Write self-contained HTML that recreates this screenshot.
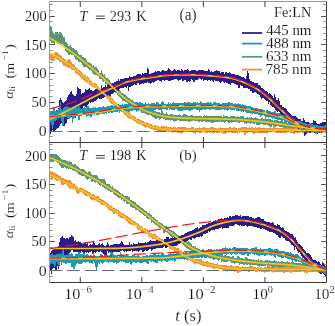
<!DOCTYPE html>
<html><head><meta charset="utf-8"><style>
html,body{margin:0;padding:0;background:#fff;}
body{width:335px;height:326px;overflow:hidden;position:relative;font-family:"Liberation Serif",serif;}
</style></head><body>
<svg width="335" height="326" viewBox="0 0 335 326" style="position:absolute;left:0;top:0;will-change:transform">
<defs><clipPath id="ca"><rect x="50" y="2" width="276" height="140"/></clipPath><clipPath id="cb"><rect x="50" y="143" width="276" height="139"/></clipPath></defs>
<g stroke="#3a3a3a" stroke-width="1" fill="none">
<path d="M49.5 1.5 H326.5" stroke="#9a9a9a"/>
<path d="M49.5 1.5 V282.5" stroke="#a0a0a0"/>
<path d="M326.5 1.5 V282.5 H49.5" stroke="#3a3a3a"/>
<line x1="49.5" y1="142.5" x2="326.5" y2="142.5" stroke="#3a3a3a"/>
<line x1="49.5" y1="136.50" x2="52.60" y2="136.50" stroke="#8a8a8a"/>
<line x1="326.5" y1="136.50" x2="323.40" y2="136.50" stroke="#8a8a8a"/>
<line x1="49.5" y1="131.50" x2="55.00" y2="131.50" stroke="#555"/>
<line x1="326.5" y1="131.50" x2="321.00" y2="131.50" stroke="#555"/>
<line x1="49.5" y1="125.50" x2="52.60" y2="125.50" stroke="#8a8a8a"/>
<line x1="326.5" y1="125.50" x2="323.40" y2="125.50" stroke="#8a8a8a"/>
<line x1="49.5" y1="119.50" x2="52.60" y2="119.50" stroke="#8a8a8a"/>
<line x1="326.5" y1="119.50" x2="323.40" y2="119.50" stroke="#8a8a8a"/>
<line x1="49.5" y1="113.50" x2="52.60" y2="113.50" stroke="#8a8a8a"/>
<line x1="326.5" y1="113.50" x2="323.40" y2="113.50" stroke="#8a8a8a"/>
<line x1="49.5" y1="108.50" x2="52.60" y2="108.50" stroke="#8a8a8a"/>
<line x1="326.5" y1="108.50" x2="323.40" y2="108.50" stroke="#8a8a8a"/>
<line x1="49.5" y1="102.50" x2="55.00" y2="102.50" stroke="#555"/>
<line x1="326.5" y1="102.50" x2="321.00" y2="102.50" stroke="#555"/>
<line x1="49.5" y1="96.50" x2="52.60" y2="96.50" stroke="#8a8a8a"/>
<line x1="326.5" y1="96.50" x2="323.40" y2="96.50" stroke="#8a8a8a"/>
<line x1="49.5" y1="90.50" x2="52.60" y2="90.50" stroke="#8a8a8a"/>
<line x1="326.5" y1="90.50" x2="323.40" y2="90.50" stroke="#8a8a8a"/>
<line x1="49.5" y1="85.50" x2="52.60" y2="85.50" stroke="#8a8a8a"/>
<line x1="326.5" y1="85.50" x2="323.40" y2="85.50" stroke="#8a8a8a"/>
<line x1="49.5" y1="79.50" x2="52.60" y2="79.50" stroke="#8a8a8a"/>
<line x1="326.5" y1="79.50" x2="323.40" y2="79.50" stroke="#8a8a8a"/>
<line x1="49.5" y1="73.50" x2="55.00" y2="73.50" stroke="#555"/>
<line x1="326.5" y1="73.50" x2="321.00" y2="73.50" stroke="#555"/>
<line x1="49.5" y1="67.50" x2="52.60" y2="67.50" stroke="#8a8a8a"/>
<line x1="326.5" y1="67.50" x2="323.40" y2="67.50" stroke="#8a8a8a"/>
<line x1="49.5" y1="62.50" x2="52.60" y2="62.50" stroke="#8a8a8a"/>
<line x1="326.5" y1="62.50" x2="323.40" y2="62.50" stroke="#8a8a8a"/>
<line x1="49.5" y1="56.50" x2="52.60" y2="56.50" stroke="#8a8a8a"/>
<line x1="326.5" y1="56.50" x2="323.40" y2="56.50" stroke="#8a8a8a"/>
<line x1="49.5" y1="50.50" x2="52.60" y2="50.50" stroke="#8a8a8a"/>
<line x1="326.5" y1="50.50" x2="323.40" y2="50.50" stroke="#8a8a8a"/>
<line x1="49.5" y1="44.50" x2="55.00" y2="44.50" stroke="#555"/>
<line x1="326.5" y1="44.50" x2="321.00" y2="44.50" stroke="#555"/>
<line x1="49.5" y1="39.50" x2="52.60" y2="39.50" stroke="#8a8a8a"/>
<line x1="326.5" y1="39.50" x2="323.40" y2="39.50" stroke="#8a8a8a"/>
<line x1="49.5" y1="33.50" x2="52.60" y2="33.50" stroke="#8a8a8a"/>
<line x1="326.5" y1="33.50" x2="323.40" y2="33.50" stroke="#8a8a8a"/>
<line x1="49.5" y1="27.50" x2="52.60" y2="27.50" stroke="#8a8a8a"/>
<line x1="326.5" y1="27.50" x2="323.40" y2="27.50" stroke="#8a8a8a"/>
<line x1="49.5" y1="21.50" x2="52.60" y2="21.50" stroke="#8a8a8a"/>
<line x1="326.5" y1="21.50" x2="323.40" y2="21.50" stroke="#8a8a8a"/>
<line x1="49.5" y1="16.50" x2="55.00" y2="16.50" stroke="#555"/>
<line x1="326.5" y1="16.50" x2="321.00" y2="16.50" stroke="#555"/>
<line x1="49.5" y1="10.50" x2="52.60" y2="10.50" stroke="#8a8a8a"/>
<line x1="326.5" y1="10.50" x2="323.40" y2="10.50" stroke="#8a8a8a"/>
<line x1="49.5" y1="4.50" x2="52.60" y2="4.50" stroke="#8a8a8a"/>
<line x1="326.5" y1="4.50" x2="323.40" y2="4.50" stroke="#8a8a8a"/>
<line x1="49.5" y1="276.50" x2="52.60" y2="276.50" stroke="#8a8a8a"/>
<line x1="326.5" y1="276.50" x2="323.40" y2="276.50" stroke="#8a8a8a"/>
<line x1="49.5" y1="270.50" x2="55.00" y2="270.50" stroke="#555"/>
<line x1="326.5" y1="270.50" x2="321.00" y2="270.50" stroke="#555"/>
<line x1="49.5" y1="264.50" x2="52.60" y2="264.50" stroke="#8a8a8a"/>
<line x1="326.5" y1="264.50" x2="323.40" y2="264.50" stroke="#8a8a8a"/>
<line x1="49.5" y1="259.50" x2="52.60" y2="259.50" stroke="#8a8a8a"/>
<line x1="326.5" y1="259.50" x2="323.40" y2="259.50" stroke="#8a8a8a"/>
<line x1="49.5" y1="253.50" x2="52.60" y2="253.50" stroke="#8a8a8a"/>
<line x1="326.5" y1="253.50" x2="323.40" y2="253.50" stroke="#8a8a8a"/>
<line x1="49.5" y1="247.50" x2="52.60" y2="247.50" stroke="#8a8a8a"/>
<line x1="326.5" y1="247.50" x2="323.40" y2="247.50" stroke="#8a8a8a"/>
<line x1="49.5" y1="241.50" x2="55.00" y2="241.50" stroke="#555"/>
<line x1="326.5" y1="241.50" x2="321.00" y2="241.50" stroke="#555"/>
<line x1="49.5" y1="236.50" x2="52.60" y2="236.50" stroke="#8a8a8a"/>
<line x1="326.5" y1="236.50" x2="323.40" y2="236.50" stroke="#8a8a8a"/>
<line x1="49.5" y1="230.50" x2="52.60" y2="230.50" stroke="#8a8a8a"/>
<line x1="326.5" y1="230.50" x2="323.40" y2="230.50" stroke="#8a8a8a"/>
<line x1="49.5" y1="224.50" x2="52.60" y2="224.50" stroke="#8a8a8a"/>
<line x1="326.5" y1="224.50" x2="323.40" y2="224.50" stroke="#8a8a8a"/>
<line x1="49.5" y1="218.50" x2="52.60" y2="218.50" stroke="#8a8a8a"/>
<line x1="326.5" y1="218.50" x2="323.40" y2="218.50" stroke="#8a8a8a"/>
<line x1="49.5" y1="213.50" x2="55.00" y2="213.50" stroke="#555"/>
<line x1="326.5" y1="213.50" x2="321.00" y2="213.50" stroke="#555"/>
<line x1="49.5" y1="207.50" x2="52.60" y2="207.50" stroke="#8a8a8a"/>
<line x1="326.5" y1="207.50" x2="323.40" y2="207.50" stroke="#8a8a8a"/>
<line x1="49.5" y1="201.50" x2="52.60" y2="201.50" stroke="#8a8a8a"/>
<line x1="326.5" y1="201.50" x2="323.40" y2="201.50" stroke="#8a8a8a"/>
<line x1="49.5" y1="195.50" x2="52.60" y2="195.50" stroke="#8a8a8a"/>
<line x1="326.5" y1="195.50" x2="323.40" y2="195.50" stroke="#8a8a8a"/>
<line x1="49.5" y1="190.50" x2="52.60" y2="190.50" stroke="#8a8a8a"/>
<line x1="326.5" y1="190.50" x2="323.40" y2="190.50" stroke="#8a8a8a"/>
<line x1="49.5" y1="184.50" x2="55.00" y2="184.50" stroke="#555"/>
<line x1="326.5" y1="184.50" x2="321.00" y2="184.50" stroke="#555"/>
<line x1="49.5" y1="178.50" x2="52.60" y2="178.50" stroke="#8a8a8a"/>
<line x1="326.5" y1="178.50" x2="323.40" y2="178.50" stroke="#8a8a8a"/>
<line x1="49.5" y1="172.50" x2="52.60" y2="172.50" stroke="#8a8a8a"/>
<line x1="326.5" y1="172.50" x2="323.40" y2="172.50" stroke="#8a8a8a"/>
<line x1="49.5" y1="167.50" x2="52.60" y2="167.50" stroke="#8a8a8a"/>
<line x1="326.5" y1="167.50" x2="323.40" y2="167.50" stroke="#8a8a8a"/>
<line x1="49.5" y1="161.50" x2="52.60" y2="161.50" stroke="#8a8a8a"/>
<line x1="326.5" y1="161.50" x2="323.40" y2="161.50" stroke="#8a8a8a"/>
<line x1="49.5" y1="155.50" x2="55.00" y2="155.50" stroke="#555"/>
<line x1="326.5" y1="155.50" x2="321.00" y2="155.50" stroke="#555"/>
<line x1="49.5" y1="149.50" x2="52.60" y2="149.50" stroke="#8a8a8a"/>
<line x1="326.5" y1="149.50" x2="323.40" y2="149.50" stroke="#8a8a8a"/>
<line x1="49.5" y1="144.50" x2="52.60" y2="144.50" stroke="#8a8a8a"/>
<line x1="326.5" y1="144.50" x2="323.40" y2="144.50" stroke="#8a8a8a"/>
<line x1="80.28" y1="1.50" x2="80.28" y2="7.00"/>
<line x1="80.28" y1="142.50" x2="80.28" y2="137.00"/>
<line x1="80.28" y1="142.50" x2="80.28" y2="148.00"/>
<line x1="80.28" y1="282.50" x2="80.28" y2="277.00"/>
<line x1="141.83" y1="1.50" x2="141.83" y2="7.00"/>
<line x1="141.83" y1="142.50" x2="141.83" y2="137.00"/>
<line x1="141.83" y1="142.50" x2="141.83" y2="148.00"/>
<line x1="141.83" y1="282.50" x2="141.83" y2="277.00"/>
<line x1="203.39" y1="1.50" x2="203.39" y2="7.00"/>
<line x1="203.39" y1="142.50" x2="203.39" y2="137.00"/>
<line x1="203.39" y1="142.50" x2="203.39" y2="148.00"/>
<line x1="203.39" y1="282.50" x2="203.39" y2="277.00"/>
<line x1="264.94" y1="1.50" x2="264.94" y2="7.00"/>
<line x1="264.94" y1="142.50" x2="264.94" y2="137.00"/>
<line x1="264.94" y1="142.50" x2="264.94" y2="148.00"/>
<line x1="264.94" y1="282.50" x2="264.94" y2="277.00"/>
</g>
<g clip-path="url(#ca)" fill="none" stroke-linejoin="round">
<path d="M49.3 25.1 L49.8 25.5 L50.3 25.9 L50.8 26.3 L51.3 26.7 L51.8 28.7 L52.3 29.1 L52.8 32.5 L53.3 32.9 L53.8 33.2 L54.3 33.6 L54.8 33.8 L55.3 31.9 L55.8 32.3 L56.3 32.7 L56.8 31.9 L57.3 32.3 L57.8 32.7 L58.3 33.1 L58.8 34.6 L59.3 32.3 L59.8 32.7 L60.3 33.1 L60.8 31.5 L61.3 32.0 L61.8 34.6 L62.3 35.1 L62.8 35.9 L63.3 36.4 L63.8 36.8 L64.3 37.3 L64.8 37.3 L65.3 41.6 L65.8 42.0 L66.3 41.6 L66.8 42.0 L67.3 42.4 L67.8 45.3 L68.3 45.8 L68.8 46.2 L69.3 45.4 L69.8 45.8 L70.3 44.6 L70.8 45.0 L71.3 46.7 L71.8 47.1 L72.3 47.5 L72.8 48.9 L73.3 47.9 L73.8 48.3 L74.3 48.7 L74.8 49.3 L75.3 49.7 L75.8 49.8 L76.3 50.2 L76.8 50.7 L77.3 51.1 L77.8 53.6 L78.3 54.3 L78.8 54.7 L79.3 55.1 L79.8 54.4 L80.3 54.8 L80.8 55.3 L81.3 54.8 L81.8 55.1 L82.3 56.6 L82.8 57.0 L83.3 56.7 L83.8 57.2 L84.3 57.6 L84.8 57.6 L85.3 58.1 L85.8 59.1 L86.3 59.6 L86.8 60.0 L87.3 61.5 L87.8 62.0 L88.3 62.4 L88.8 62.5 L89.3 62.4 L89.8 62.8 L90.3 62.4 L90.8 62.9 L91.3 63.6 L91.8 65.2 L92.3 65.6 L92.8 65.7 L93.3 65.2 L93.8 65.7 L94.3 67.4 L94.8 67.1 L95.3 67.5 L95.8 66.3 L96.3 66.8 L96.8 68.5 L97.3 68.9 L97.8 69.4 L98.3 69.9 L98.8 69.5 L99.3 72.5 L99.8 72.9 L100.3 73.2 L100.8 73.6 L101.3 69.8 L101.8 70.2 L102.3 71.5 L102.8 74.5 L103.3 74.7 L103.8 75.2 L104.3 73.9 L104.8 74.3 L105.3 76.6 L105.8 77.1 L106.3 77.4 L106.8 77.8 L107.3 78.5 L107.8 78.3 L108.3 78.8 L108.8 78.5 L109.3 79.0 L109.8 81.1 L110.3 81.6 L110.8 82.9 L111.3 83.4 L111.8 83.3 L112.3 83.6 L112.8 84.1 L113.3 83.9 L113.8 85.2 L114.3 85.2 L114.8 85.7 L115.3 86.3 L115.8 86.7 L116.3 86.5 L116.8 87.0 L117.3 89.2 L117.8 89.8 L118.3 90.3 L118.8 89.3 L119.3 89.8 L119.8 90.4 L120.3 90.8 L120.8 91.2 L121.3 92.6 L121.8 92.8 L122.3 93.1 L122.8 93.6 L123.3 94.0 L123.8 94.2 L124.3 94.6 L124.8 93.9 L125.3 94.3 L125.8 95.1 L126.3 95.5 L126.8 97.0 L127.3 97.3 L127.8 97.8 L128.3 98.1 L128.8 98.2 L129.3 98.3 L129.8 98.4 L130.3 98.5 L130.8 98.9 L131.3 100.1 L131.8 100.4 L132.3 99.7 L132.8 100.0 L133.3 101.4 L133.8 101.5 L134.3 101.5 L134.8 101.7 L135.3 102.0 L135.8 102.0 L136.3 102.3 L136.8 103.4 L137.3 103.7 L137.8 104.2 L138.3 104.5 L138.8 104.3 L139.3 104.6 L139.8 104.9 L140.3 105.2 L140.8 105.5 L141.3 104.6 L141.8 104.9 L142.3 104.5 L142.8 105.6 L143.3 106.4 L143.8 106.6 L144.3 106.6 L144.8 106.9 L145.3 108.5 L145.8 108.7 L146.3 106.5 L146.8 106.7 L147.3 106.9 L147.8 107.6 L148.3 107.8 L148.8 108.7 L149.3 108.2 L149.8 108.4 L150.3 108.5 L150.8 108.6 L151.3 109.8 L151.8 110.2 L152.3 110.4 L152.8 110.5 L153.3 109.8 L153.8 110.7 L154.3 110.5 L154.8 111.1 L155.3 111.3 L155.8 111.7 L156.3 111.9 L156.8 112.0 L157.3 111.3 L157.8 112.0 L158.3 112.2 L158.8 112.0 L159.3 112.2 L159.8 112.6 L160.3 113.2 L160.8 113.3 L161.3 110.2 L161.8 110.3 L162.3 110.5 L162.8 110.6 L163.3 111.5 L163.8 114.1 L164.3 113.4 L164.8 114.2 L165.3 114.3 L165.8 114.5 L166.3 112.5 L166.8 112.2 L167.3 114.2 L167.8 114.4 L168.3 114.7 L168.8 115.2 L169.3 115.1 L169.8 114.5 L170.3 114.5 L170.8 114.4 L171.3 114.5 L171.8 113.6 L172.3 113.7 L172.8 114.2 L173.3 114.7 L173.8 114.7 L174.3 115.1 L174.8 115.1 L175.3 114.5 L175.8 114.6 L176.3 114.7 L176.8 114.6 L177.3 114.8 L177.8 114.8 L178.3 115.1 L178.8 114.3 L179.3 114.3 L179.8 114.2 L180.3 114.2 L180.8 115.7 L181.3 115.7 L181.8 115.8 L182.3 115.8 L182.8 114.2 L183.3 114.2 L183.8 114.3 L184.3 114.2 L184.8 114.3 L185.3 114.4 L185.8 114.3 L186.3 114.3 L186.8 114.9 L187.3 115.1 L187.8 115.5 L188.3 115.5 L188.8 116.1 L189.3 115.7 L189.8 115.5 L190.3 115.6 L190.8 115.0 L191.3 115.0 L191.8 114.4 L192.3 115.1 L192.8 115.5 L193.3 115.5 L193.8 115.7 L194.3 115.7 L194.8 115.7 L195.3 116.4 L195.8 116.4 L196.3 116.4 L196.8 116.0 L197.3 116.0 L197.8 116.0 L198.3 115.7 L198.8 115.7 L199.3 116.1 L199.8 116.1 L200.3 116.0 L200.8 116.2 L201.3 116.2 L201.8 116.7 L202.3 116.7 L202.8 116.4 L203.3 116.4 L203.8 116.1 L204.3 114.7 L204.8 114.7 L205.3 115.8 L205.8 116.1 L206.3 114.6 L206.8 114.6 L207.3 116.3 L207.8 116.0 L208.3 116.0 L208.8 116.3 L209.3 116.3 L209.8 115.9 L210.3 115.7 L210.8 116.4 L211.3 116.4 L211.8 116.4 L212.3 116.4 L212.8 115.5 L213.3 115.6 L213.8 115.6 L214.3 115.5 L214.8 115.5 L215.3 115.8 L215.8 115.8 L216.3 115.6 L216.8 116.2 L217.3 116.2 L217.8 116.2 L218.3 116.2 L218.8 115.7 L219.3 115.7 L219.8 115.4 L220.3 115.4 L220.8 116.0 L221.3 116.0 L221.8 116.7 L222.3 116.8 L222.8 116.5 L223.3 115.4 L223.8 115.5 L224.3 115.6 L224.8 115.8 L225.3 116.5 L225.8 115.7 L226.3 115.7 L226.8 115.4 L227.3 115.5 L227.8 116.5 L228.3 116.5 L228.8 116.6 L229.3 116.6 L229.8 116.6 L230.3 115.6 L230.8 115.6 L231.3 116.1 L231.8 116.1 L232.3 115.5 L232.8 115.5 L233.3 116.1 L233.8 116.2 L234.3 116.3 L234.8 116.4 L235.3 117.0 L235.8 116.9 L236.3 116.9 L236.8 116.2 L237.3 116.1 L237.8 117.1 L238.3 117.2 L238.8 117.3 L239.3 117.1 L239.8 117.3 L240.3 116.7 L240.8 116.2 L241.3 116.1 L241.8 116.2 L242.3 116.2 L242.8 116.3 L243.3 116.0 L243.8 116.7 L244.3 117.9 L244.8 118.3 L245.3 117.5 L245.8 117.5 L246.3 117.8 L246.8 117.9 L247.3 117.3 L247.8 117.4 L248.3 117.7 L248.8 117.7 L249.3 116.9 L249.8 116.9 L250.3 117.4 L250.8 117.8 L251.3 116.9 L251.8 116.3 L252.3 117.7 L252.8 117.8 L253.3 118.5 L253.8 117.6 L254.3 117.5 L254.8 117.5 L255.3 117.1 L255.8 117.9 L256.3 118.1 L256.8 118.1 L257.3 118.2 L257.8 118.5 L258.3 118.5 L258.8 118.7 L259.3 118.8 L259.8 118.7 L260.3 118.7 L260.8 118.7 L261.3 117.7 L261.8 117.8 L262.3 118.0 L262.8 118.9 L263.3 119.0 L263.8 119.0 L264.3 119.4 L264.8 118.4 L265.3 118.7 L265.8 118.1 L266.3 118.8 L266.8 119.3 L267.3 119.3 L267.8 119.2 L268.3 119.1 L268.8 119.1 L269.3 119.2 L269.8 119.8 L270.3 119.2 L270.8 119.3 L271.3 120.0 L271.8 120.0 L272.3 119.4 L272.8 120.1 L273.3 120.5 L273.8 120.6 L274.3 119.6 L274.8 119.7 L275.3 119.6 L275.8 119.7 L276.3 119.4 L276.8 119.9 L277.3 119.9 L277.8 119.8 L278.3 120.9 L278.8 121.2 L279.3 121.3 L279.8 121.6 L280.3 121.7 L280.8 121.1 L281.3 121.4 L281.8 121.5 L282.3 121.6 L282.8 121.7 L283.3 122.2 L283.8 122.5 L284.3 122.6 L284.8 122.1 L285.3 121.8 L285.8 122.1 L286.3 122.7 L286.8 122.3 L287.3 122.3 L287.8 123.1 L288.3 121.7 L288.8 121.8 L289.3 121.7 L289.8 122.4 L290.3 122.5 L290.8 123.1 L291.3 123.5 L291.8 123.6 L292.3 123.7 L292.8 122.9 L293.3 123.0 L293.8 123.2 L294.3 123.3 L294.8 123.4 L295.3 122.6 L295.8 122.6 L296.3 122.7 L296.8 124.3 L297.3 124.3 L297.8 124.0 L298.3 124.0 L298.8 124.2 L299.3 124.2 L299.8 124.7 L300.3 123.8 L300.8 123.5 L301.3 123.2 L301.8 123.6 L302.3 123.7 L302.8 124.7 L303.3 122.8 L303.8 122.8 L304.3 122.9 L304.8 122.9 L305.3 123.1 L305.8 123.1 L306.3 125.8 L306.8 125.8 L307.3 125.2 L307.8 125.3 L308.3 125.7 L308.8 125.7 L309.3 125.8 L309.8 125.8 L310.3 125.8 L310.8 125.4 L311.3 125.5 L311.8 125.5 L312.3 126.6 L312.8 126.7 L313.3 125.9 L313.8 125.5 L314.3 125.4 L314.8 125.4 L315.3 125.6 L315.8 125.8 L316.3 125.8 L316.8 125.6 L317.3 126.3 L317.8 126.9 L318.3 127.0 L318.8 127.0 L319.3 126.5 L319.8 126.6 L320.3 125.5 L320.8 125.5 L321.3 125.9 L321.8 124.9 L322.3 125.5 L322.8 124.3 L323.3 124.3 L323.8 126.6 L324.3 126.7 L324.8 127.2 L325.3 126.7 L325.8 126.8 L326.3 127.5 L326.3 132.6 L325.8 131.9 L325.3 132.2 L324.8 133.1 L324.3 133.1 L323.8 133.1 L323.3 132.0 L322.8 132.0 L322.3 132.4 L321.8 131.8 L321.3 131.8 L320.8 131.4 L320.3 132.5 L319.8 132.6 L319.3 132.5 L318.8 133.0 L318.3 133.0 L317.8 132.3 L317.3 132.3 L316.8 131.6 L316.3 131.6 L315.8 131.6 L315.3 131.6 L314.8 131.4 L314.3 131.9 L313.8 132.0 L313.3 131.9 L312.8 131.6 L312.3 131.5 L311.8 130.9 L311.3 130.9 L310.8 130.8 L310.3 131.4 L309.8 131.3 L309.3 131.5 L308.8 131.5 L308.3 131.4 L307.8 131.2 L307.3 131.0 L306.8 131.6 L306.3 131.5 L305.8 129.6 L305.3 129.6 L304.8 129.7 L304.3 129.8 L303.8 129.7 L303.3 129.7 L302.8 129.6 L302.3 130.0 L301.8 130.2 L301.3 129.8 L300.8 129.7 L300.3 129.6 L299.8 129.5 L299.3 129.0 L298.8 129.0 L298.3 130.1 L297.8 130.1 L297.3 130.4 L296.8 129.5 L296.3 129.0 L295.8 128.9 L295.3 129.0 L294.8 129.0 L294.3 128.8 L293.8 128.8 L293.3 128.6 L292.8 129.0 L292.3 129.7 L291.8 129.6 L291.3 128.8 L290.8 128.4 L290.3 127.8 L289.8 127.8 L289.3 127.7 L288.8 127.8 L288.3 127.9 L287.8 128.4 L287.3 127.6 L286.8 127.9 L286.3 128.3 L285.8 128.2 L285.3 127.9 L284.8 127.8 L284.3 127.4 L283.8 127.4 L283.3 127.7 L282.8 127.6 L282.3 127.0 L281.8 126.9 L281.3 126.8 L280.8 127.0 L280.3 127.4 L279.8 127.3 L279.3 127.4 L278.8 126.4 L278.3 126.1 L277.8 126.1 L277.3 126.7 L276.8 126.6 L276.3 126.1 L275.8 127.2 L275.3 127.1 L274.8 127.2 L274.3 127.1 L273.8 127.2 L273.3 125.6 L272.8 125.1 L272.3 125.1 L271.8 125.7 L271.3 127.7 L270.8 127.0 L270.3 127.0 L269.8 126.4 L269.3 125.7 L268.8 125.7 L268.3 125.7 L267.8 125.6 L267.3 124.8 L266.8 124.7 L266.3 124.2 L265.8 124.1 L265.3 125.6 L264.8 125.3 L264.3 125.2 L263.8 124.8 L263.3 124.5 L262.8 124.5 L262.3 124.3 L261.8 124.1 L261.3 124.0 L260.8 124.0 L260.3 124.7 L259.8 124.6 L259.3 124.7 L258.8 124.7 L258.3 124.9 L257.8 124.8 L257.3 124.8 L256.8 124.7 L256.3 124.7 L255.8 123.4 L255.3 123.3 L254.8 123.7 L254.3 123.8 L253.8 124.0 L253.3 124.0 L252.8 123.2 L252.3 122.6 L251.8 122.6 L251.3 124.1 L250.8 124.0 L250.3 123.6 L249.8 123.1 L249.3 122.7 L248.8 123.3 L248.3 123.2 L247.8 122.9 L247.3 122.9 L246.8 124.4 L246.3 124.4 L245.8 123.1 L245.3 123.0 L244.8 123.8 L244.3 123.8 L243.8 122.6 L243.3 121.9 L242.8 122.2 L242.3 122.1 L241.8 122.1 L241.3 122.0 L240.8 122.2 L240.3 122.7 L239.8 123.1 L239.3 122.8 L238.8 123.0 L238.3 122.8 L237.8 122.8 L237.3 121.8 L236.8 121.7 L236.3 122.0 L235.8 122.0 L235.3 122.0 L234.8 121.5 L234.3 122.0 L233.8 121.8 L233.3 122.0 L232.8 122.4 L232.3 122.4 L231.8 122.6 L231.3 122.8 L230.8 122.4 L230.3 122.4 L229.8 122.6 L229.3 122.6 L228.8 122.6 L228.3 122.5 L227.8 122.5 L227.3 121.2 L226.8 121.2 L226.3 120.9 L225.8 120.9 L225.3 122.9 L224.8 122.9 L224.3 122.7 L223.8 122.7 L223.3 121.7 L222.8 121.7 L222.3 121.9 L221.8 121.9 L221.3 121.4 L220.8 121.3 L220.3 121.4 L219.8 121.4 L219.3 121.7 L218.8 122.1 L218.3 122.1 L217.8 122.0 L217.3 121.7 L216.8 121.8 L216.3 121.7 L215.8 121.9 L215.3 122.5 L214.8 122.2 L214.3 122.2 L213.8 122.7 L213.3 122.7 L212.8 122.7 L212.3 122.6 L211.8 122.6 L211.3 122.6 L210.8 122.6 L210.3 121.6 L209.8 121.6 L209.3 122.0 L208.8 122.0 L208.3 121.6 L207.8 121.7 L207.3 122.0 L206.8 122.0 L206.3 122.0 L205.8 122.0 L205.3 121.5 L204.8 121.5 L204.3 121.4 L203.8 121.1 L203.3 121.4 L202.8 121.4 L202.3 122.0 L201.8 122.0 L201.3 121.5 L200.8 121.5 L200.3 121.2 L199.8 121.3 L199.3 122.1 L198.8 121.6 L198.3 121.6 L197.8 122.1 L197.3 121.0 L196.8 121.0 L196.3 121.3 L195.8 121.3 L195.3 121.4 L194.8 120.7 L194.3 120.7 L193.8 120.5 L193.3 120.3 L192.8 120.3 L192.3 121.0 L191.8 120.3 L191.3 120.8 L190.8 120.8 L190.3 121.3 L189.8 121.6 L189.3 121.7 L188.8 122.1 L188.3 121.4 L187.8 121.3 L187.3 120.9 L186.8 120.7 L186.3 120.7 L185.8 121.4 L185.3 121.5 L184.8 121.5 L184.3 121.4 L183.8 120.8 L183.3 120.7 L182.8 120.7 L182.3 120.9 L181.8 120.9 L181.3 120.7 L180.8 120.7 L180.3 120.6 L179.8 120.5 L179.3 120.7 L178.8 120.4 L178.3 120.4 L177.8 120.1 L177.3 120.0 L176.8 121.3 L176.3 121.3 L175.8 121.2 L175.3 121.2 L174.8 121.8 L174.3 121.4 L173.8 121.5 L173.3 120.7 L172.8 120.2 L172.3 119.7 L171.8 119.6 L171.3 121.1 L170.8 121.1 L170.3 121.2 L169.8 119.7 L169.3 120.4 L168.8 120.3 L168.3 119.8 L167.8 119.7 L167.3 119.8 L166.8 119.7 L166.3 120.1 L165.8 119.7 L165.3 119.5 L164.8 119.4 L164.3 118.5 L163.8 119.1 L163.3 119.0 L162.8 118.1 L162.3 118.0 L161.8 117.9 L161.3 117.8 L160.8 118.2 L160.3 120.2 L159.8 119.7 L159.3 119.5 L158.8 117.4 L158.3 117.6 L157.8 117.4 L157.3 117.9 L156.8 118.6 L156.3 118.5 L155.8 118.3 L155.3 118.9 L154.8 118.8 L154.3 118.1 L153.8 117.6 L153.3 117.4 L152.8 117.3 L152.3 117.2 L151.8 117.0 L151.3 115.2 L150.8 115.0 L150.3 114.9 L149.8 114.8 L149.3 114.6 L148.8 115.3 L148.3 114.8 L147.8 115.8 L147.3 115.1 L146.8 115.0 L146.3 114.1 L145.8 114.5 L145.3 114.1 L144.8 113.2 L144.3 113.0 L143.8 113.1 L143.3 112.9 L142.8 112.1 L142.3 112.9 L141.8 113.2 L141.3 113.0 L140.8 112.6 L140.3 110.6 L139.8 110.3 L139.3 109.9 L138.8 109.6 L138.3 110.9 L137.8 110.6 L137.3 109.9 L136.8 108.7 L136.3 108.0 L135.8 107.7 L135.3 107.7 L134.8 107.4 L134.3 107.2 L133.8 106.9 L133.3 106.6 L132.8 106.3 L132.3 106.0 L131.8 106.2 L131.3 105.8 L130.8 104.8 L130.3 104.5 L129.8 105.7 L129.3 105.3 L128.8 105.2 L128.3 105.2 L127.8 103.1 L127.3 103.2 L126.8 102.8 L126.3 102.1 L125.8 101.8 L125.3 102.0 L124.8 101.6 L124.3 101.2 L123.8 100.8 L123.3 100.6 L122.8 100.8 L122.3 100.4 L121.8 99.9 L121.3 98.5 L120.8 98.1 L120.3 97.4 L119.8 96.9 L119.3 96.5 L118.8 96.0 L118.3 95.8 L117.8 95.4 L117.3 95.2 L116.8 93.1 L116.3 92.5 L115.8 92.7 L115.3 92.5 L114.8 91.9 L114.3 91.5 L113.8 92.1 L113.3 90.8 L112.8 89.8 L112.3 89.3 L111.8 89.0 L111.3 89.0 L110.8 88.5 L110.3 87.2 L109.8 86.8 L109.3 86.2 L108.8 85.9 L108.3 84.9 L107.8 84.5 L107.3 84.6 L106.8 83.9 L106.3 83.4 L105.8 84.0 L105.3 83.5 L104.8 81.4 L104.3 80.9 L103.8 82.2 L103.3 81.7 L102.8 81.5 L102.3 81.1 L101.8 79.9 L101.3 78.7 L100.8 79.4 L100.3 79.0 L99.8 78.7 L99.3 78.5 L98.8 76.0 L98.3 76.5 L97.8 76.0 L97.3 75.5 L96.8 75.5 L96.3 74.3 L95.8 73.9 L95.3 75.1 L94.8 74.7 L94.3 75.5 L93.8 73.8 L93.3 73.4 L92.8 73.1 L92.3 72.7 L91.8 72.3 L91.3 70.7 L90.8 69.9 L90.3 69.5 L89.8 70.1 L89.3 69.7 L88.8 69.3 L88.3 68.5 L87.8 68.1 L87.3 67.7 L86.8 67.5 L86.3 67.1 L85.8 67.7 L85.3 66.7 L84.8 67.7 L84.3 67.2 L83.8 66.8 L83.3 66.4 L82.8 66.1 L82.3 63.4 L81.8 63.0 L81.3 62.7 L80.8 62.3 L80.3 62.0 L79.8 61.6 L79.3 62.2 L78.8 62.6 L78.3 62.2 L77.8 61.9 L77.3 59.3 L76.8 60.0 L76.3 59.6 L75.8 59.2 L75.3 58.8 L74.8 58.5 L74.3 55.6 L73.8 55.3 L73.3 54.7 L72.8 55.7 L72.3 55.3 L71.8 55.0 L71.3 55.5 L70.8 54.5 L70.3 54.1 L69.8 55.4 L69.3 55.3 L68.8 55.0 L68.3 54.8 L67.8 54.5 L67.3 52.7 L66.8 52.3 L66.3 52.0 L65.8 51.6 L65.3 51.3 L64.8 46.0 L64.3 45.6 L63.8 45.0 L63.3 44.6 L62.8 44.2 L62.3 44.7 L61.8 44.3 L61.3 43.6 L60.8 43.2 L60.3 44.2 L59.8 43.8 L59.3 43.4 L58.8 43.1 L58.3 42.7 L57.8 44.2 L57.3 43.9 L56.8 43.5 L56.3 43.2 L55.8 42.8 L55.3 41.9 L54.8 44.0 L54.3 43.7 L53.8 43.4 L53.3 43.1 L52.8 43.6 L52.3 43.3 L51.8 43.0 L51.3 42.7 L50.8 41.2 L50.3 40.9 L49.8 40.6 L49.3 40.3Z" fill="#56987c" stroke="none" shape-rendering="crispEdges"/>
<path d="M49.3 51.8 L49.8 52.0 L50.3 52.2 L50.8 53.6 L51.3 53.8 L51.8 54.1 L52.3 52.8 L52.8 53.0 L53.3 53.3 L53.8 54.6 L54.3 54.8 L54.8 51.2 L55.3 51.5 L55.8 51.8 L56.3 52.0 L56.8 52.4 L57.3 52.7 L57.8 53.0 L58.3 53.3 L58.8 53.6 L59.3 54.5 L59.8 54.8 L60.3 55.1 L60.8 55.4 L61.3 55.7 L61.8 56.1 L62.3 57.4 L62.8 57.7 L63.3 58.0 L63.8 58.4 L64.3 58.5 L64.8 58.9 L65.3 59.2 L65.8 59.6 L66.3 60.8 L66.8 60.1 L67.3 60.5 L67.8 58.6 L68.3 59.0 L68.8 59.3 L69.3 59.7 L69.8 59.2 L70.3 59.9 L70.8 60.3 L71.3 60.8 L71.8 63.2 L72.3 63.7 L72.8 64.1 L73.3 64.5 L73.8 63.6 L74.3 64.0 L74.8 66.7 L75.3 67.1 L75.8 67.5 L76.3 68.0 L76.8 68.6 L77.3 68.0 L77.8 68.4 L78.3 69.4 L78.8 69.9 L79.3 70.3 L79.8 70.8 L80.3 71.2 L80.8 71.6 L81.3 72.0 L81.8 72.4 L82.3 72.8 L82.8 73.3 L83.3 73.7 L83.8 74.7 L84.3 75.2 L84.8 74.3 L85.3 74.8 L85.8 75.2 L86.3 76.6 L86.8 76.8 L87.3 75.7 L87.8 76.1 L88.3 76.4 L88.8 76.8 L89.3 78.6 L89.8 79.1 L90.3 79.5 L90.8 80.1 L91.3 81.3 L91.8 81.2 L92.3 81.5 L92.8 81.9 L93.3 82.5 L93.8 83.0 L94.3 82.6 L94.8 83.0 L95.3 82.9 L95.8 83.3 L96.3 83.9 L96.8 84.5 L97.3 85.8 L97.8 86.3 L98.3 86.7 L98.8 86.9 L99.3 87.9 L99.8 88.6 L100.3 89.1 L100.8 88.7 L101.3 88.7 L101.8 89.6 L102.3 90.2 L102.8 90.7 L103.3 91.0 L103.8 91.8 L104.3 91.5 L104.8 91.5 L105.3 92.2 L105.8 92.7 L106.3 93.2 L106.8 93.7 L107.3 93.7 L107.8 93.4 L108.3 94.5 L108.8 95.0 L109.3 95.7 L109.8 97.5 L110.3 95.8 L110.8 96.2 L111.3 97.8 L111.8 97.3 L112.3 97.7 L112.8 99.7 L113.3 100.2 L113.8 100.0 L114.3 100.5 L114.8 100.7 L115.3 102.0 L115.8 102.9 L116.3 103.3 L116.8 103.6 L117.3 104.0 L117.8 104.2 L118.3 104.1 L118.8 104.5 L119.3 104.9 L119.8 105.3 L120.3 106.5 L120.8 106.6 L121.3 107.0 L121.8 106.9 L122.3 107.3 L122.8 107.6 L123.3 108.0 L123.8 108.0 L124.3 109.9 L124.8 110.2 L125.3 110.2 L125.8 110.6 L126.3 111.7 L126.8 110.9 L127.3 110.9 L127.8 111.3 L128.3 111.7 L128.8 111.1 L129.3 111.2 L129.8 111.6 L130.3 114.2 L130.8 114.5 L131.3 114.9 L131.8 115.4 L132.3 115.8 L132.8 115.8 L133.3 116.2 L133.8 116.6 L134.3 116.3 L134.8 116.6 L135.3 117.3 L135.8 117.7 L136.3 118.8 L136.8 119.0 L137.3 118.4 L137.8 118.6 L138.3 118.6 L138.8 118.9 L139.3 119.3 L139.8 119.4 L140.3 119.7 L140.8 119.6 L141.3 119.9 L141.8 120.4 L142.3 120.6 L142.8 121.1 L143.3 121.3 L143.8 121.6 L144.3 122.4 L144.8 122.6 L145.3 123.2 L145.8 123.4 L146.3 122.4 L146.8 122.6 L147.3 122.8 L147.8 122.8 L148.3 123.0 L148.8 123.7 L149.3 123.9 L149.8 124.0 L150.3 124.1 L150.8 124.3 L151.3 124.2 L151.8 124.3 L152.3 125.0 L152.8 125.7 L153.3 125.5 L153.8 125.6 L154.3 125.7 L154.8 124.7 L155.3 124.8 L155.8 126.2 L156.3 126.3 L156.8 126.3 L157.3 126.4 L157.8 126.4 L158.3 126.4 L158.8 126.4 L159.3 126.5 L159.8 127.1 L160.3 127.1 L160.8 126.1 L161.3 126.2 L161.8 126.4 L162.3 126.5 L162.8 126.3 L163.3 126.5 L163.8 126.4 L164.3 126.2 L164.8 126.3 L165.3 126.7 L165.8 126.7 L166.3 125.7 L166.8 125.7 L167.3 126.6 L167.8 126.6 L168.3 127.3 L168.8 127.5 L169.3 126.7 L169.8 126.5 L170.3 126.6 L170.8 126.6 L171.3 126.2 L171.8 127.0 L172.3 127.6 L172.8 127.6 L173.3 127.2 L173.8 127.2 L174.3 127.0 L174.8 127.1 L175.3 127.1 L175.8 127.8 L176.3 127.8 L176.8 127.4 L177.3 127.7 L177.8 126.6 L178.3 126.7 L178.8 126.9 L179.3 126.6 L179.8 126.6 L180.3 127.4 L180.8 127.0 L181.3 127.0 L181.8 127.0 L182.3 127.0 L182.8 127.0 L183.3 127.0 L183.8 127.4 L184.3 127.4 L184.8 126.9 L185.3 126.9 L185.8 127.5 L186.3 128.3 L186.8 128.4 L187.3 128.1 L187.8 128.1 L188.3 128.1 L188.8 128.3 L189.3 128.3 L189.8 127.7 L190.3 127.8 L190.8 127.6 L191.3 126.8 L191.8 127.1 L192.3 127.1 L192.8 127.3 L193.3 127.3 L193.8 127.3 L194.3 128.7 L194.8 128.3 L195.3 128.3 L195.8 128.8 L196.3 128.0 L196.8 128.0 L197.3 127.7 L197.8 128.2 L198.3 128.2 L198.8 127.4 L199.3 127.4 L199.8 127.1 L200.3 127.9 L200.8 128.2 L201.3 128.1 L201.8 127.6 L202.3 127.6 L202.8 127.6 L203.3 127.5 L203.8 127.4 L204.3 127.3 L204.8 127.3 L205.3 127.9 L205.8 128.0 L206.3 127.9 L206.8 128.1 L207.3 128.1 L207.8 128.0 L208.3 127.9 L208.8 128.5 L209.3 128.5 L209.8 127.9 L210.3 127.9 L210.8 126.4 L211.3 126.4 L211.8 127.4 L212.3 127.4 L212.8 127.5 L213.3 127.5 L213.8 127.2 L214.3 128.4 L214.8 127.8 L215.3 127.8 L215.8 127.8 L216.3 128.2 L216.8 128.3 L217.3 128.7 L217.8 128.5 L218.3 128.3 L218.8 127.6 L219.3 128.0 L219.8 128.0 L220.3 127.2 L220.8 127.2 L221.3 128.4 L221.8 128.4 L222.3 128.4 L222.8 127.9 L223.3 127.9 L223.8 128.0 L224.3 127.5 L224.8 128.1 L225.3 128.1 L225.8 128.4 L226.3 128.4 L226.8 127.7 L227.3 127.7 L227.8 127.5 L228.3 127.6 L228.8 127.6 L229.3 126.8 L229.8 126.8 L230.3 126.7 L230.8 126.7 L231.3 127.4 L231.8 128.3 L232.3 128.4 L232.8 128.0 L233.3 127.2 L233.8 126.8 L234.3 126.8 L234.8 128.5 L235.3 128.5 L235.8 128.3 L236.3 128.3 L236.8 128.3 L237.3 129.0 L237.8 128.0 L238.3 128.0 L238.8 128.0 L239.3 128.0 L239.8 128.0 L240.3 127.8 L240.8 127.8 L241.3 127.3 L241.8 127.3 L242.3 127.2 L242.8 127.1 L243.3 127.1 L243.8 127.5 L244.3 127.4 L244.8 127.3 L245.3 127.0 L245.8 127.0 L246.3 127.2 L246.8 127.4 L247.3 127.4 L247.8 128.0 L248.3 127.6 L248.8 127.6 L249.3 127.3 L249.8 127.3 L250.3 128.0 L250.8 128.3 L251.3 127.3 L251.8 127.3 L252.3 127.4 L252.8 127.4 L253.3 127.6 L253.8 127.9 L254.3 128.2 L254.8 128.2 L255.3 127.2 L255.8 127.2 L256.3 127.4 L256.8 127.9 L257.3 127.9 L257.8 128.0 L258.3 127.1 L258.8 127.1 L259.3 127.4 L259.8 127.3 L260.3 128.0 L260.8 128.0 L261.3 128.0 L261.8 128.4 L262.3 128.6 L262.8 128.2 L263.3 128.3 L263.8 128.2 L264.3 128.2 L264.8 128.4 L265.3 128.4 L265.8 128.1 L266.3 128.1 L266.8 128.0 L267.3 128.3 L267.8 128.7 L268.3 128.4 L268.8 128.4 L269.3 128.5 L269.8 126.8 L270.3 126.8 L270.8 128.2 L271.3 128.2 L271.8 128.2 L272.3 128.3 L272.8 128.3 L273.3 126.3 L273.8 126.3 L274.3 126.3 L274.8 126.1 L275.3 127.8 L275.8 127.8 L276.3 127.8 L276.8 128.2 L277.3 128.4 L277.8 128.4 L278.3 128.4 L278.8 127.7 L279.3 127.7 L279.8 128.7 L280.3 128.7 L280.8 128.2 L281.3 127.8 L281.8 127.7 L282.3 127.7 L282.8 128.1 L283.3 128.1 L283.8 127.4 L284.3 127.4 L284.8 127.1 L285.3 127.2 L285.8 128.0 L286.3 128.3 L286.8 127.3 L287.3 127.3 L287.8 127.6 L288.3 128.1 L288.8 128.3 L289.3 128.3 L289.8 127.8 L290.3 127.8 L290.8 127.8 L291.3 127.9 L291.8 128.7 L292.3 128.7 L292.8 129.3 L293.3 128.7 L293.8 127.7 L294.3 128.0 L294.8 128.3 L295.3 128.3 L295.8 128.5 L296.3 128.5 L296.8 128.3 L297.3 128.4 L297.8 128.0 L298.3 128.0 L298.8 128.0 L299.3 128.2 L299.8 128.2 L300.3 128.1 L300.8 128.1 L301.3 128.4 L301.8 128.6 L302.3 128.9 L302.8 128.9 L303.3 128.9 L303.8 128.9 L304.3 128.7 L304.8 128.1 L305.3 128.1 L305.8 127.7 L306.3 127.8 L306.8 128.1 L307.3 128.1 L307.8 128.0 L308.3 128.0 L308.8 127.8 L309.3 127.8 L309.8 127.9 L310.3 127.9 L310.8 127.6 L311.3 128.3 L311.8 128.3 L312.3 128.7 L312.8 127.9 L313.3 127.9 L313.8 128.2 L314.3 128.0 L314.8 127.9 L315.3 127.9 L315.8 128.6 L316.3 128.6 L316.8 128.3 L317.3 127.6 L317.8 127.5 L318.3 127.5 L318.8 127.4 L319.3 127.4 L319.8 127.5 L320.3 127.5 L320.8 127.5 L321.3 127.2 L321.8 127.9 L322.3 128.4 L322.8 128.4 L323.3 127.9 L323.8 127.7 L324.3 128.1 L324.8 128.0 L325.3 128.0 L325.8 128.0 L326.3 128.5 L326.3 133.3 L325.8 133.0 L325.3 133.0 L324.8 133.0 L324.3 132.6 L323.8 132.2 L323.3 132.2 L322.8 132.7 L322.3 132.7 L321.8 132.2 L321.3 132.2 L320.8 132.9 L320.3 132.9 L319.8 132.9 L319.3 132.8 L318.8 132.8 L318.3 132.9 L317.8 132.9 L317.3 133.0 L316.8 134.9 L316.3 135.2 L315.8 135.2 L315.3 132.7 L314.8 132.7 L314.3 132.9 L313.8 132.9 L313.3 132.7 L312.8 132.8 L312.3 133.5 L311.8 133.3 L311.3 133.0 L310.8 132.3 L310.3 132.6 L309.8 132.6 L309.3 132.4 L308.8 132.4 L308.3 132.9 L307.8 132.9 L307.3 132.8 L306.8 132.8 L306.3 132.8 L305.8 132.8 L305.3 133.2 L304.8 133.2 L304.3 132.7 L303.8 132.9 L303.3 132.7 L302.8 132.8 L302.3 132.6 L301.8 132.6 L301.3 132.4 L300.8 132.3 L300.3 132.3 L299.8 132.9 L299.3 132.9 L298.8 132.4 L298.3 132.7 L297.8 132.7 L297.3 133.1 L296.8 133.1 L296.3 132.9 L295.8 132.9 L295.3 132.4 L294.8 132.4 L294.3 134.3 L293.8 134.0 L293.3 133.3 L292.8 133.3 L292.3 132.7 L291.8 132.7 L291.3 133.0 L290.8 132.8 L290.3 132.5 L289.8 132.0 L289.3 132.6 L288.8 132.6 L288.3 132.3 L287.8 132.3 L287.3 132.5 L286.8 132.5 L286.3 133.5 L285.8 133.5 L285.3 132.5 L284.8 132.5 L284.3 132.7 L283.8 132.7 L283.3 133.0 L282.8 133.4 L282.3 133.1 L281.8 133.1 L281.3 132.8 L280.8 132.8 L280.3 133.3 L279.8 133.3 L279.3 132.2 L278.8 132.5 L278.3 133.1 L277.8 133.1 L277.3 133.0 L276.8 133.0 L276.3 132.6 L275.8 132.6 L275.3 132.6 L274.8 132.1 L274.3 132.4 L273.8 132.4 L273.3 132.4 L272.8 132.2 L272.3 132.2 L271.8 132.2 L271.3 132.2 L270.8 132.2 L270.3 132.3 L269.8 132.3 L269.3 132.4 L268.8 132.3 L268.3 132.3 L267.8 133.5 L267.3 133.5 L266.8 133.2 L266.3 132.9 L265.8 132.9 L265.3 132.9 L264.8 132.9 L264.3 132.9 L263.8 132.6 L263.3 132.6 L262.8 132.5 L262.3 133.8 L261.8 133.8 L261.3 133.3 L260.8 133.1 L260.3 133.1 L259.8 133.1 L259.3 133.2 L258.8 133.2 L258.3 132.5 L257.8 132.5 L257.3 132.5 L256.8 133.1 L256.3 132.6 L255.8 132.6 L255.3 132.6 L254.8 133.6 L254.3 133.9 L253.8 133.5 L253.3 133.5 L252.8 132.5 L252.3 132.5 L251.8 132.4 L251.3 132.4 L250.8 132.6 L250.3 132.3 L249.8 132.3 L249.3 131.9 L248.8 131.9 L248.3 131.9 L247.8 132.7 L247.3 133.1 L246.8 133.1 L246.3 132.9 L245.8 134.7 L245.3 134.7 L244.8 134.9 L244.3 135.0 L243.8 132.3 L243.3 131.9 L242.8 131.9 L242.3 132.0 L241.8 131.6 L241.3 131.7 L240.8 132.2 L240.3 132.2 L239.8 132.5 L239.3 132.5 L238.8 132.4 L238.3 132.4 L237.8 133.9 L237.3 134.3 L236.8 132.8 L236.3 132.8 L235.8 132.8 L235.3 132.7 L234.8 132.7 L234.3 132.4 L233.8 132.5 L233.3 132.9 L232.8 132.9 L232.3 133.2 L231.8 133.2 L231.3 132.6 L230.8 131.9 L230.3 131.9 L229.8 132.0 L229.3 132.8 L228.8 132.7 L228.3 132.7 L227.8 132.2 L227.3 132.5 L226.8 132.5 L226.3 133.7 L225.8 133.7 L225.3 133.4 L224.8 133.4 L224.3 133.6 L223.8 134.0 L223.3 133.4 L222.8 133.4 L222.3 133.3 L221.8 133.3 L221.3 133.3 L220.8 132.7 L220.3 131.8 L219.8 132.7 L219.3 132.7 L218.8 132.8 L218.3 132.8 L217.8 132.9 L217.3 133.4 L216.8 133.0 L216.3 133.0 L215.8 131.9 L215.3 131.9 L214.8 132.8 L214.3 133.5 L213.8 133.5 L213.3 133.8 L212.8 133.0 L212.3 133.0 L211.8 133.0 L211.3 132.4 L210.8 132.4 L210.3 132.5 L209.8 132.5 L209.3 133.1 L208.8 132.6 L208.3 132.0 L207.8 132.0 L207.3 133.2 L206.8 133.2 L206.3 133.2 L205.8 133.3 L205.3 132.6 L204.8 132.1 L204.3 132.1 L203.8 132.3 L203.3 132.3 L202.8 132.4 L202.3 132.4 L201.8 132.7 L201.3 133.1 L200.8 133.1 L200.3 132.7 L199.8 132.7 L199.3 132.4 L198.8 132.4 L198.3 132.8 L197.8 132.7 L197.3 132.2 L196.8 132.2 L196.3 132.2 L195.8 133.9 L195.3 133.4 L194.8 133.4 L194.3 132.7 L193.8 132.7 L193.3 132.7 L192.8 132.7 L192.3 131.9 L191.8 131.9 L191.3 132.1 L190.8 132.1 L190.3 132.2 L189.8 132.2 L189.3 132.4 L188.8 132.4 L188.3 132.2 L187.8 132.2 L187.3 132.2 L186.8 132.4 L186.3 132.4 L185.8 132.2 L185.3 131.6 L184.8 131.9 L184.3 132.4 L183.8 132.4 L183.3 132.2 L182.8 132.2 L182.3 133.8 L181.8 133.8 L181.3 133.6 L180.8 133.6 L180.3 132.8 L179.8 132.8 L179.3 132.7 L178.8 132.9 L178.3 132.9 L177.8 132.8 L177.3 132.8 L176.8 132.5 L176.3 132.1 L175.8 132.1 L175.3 131.8 L174.8 131.6 L174.3 131.6 L173.8 132.0 L173.3 132.0 L172.8 132.9 L172.3 132.9 L171.8 132.8 L171.3 131.7 L170.8 132.0 L170.3 132.0 L169.8 131.9 L169.3 132.0 L168.8 132.0 L168.3 131.7 L167.8 131.0 L167.3 131.0 L166.8 132.3 L166.3 132.3 L165.8 132.2 L165.3 132.1 L164.8 130.9 L164.3 130.9 L163.8 131.0 L163.3 131.0 L162.8 130.6 L162.3 130.8 L161.8 132.2 L161.3 132.3 L160.8 131.3 L160.3 131.6 L159.8 131.5 L159.3 131.6 L158.8 131.5 L158.3 131.4 L157.8 131.3 L157.3 130.2 L156.8 130.1 L156.3 130.5 L155.8 130.4 L155.3 130.0 L154.8 129.9 L154.3 129.9 L153.8 129.7 L153.3 129.6 L152.8 129.8 L152.3 129.1 L151.8 128.9 L151.3 129.0 L150.8 129.1 L150.3 128.9 L149.8 128.2 L149.3 128.1 L148.8 128.0 L148.3 128.0 L147.8 127.8 L147.3 127.0 L146.8 127.1 L146.3 126.9 L145.8 127.8 L145.3 127.9 L144.8 127.5 L144.3 127.3 L143.8 126.5 L143.3 126.4 L142.8 126.2 L142.3 126.4 L141.8 125.8 L141.3 124.6 L140.8 124.4 L140.3 124.4 L139.8 124.2 L139.3 124.5 L138.8 124.2 L138.3 124.4 L137.8 124.2 L137.3 122.8 L136.8 123.5 L136.3 123.2 L135.8 122.1 L135.3 121.8 L134.8 121.6 L134.3 121.3 L133.8 121.4 L133.3 121.1 L132.8 120.1 L132.3 119.7 L131.8 119.4 L131.3 118.9 L130.8 118.5 L130.3 119.5 L129.8 119.1 L129.3 118.7 L128.8 118.6 L128.3 118.2 L127.8 117.8 L127.3 117.4 L126.8 116.4 L126.3 116.0 L125.8 115.1 L125.3 114.8 L124.8 114.8 L124.3 114.4 L123.8 113.3 L123.3 113.2 L122.8 112.2 L122.3 111.3 L121.8 111.7 L121.3 111.7 L120.8 111.0 L120.3 110.9 L119.8 111.0 L119.3 110.6 L118.8 109.6 L118.3 109.2 L117.8 109.2 L117.3 108.9 L116.8 108.5 L116.3 107.5 L115.8 107.1 L115.3 106.2 L114.8 106.4 L114.3 106.1 L113.8 105.7 L113.3 105.3 L112.8 104.8 L112.3 104.3 L111.8 104.1 L111.3 104.6 L110.8 103.1 L110.3 102.5 L109.8 102.7 L109.3 102.3 L108.8 100.5 L108.3 100.0 L107.8 98.9 L107.3 98.8 L106.8 98.8 L106.3 98.1 L105.8 97.5 L105.3 97.0 L104.8 96.4 L104.3 95.9 L103.8 96.6 L103.3 96.2 L102.8 95.6 L102.3 95.2 L101.8 95.0 L101.3 94.1 L100.8 93.7 L100.3 94.0 L99.8 94.2 L99.3 93.8 L98.8 92.8 L98.3 92.8 L97.8 92.4 L97.3 92.0 L96.8 90.7 L96.3 88.7 L95.8 88.1 L95.3 87.7 L94.8 87.8 L94.3 87.4 L93.8 87.4 L93.3 87.0 L92.8 86.9 L92.3 86.5 L91.8 86.1 L91.3 86.1 L90.8 85.7 L90.3 85.1 L89.8 84.7 L89.3 84.5 L88.8 83.7 L88.3 83.2 L87.8 83.0 L87.3 82.6 L86.8 82.2 L86.3 81.9 L85.8 82.3 L85.3 81.8 L84.8 81.4 L84.3 80.3 L83.8 79.9 L83.3 79.5 L82.8 79.1 L82.3 78.6 L81.8 78.2 L81.3 77.8 L80.8 76.8 L80.3 76.4 L79.8 75.9 L79.3 75.5 L78.8 76.0 L78.3 75.1 L77.8 74.7 L77.3 74.3 L76.8 73.9 L76.3 73.3 L75.8 72.8 L75.3 72.4 L74.8 72.0 L74.3 70.8 L73.8 70.4 L73.3 69.7 L72.8 69.3 L72.3 70.5 L71.8 70.1 L71.3 69.4 L70.8 68.0 L70.3 67.7 L69.8 67.8 L69.3 68.4 L68.8 68.1 L68.3 67.7 L67.8 67.4 L67.3 66.5 L66.8 66.1 L66.3 66.9 L65.8 66.6 L65.3 66.2 L64.8 65.9 L64.3 65.6 L63.8 66.5 L63.3 66.2 L62.8 63.9 L62.3 63.6 L61.8 62.3 L61.3 62.6 L60.8 62.4 L60.3 62.1 L59.8 61.9 L59.3 61.7 L58.8 60.7 L58.3 60.2 L57.8 59.9 L57.3 59.6 L56.8 59.6 L56.3 59.3 L55.8 59.1 L55.3 58.1 L54.8 57.9 L54.3 61.6 L53.8 61.4 L53.3 61.2 L52.8 61.2 L52.3 61.0 L51.8 60.8 L51.3 60.6 L50.8 60.4 L50.3 60.3 L49.8 60.2 L49.3 60.0Z" fill="#f0913f" stroke="none" shape-rendering="crispEdges"/>
<path d="M49.3 118.5 L49.8 118.0 L50.3 117.5 L50.8 112.1 L51.3 111.6 L51.8 111.0 L52.3 113.9 L52.8 113.3 L53.3 114.7 L53.8 115.6 L54.3 114.8 L54.8 114.1 L55.3 111.9 L55.8 111.2 L56.3 110.4 L56.8 109.6 L57.3 109.8 L57.8 109.1 L58.3 108.3 L58.8 106.4 L59.3 99.8 L59.8 99.1 L60.3 98.5 L60.8 97.9 L61.3 97.3 L61.8 102.8 L62.3 102.3 L62.8 101.8 L63.3 103.3 L63.8 102.8 L64.3 102.4 L64.8 101.9 L65.3 101.5 L65.8 100.4 L66.3 100.0 L66.8 99.6 L67.3 98.0 L67.8 95.7 L68.3 95.4 L68.8 95.1 L69.3 95.9 L69.8 92.4 L70.3 92.2 L70.8 91.9 L71.3 91.6 L71.8 90.7 L72.3 94.0 L72.8 93.8 L73.3 93.6 L73.8 96.0 L74.3 95.8 L74.8 96.1 L75.3 95.9 L75.8 96.6 L76.3 93.6 L76.8 93.5 L77.3 87.4 L77.8 87.3 L78.3 87.2 L78.8 88.9 L79.3 89.5 L79.8 89.4 L80.3 89.3 L80.8 88.5 L81.3 93.7 L81.8 93.6 L82.3 93.5 L82.8 93.2 L83.3 92.4 L83.8 93.0 L84.3 92.3 L84.8 92.2 L85.3 89.0 L85.8 89.8 L86.3 89.7 L86.8 91.6 L87.3 89.9 L87.8 89.8 L88.3 89.8 L88.8 88.3 L89.3 88.3 L89.8 88.3 L90.3 89.9 L90.8 90.9 L91.3 90.8 L91.8 90.0 L92.3 89.9 L92.8 92.1 L93.3 91.9 L93.8 90.4 L94.3 90.3 L94.8 90.6 L95.3 89.3 L95.8 89.1 L96.3 89.0 L96.8 89.1 L97.3 89.0 L97.8 88.8 L98.3 88.6 L98.8 89.0 L99.3 89.0 L99.8 88.9 L100.3 89.5 L100.8 89.4 L101.3 82.6 L101.8 88.2 L102.3 88.1 L102.8 87.9 L103.3 87.5 L103.8 87.3 L104.3 86.7 L104.8 86.7 L105.3 85.5 L105.8 85.3 L106.3 86.7 L106.8 86.5 L107.3 85.0 L107.8 84.8 L108.3 83.8 L108.8 84.8 L109.3 85.3 L109.8 85.1 L110.3 85.2 L110.8 84.6 L111.3 83.6 L111.8 83.4 L112.3 83.2 L112.8 83.6 L113.3 83.5 L113.8 83.3 L114.3 81.8 L114.8 81.4 L115.3 82.0 L115.8 81.7 L116.3 81.5 L116.8 81.3 L117.3 81.6 L117.8 79.7 L118.3 79.4 L118.8 79.5 L119.3 80.8 L119.8 80.2 L120.3 79.4 L120.8 79.2 L121.3 79.3 L121.8 79.1 L122.3 78.9 L122.8 78.7 L123.3 79.0 L123.8 78.8 L124.3 78.5 L124.8 77.9 L125.3 77.8 L125.8 78.3 L126.3 78.1 L126.8 77.9 L127.3 77.7 L127.8 77.6 L128.3 78.3 L128.8 78.2 L129.3 75.7 L129.8 75.4 L130.3 76.6 L130.8 76.5 L131.3 76.8 L131.8 76.7 L132.3 76.6 L132.8 76.9 L133.3 76.8 L133.8 75.4 L134.3 75.3 L134.8 76.1 L135.3 76.3 L135.8 76.2 L136.3 74.9 L136.8 74.1 L137.3 74.0 L137.8 73.7 L138.3 73.6 L138.8 74.4 L139.3 74.4 L139.8 74.3 L140.3 74.0 L140.8 74.0 L141.3 74.9 L141.8 74.8 L142.3 73.0 L142.8 72.9 L143.3 74.3 L143.8 74.2 L144.3 73.3 L144.8 73.2 L145.3 73.0 L145.8 72.8 L146.3 72.9 L146.8 72.5 L147.3 67.3 L147.8 68.0 L148.3 68.6 L148.8 68.5 L149.3 73.6 L149.8 73.6 L150.3 74.1 L150.8 74.0 L151.3 72.6 L151.8 72.5 L152.3 72.4 L152.8 72.7 L153.3 72.6 L153.8 73.6 L154.3 73.5 L154.8 70.5 L155.3 70.4 L155.8 71.7 L156.3 71.6 L156.8 72.2 L157.3 70.5 L157.8 70.5 L158.3 71.1 L158.8 71.1 L159.3 71.2 L159.8 71.2 L160.3 71.5 L160.8 72.5 L161.3 72.4 L161.8 69.8 L162.3 69.7 L162.8 69.8 L163.3 69.7 L163.8 71.0 L164.3 71.0 L164.8 70.6 L165.3 70.5 L165.8 70.9 L166.3 70.8 L166.8 70.5 L167.3 70.5 L167.8 68.3 L168.3 68.3 L168.8 68.6 L169.3 68.6 L169.8 69.9 L170.3 69.8 L170.8 69.8 L171.3 70.8 L171.8 70.6 L172.3 70.6 L172.8 71.3 L173.3 69.9 L173.8 69.9 L174.3 69.2 L174.8 69.2 L175.3 69.2 L175.8 70.3 L176.3 71.1 L176.8 70.2 L177.3 70.2 L177.8 69.6 L178.3 70.4 L178.8 70.4 L179.3 69.5 L179.8 70.2 L180.3 70.8 L180.8 70.8 L181.3 69.0 L181.8 69.0 L182.3 70.1 L182.8 69.1 L183.3 70.8 L183.8 70.8 L184.3 70.3 L184.8 70.3 L185.3 69.9 L185.8 69.9 L186.3 69.9 L186.8 70.0 L187.3 69.2 L187.8 69.2 L188.3 70.3 L188.8 70.3 L189.3 70.8 L189.8 70.8 L190.3 70.8 L190.8 70.4 L191.3 69.5 L191.8 69.5 L192.3 69.5 L192.8 69.6 L193.3 69.6 L193.8 69.8 L194.3 69.8 L194.8 70.4 L195.3 70.4 L195.8 70.5 L196.3 70.7 L196.8 70.7 L197.3 70.6 L197.8 70.7 L198.3 70.0 L198.8 70.7 L199.3 70.1 L199.8 70.1 L200.3 70.6 L200.8 69.1 L201.3 69.7 L201.8 70.6 L202.3 69.2 L202.8 70.3 L203.3 70.3 L203.8 70.4 L204.3 70.9 L204.8 70.4 L205.3 70.8 L205.8 70.6 L206.3 70.6 L206.8 72.1 L207.3 72.1 L207.8 69.7 L208.3 69.7 L208.8 68.9 L209.3 69.3 L209.8 70.2 L210.3 71.7 L210.8 71.8 L211.3 71.8 L211.8 70.6 L212.3 70.9 L212.8 72.9 L213.3 72.4 L213.8 72.4 L214.3 70.6 L214.8 70.7 L215.3 71.1 L215.8 70.8 L216.3 70.4 L216.8 70.5 L217.3 71.1 L217.8 71.3 L218.3 70.6 L218.8 70.7 L219.3 71.4 L219.8 71.4 L220.3 72.5 L220.8 72.6 L221.3 72.0 L221.8 71.6 L222.3 71.7 L222.8 71.5 L223.3 71.5 L223.8 73.7 L224.3 73.8 L224.8 73.4 L225.3 72.2 L225.8 70.8 L226.3 71.8 L226.8 71.9 L227.3 73.1 L227.8 73.1 L228.3 73.5 L228.8 72.3 L229.3 72.4 L229.8 72.4 L230.3 72.5 L230.8 74.2 L231.3 74.3 L231.8 74.3 L232.3 74.5 L232.8 74.3 L233.3 73.6 L233.8 73.7 L234.3 74.0 L234.8 74.6 L235.3 74.7 L235.8 74.5 L236.3 74.7 L236.8 75.4 L237.3 75.1 L237.8 75.2 L238.3 75.4 L238.8 75.6 L239.3 75.8 L239.8 76.0 L240.3 76.2 L240.8 76.7 L241.3 76.9 L241.8 77.1 L242.3 76.5 L242.8 76.7 L243.3 76.8 L243.8 77.0 L244.3 78.2 L244.8 78.4 L245.3 78.9 L245.8 78.4 L246.3 78.7 L246.8 71.6 L247.3 71.1 L247.8 71.3 L248.3 72.9 L248.8 73.2 L249.3 79.4 L249.8 79.6 L250.3 80.5 L250.8 80.8 L251.3 81.0 L251.8 81.1 L252.3 81.4 L252.8 82.4 L253.3 82.7 L253.8 82.0 L254.3 82.3 L254.8 83.1 L255.3 83.4 L255.8 83.3 L256.3 83.6 L256.8 81.9 L257.3 82.2 L257.8 84.5 L258.3 84.8 L258.8 86.2 L259.3 85.0 L259.8 85.3 L260.3 85.8 L260.8 86.1 L261.3 88.3 L261.8 88.0 L262.3 87.6 L262.8 88.0 L263.3 88.4 L263.8 88.7 L264.3 89.8 L264.8 90.2 L265.3 90.8 L265.8 90.9 L266.3 91.1 L266.8 91.5 L267.3 92.0 L267.8 92.2 L268.3 94.2 L268.8 94.6 L269.3 93.2 L269.8 92.3 L270.3 93.8 L270.8 94.3 L271.3 94.8 L271.8 94.9 L272.3 95.2 L272.8 97.7 L273.3 97.6 L273.8 98.1 L274.3 93.9 L274.8 94.3 L275.3 94.7 L275.8 100.2 L276.3 100.3 L276.8 100.8 L277.3 101.8 L277.8 97.6 L278.3 97.9 L278.8 98.3 L279.3 98.8 L279.8 103.7 L280.3 104.8 L280.8 104.4 L281.3 104.9 L281.8 105.6 L282.3 106.8 L282.8 107.3 L283.3 107.2 L283.8 107.8 L284.3 108.8 L284.8 107.1 L285.3 107.6 L285.8 107.9 L286.3 108.4 L286.8 108.9 L287.3 110.9 L287.8 111.4 L288.3 111.9 L288.8 112.4 L289.3 112.8 L289.8 112.8 L290.3 113.7 L290.8 114.2 L291.3 114.9 L291.8 115.3 L292.3 115.6 L292.8 116.0 L293.3 115.5 L293.8 115.9 L294.3 116.0 L294.8 116.3 L295.3 115.8 L295.8 117.0 L296.3 117.0 L296.8 117.3 L297.3 118.3 L297.8 118.5 L298.3 118.8 L298.8 119.2 L299.3 119.0 L299.8 119.2 L300.3 118.8 L300.8 119.1 L301.3 121.4 L301.8 121.6 L302.3 121.1 L302.8 121.3 L303.3 117.7 L303.8 117.9 L304.3 120.0 L304.8 120.2 L305.3 122.0 L305.8 122.2 L306.3 122.3 L306.8 122.2 L307.3 122.2 L307.8 122.8 L308.3 122.2 L308.8 122.3 L309.3 122.4 L309.8 124.3 L310.3 124.4 L310.8 122.4 L311.3 122.6 L311.8 122.6 L312.3 123.3 L312.8 123.0 L313.3 119.9 L313.8 119.9 L314.3 121.0 L314.8 121.0 L315.3 119.4 L315.8 122.9 L316.3 123.3 L316.8 123.2 L317.3 123.8 L317.8 123.7 L318.3 123.8 L318.8 123.7 L319.3 123.8 L319.8 123.2 L320.3 122.8 L320.8 122.4 L321.3 123.3 L321.8 123.1 L322.3 122.2 L322.8 122.1 L323.3 122.4 L323.8 122.2 L324.3 122.5 L324.8 122.4 L325.3 121.9 L325.8 121.8 L326.3 121.7 L326.3 130.6 L325.8 130.4 L325.3 130.5 L324.8 131.1 L324.3 131.2 L323.8 131.1 L323.3 131.2 L322.8 131.0 L322.3 131.1 L321.8 132.6 L321.3 133.0 L320.8 132.2 L320.3 132.3 L319.8 132.8 L319.3 133.3 L318.8 133.2 L318.3 133.5 L317.8 133.5 L317.3 133.6 L316.8 132.4 L316.3 132.4 L315.8 132.1 L315.3 132.1 L314.8 133.6 L314.3 133.4 L313.8 132.0 L313.3 131.9 L312.8 131.9 L312.3 132.2 L311.8 131.6 L311.3 131.5 L310.8 131.3 L310.3 133.8 L309.8 133.7 L309.3 132.5 L308.8 132.4 L308.3 132.3 L307.8 132.0 L307.3 131.3 L306.8 131.2 L306.3 135.4 L305.8 135.3 L305.3 135.1 L304.8 136.1 L304.3 135.9 L303.8 131.0 L303.3 130.8 L302.8 131.1 L302.3 130.9 L301.8 130.2 L301.3 130.0 L300.8 128.6 L300.3 128.4 L299.8 128.2 L299.3 127.9 L298.8 129.4 L298.3 129.1 L297.8 128.8 L297.3 127.8 L296.8 126.8 L296.3 126.4 L295.8 126.4 L295.3 126.0 L294.8 126.2 L294.3 125.9 L293.8 125.2 L293.3 125.3 L292.8 125.7 L292.3 125.4 L291.8 124.6 L291.3 124.2 L290.8 125.9 L290.3 125.4 L289.8 124.5 L289.3 121.8 L288.8 121.4 L288.3 120.8 L287.8 120.2 L287.3 119.8 L286.8 119.9 L286.3 119.4 L285.8 118.6 L285.3 118.4 L284.8 117.9 L284.3 117.4 L283.8 116.1 L283.3 115.7 L282.8 120.4 L282.3 120.0 L281.8 118.7 L281.3 118.3 L280.8 117.8 L280.3 113.5 L279.8 112.5 L279.3 112.0 L278.8 111.5 L278.3 111.1 L277.8 111.3 L277.3 111.9 L276.8 110.9 L276.3 110.4 L275.8 110.2 L275.3 109.8 L274.8 108.3 L274.3 107.8 L273.8 107.0 L273.3 107.1 L272.8 107.2 L272.3 107.0 L271.8 106.6 L271.3 106.1 L270.8 105.6 L270.3 105.1 L269.8 102.7 L269.3 102.2 L268.8 103.7 L268.3 103.5 L267.8 101.6 L267.3 101.4 L266.8 101.0 L266.3 100.4 L265.8 100.2 L265.3 99.7 L264.8 99.2 L264.3 98.8 L263.8 98.6 L263.3 97.6 L262.8 97.2 L262.3 98.1 L261.8 98.5 L261.3 98.6 L260.8 97.7 L260.3 97.3 L259.8 95.5 L259.3 95.2 L258.8 94.9 L258.3 93.5 L257.8 93.8 L257.3 93.6 L256.8 92.6 L256.3 92.7 L255.8 92.4 L255.3 92.5 L254.8 92.8 L254.3 91.7 L253.8 93.1 L253.3 93.7 L252.8 93.5 L252.3 92.3 L251.8 91.1 L251.3 91.0 L250.8 90.7 L250.3 90.5 L249.8 88.9 L249.3 88.6 L248.8 89.3 L248.3 89.1 L247.8 87.4 L247.3 87.6 L246.8 88.2 L246.3 88.3 L245.8 88.1 L245.3 88.5 L244.8 88.1 L244.3 87.9 L243.8 88.1 L243.3 87.9 L242.8 86.4 L242.3 86.2 L241.8 85.9 L241.3 85.7 L240.8 85.8 L240.3 85.3 L239.8 88.4 L239.3 88.3 L238.8 88.1 L238.3 87.9 L237.8 87.5 L237.3 83.4 L236.8 85.1 L236.3 85.0 L235.8 84.8 L235.3 84.2 L234.8 84.1 L234.3 83.4 L233.8 83.2 L233.3 83.1 L232.8 83.0 L232.3 83.2 L231.8 83.1 L231.3 83.1 L230.8 85.1 L230.3 85.0 L229.8 84.9 L229.3 83.8 L228.8 83.7 L228.3 83.6 L227.8 83.3 L227.3 82.0 L226.8 82.5 L226.3 82.7 L225.8 81.7 L225.3 81.6 L224.8 83.3 L224.3 83.3 L223.8 83.2 L223.3 81.6 L222.8 81.5 L222.3 81.2 L221.8 81.1 L221.3 82.7 L220.8 82.7 L220.3 82.6 L219.8 82.1 L219.3 82.1 L218.8 80.6 L218.3 80.6 L217.8 81.2 L217.3 81.2 L216.8 80.5 L216.3 82.0 L215.8 82.3 L215.3 80.7 L214.8 80.3 L214.3 80.3 L213.8 82.1 L213.3 82.2 L212.8 82.1 L212.3 80.2 L211.8 79.5 L211.3 80.7 L210.8 80.7 L210.3 80.9 L209.8 80.9 L209.3 80.1 L208.8 80.0 L208.3 80.7 L207.8 80.6 L207.3 80.6 L206.8 80.6 L206.3 79.1 L205.8 79.5 L205.3 79.8 L204.8 79.7 L204.3 81.0 L203.8 80.5 L203.3 80.5 L202.8 80.4 L202.3 78.1 L201.8 79.5 L201.3 79.5 L200.8 78.9 L200.3 78.9 L199.8 78.3 L199.3 78.3 L198.8 78.9 L198.3 78.9 L197.8 79.5 L197.3 80.3 L196.8 80.3 L196.3 80.2 L195.8 80.0 L195.3 80.0 L194.8 82.2 L194.3 81.9 L193.8 81.9 L193.3 82.1 L192.8 82.1 L192.3 79.3 L191.8 79.3 L191.3 79.3 L190.8 79.3 L190.3 81.5 L189.8 81.5 L189.3 81.5 L188.8 81.0 L188.3 81.0 L187.8 81.0 L187.3 82.2 L186.8 81.7 L186.3 81.6 L185.8 79.7 L185.3 79.7 L184.8 79.7 L184.3 80.0 L183.8 80.6 L183.3 80.6 L182.8 80.6 L182.3 81.7 L181.8 79.3 L181.3 79.3 L180.8 79.7 L180.3 79.7 L179.8 80.2 L179.3 80.2 L178.8 81.0 L178.3 81.1 L177.8 79.9 L177.3 79.6 L176.8 78.6 L176.3 79.4 L175.8 79.4 L175.3 78.3 L174.8 78.3 L174.3 78.7 L173.8 80.0 L173.3 80.0 L172.8 80.1 L172.3 80.1 L171.8 80.1 L171.3 80.3 L170.8 81.4 L170.3 81.4 L169.8 81.3 L169.3 80.1 L168.8 80.1 L168.3 80.9 L167.8 80.9 L167.3 79.6 L166.8 79.6 L166.3 79.9 L165.8 80.0 L165.3 80.5 L164.8 80.6 L164.3 80.9 L163.8 81.0 L163.3 79.8 L162.8 79.9 L162.3 79.8 L161.8 81.1 L161.3 81.9 L160.8 81.9 L160.3 81.0 L159.8 81.0 L159.3 81.1 L158.8 80.4 L158.3 79.8 L157.8 79.6 L157.3 79.7 L156.8 81.4 L156.3 81.5 L155.8 82.3 L155.3 80.9 L154.8 81.0 L154.3 83.1 L153.8 83.2 L153.3 82.2 L152.8 82.3 L152.3 81.7 L151.8 81.7 L151.3 83.2 L150.8 84.3 L150.3 84.3 L149.8 83.8 L149.3 81.8 L148.8 82.8 L148.3 82.9 L147.8 82.4 L147.3 82.3 L146.8 82.4 L146.3 82.8 L145.8 82.7 L145.3 82.7 L144.8 83.3 L144.3 83.2 L143.8 84.2 L143.3 84.2 L142.8 82.5 L142.3 82.6 L141.8 83.5 L141.3 83.6 L140.8 84.2 L140.3 84.3 L139.8 84.8 L139.3 84.9 L138.8 83.2 L138.3 82.4 L137.8 82.5 L137.3 83.4 L136.8 84.3 L136.3 85.2 L135.8 85.2 L135.3 85.3 L134.8 85.1 L134.3 83.9 L133.8 84.0 L133.3 85.4 L132.8 86.2 L132.3 85.8 L131.8 85.9 L131.3 85.8 L130.8 85.7 L130.3 87.1 L129.8 85.9 L129.3 88.1 L128.8 90.6 L128.3 90.8 L127.8 85.9 L127.3 86.1 L126.8 87.9 L126.3 88.1 L125.8 88.3 L125.3 86.9 L124.8 87.1 L124.3 87.7 L123.8 88.0 L123.3 88.0 L122.8 87.7 L122.3 87.9 L121.8 88.2 L121.3 88.4 L120.8 88.0 L120.3 88.2 L119.8 88.4 L119.3 89.0 L118.8 90.7 L118.3 90.6 L117.8 90.8 L117.3 91.5 L116.8 91.2 L116.3 91.4 L115.8 91.6 L115.3 91.8 L114.8 91.4 L114.3 91.7 L113.8 93.2 L113.3 93.6 L112.8 94.3 L112.3 93.9 L111.8 94.1 L111.3 94.3 L110.8 95.5 L110.3 95.8 L109.8 95.7 L109.3 95.9 L108.8 94.5 L108.3 94.8 L107.8 97.0 L107.3 97.3 L106.8 97.4 L106.3 96.7 L105.8 95.4 L105.3 95.6 L104.8 96.8 L104.3 97.1 L103.8 97.7 L103.3 97.9 L102.8 98.8 L102.3 98.3 L101.8 98.4 L101.3 98.6 L100.8 99.3 L100.3 99.6 L99.8 98.9 L99.3 99.2 L98.8 97.9 L98.3 98.2 L97.8 99.0 L97.3 99.2 L96.8 100.0 L96.3 99.9 L95.8 100.4 L95.3 100.6 L94.8 100.9 L94.3 100.8 L93.8 101.0 L93.3 103.0 L92.8 103.2 L92.3 101.2 L91.8 101.4 L91.3 102.3 L90.8 102.6 L90.3 102.8 L89.8 101.4 L89.3 101.7 L88.8 104.3 L88.3 104.6 L87.8 104.9 L87.3 105.2 L86.8 106.5 L86.3 106.8 L85.8 107.2 L85.3 106.6 L84.8 107.0 L84.3 105.1 L83.8 106.1 L83.3 106.5 L82.8 106.8 L82.3 110.1 L81.8 110.4 L81.3 108.5 L80.8 108.9 L80.3 109.9 L79.8 110.3 L79.3 115.9 L78.8 116.4 L78.3 110.2 L77.8 110.6 L77.3 111.0 L76.8 111.4 L76.3 114.3 L75.8 117.6 L75.3 118.0 L74.8 116.3 L74.3 116.7 L73.8 117.2 L73.3 116.3 L72.8 116.7 L72.3 115.9 L71.8 116.3 L71.3 117.4 L70.8 117.8 L70.3 118.2 L69.8 118.6 L69.3 119.7 L68.8 119.0 L68.3 118.6 L67.8 118.9 L67.3 119.2 L66.8 123.0 L66.3 123.3 L65.8 123.6 L65.3 124.0 L64.8 124.3 L64.3 127.2 L63.8 127.5 L63.3 124.6 L62.8 124.0 L62.3 124.4 L61.8 123.2 L61.3 123.5 L60.8 123.9 L60.3 124.3 L59.8 124.7 L59.3 126.9 L58.8 127.3 L58.3 128.9 L57.8 128.0 L57.3 128.4 L56.8 128.9 L56.3 129.4 L55.8 130.0 L55.3 130.5 L54.8 130.9 L54.3 131.3 L53.8 131.7 L53.3 130.6 L52.8 130.3 L52.3 130.6 L51.8 131.0 L51.3 131.3 L50.8 133.6 L50.3 133.9 L49.8 134.2 L49.3 134.4Z" fill="#2b1b8f" stroke="none" shape-rendering="crispEdges"/>
<path d="M49.3 111.3 L49.8 111.3 L50.3 111.2 L50.8 111.4 L51.3 111.3 L51.8 111.3 L52.3 111.2 L52.8 111.1 L53.3 107.8 L53.8 108.5 L54.3 108.5 L54.8 108.4 L55.3 111.5 L55.8 111.4 L56.3 111.3 L56.8 111.3 L57.3 109.6 L57.8 109.6 L58.3 109.5 L58.8 107.4 L59.3 107.4 L59.8 107.4 L60.3 102.3 L60.8 102.3 L61.3 108.8 L61.8 108.8 L62.3 109.5 L62.8 109.5 L63.3 109.4 L63.8 106.3 L64.3 106.9 L64.8 107.8 L65.3 107.8 L65.8 106.0 L66.3 106.0 L66.8 106.0 L67.3 106.8 L67.8 106.8 L68.3 107.0 L68.8 107.0 L69.3 106.9 L69.8 106.9 L70.3 109.6 L70.8 109.5 L71.3 107.7 L71.8 107.7 L72.3 107.1 L72.8 107.1 L73.3 108.1 L73.8 108.1 L74.3 106.2 L74.8 106.2 L75.3 106.2 L75.8 106.2 L76.3 105.6 L76.8 108.3 L77.3 108.3 L77.8 106.4 L78.3 106.4 L78.8 106.3 L79.3 106.3 L79.8 108.1 L80.3 108.1 L80.8 108.8 L81.3 108.9 L81.8 108.9 L82.3 108.9 L82.8 107.8 L83.3 107.8 L83.8 107.4 L84.3 107.4 L84.8 107.2 L85.3 107.6 L85.8 107.6 L86.3 108.6 L86.8 105.7 L87.3 105.7 L87.8 105.3 L88.3 105.3 L88.8 107.9 L89.3 107.9 L89.8 107.7 L90.3 107.7 L90.8 107.7 L91.3 107.6 L91.8 107.6 L92.3 107.9 L92.8 107.9 L93.3 107.3 L93.8 107.3 L94.3 107.9 L94.8 107.9 L95.3 106.7 L95.8 106.5 L96.3 108.1 L96.8 108.1 L97.3 107.9 L97.8 107.9 L98.3 107.2 L98.8 107.2 L99.3 107.1 L99.8 106.5 L100.3 107.4 L100.8 107.5 L101.3 107.5 L101.8 107.0 L102.3 107.0 L102.8 107.1 L103.3 107.1 L103.8 105.3 L104.3 106.6 L104.8 107.0 L105.3 106.9 L105.8 106.9 L106.3 107.3 L106.8 107.0 L107.3 105.5 L107.8 105.5 L108.3 106.1 L108.8 106.1 L109.3 106.2 L109.8 106.2 L110.3 105.8 L110.8 105.6 L111.3 105.5 L111.8 105.3 L112.3 105.3 L112.8 105.6 L113.3 105.2 L113.8 106.1 L114.3 106.0 L114.8 105.7 L115.3 106.2 L115.8 105.8 L116.3 105.7 L116.8 104.9 L117.3 104.9 L117.8 104.8 L118.3 104.0 L118.8 105.1 L119.3 105.1 L119.8 105.0 L120.3 104.8 L120.8 104.7 L121.3 104.6 L121.8 104.6 L122.3 104.1 L122.8 104.1 L123.3 104.7 L123.8 104.6 L124.3 104.4 L124.8 104.4 L125.3 104.2 L125.8 104.5 L126.3 104.5 L126.8 103.7 L127.3 103.6 L127.8 104.3 L128.3 103.8 L128.8 103.8 L129.3 103.7 L129.8 103.7 L130.3 104.2 L130.8 104.1 L131.3 104.0 L131.8 105.1 L132.3 104.8 L132.8 102.9 L133.3 103.0 L133.8 104.4 L134.3 104.0 L134.8 104.0 L135.3 104.0 L135.8 104.0 L136.3 101.8 L136.8 101.8 L137.3 101.8 L137.8 101.9 L138.3 103.0 L138.8 102.5 L139.3 102.4 L139.8 102.4 L140.3 102.2 L140.8 102.7 L141.3 102.7 L141.8 103.2 L142.3 103.2 L142.8 103.2 L143.3 104.1 L143.8 104.1 L144.3 104.2 L144.8 104.1 L145.3 102.3 L145.8 102.3 L146.3 103.2 L146.8 104.0 L147.3 104.0 L147.8 103.2 L148.3 103.2 L148.8 103.1 L149.3 103.7 L149.8 103.9 L150.3 103.9 L150.8 103.3 L151.3 103.3 L151.8 103.3 L152.3 103.3 L152.8 103.3 L153.3 103.5 L153.8 102.7 L154.3 103.3 L154.8 103.3 L155.3 103.7 L155.8 103.7 L156.3 102.6 L156.8 101.5 L157.3 102.1 L157.8 102.1 L158.3 102.5 L158.8 102.5 L159.3 103.6 L159.8 103.6 L160.3 104.0 L160.8 103.5 L161.3 103.5 L161.8 100.5 L162.3 100.5 L162.8 101.0 L163.3 101.0 L163.8 103.7 L164.3 103.8 L164.8 103.8 L165.3 103.9 L165.8 103.1 L166.3 103.5 L166.8 103.5 L167.3 103.4 L167.8 103.8 L168.3 102.3 L168.8 102.3 L169.3 104.0 L169.8 102.9 L170.3 102.1 L170.8 103.4 L171.3 103.4 L171.8 104.2 L172.3 104.2 L172.8 101.8 L173.3 101.8 L173.8 102.3 L174.3 102.3 L174.8 102.9 L175.3 102.9 L175.8 102.9 L176.3 103.4 L176.8 103.4 L177.3 102.7 L177.8 102.7 L178.3 102.9 L178.8 102.9 L179.3 103.0 L179.8 103.0 L180.3 102.9 L180.8 102.8 L181.3 102.8 L181.8 103.9 L182.3 103.0 L182.8 103.0 L183.3 103.8 L183.8 101.9 L184.3 101.9 L184.8 101.9 L185.3 101.9 L185.8 102.9 L186.3 102.9 L186.8 102.4 L187.3 102.4 L187.8 102.1 L188.3 102.4 L188.8 102.4 L189.3 102.4 L189.8 102.4 L190.3 102.7 L190.8 102.7 L191.3 102.7 L191.8 103.1 L192.3 103.1 L192.8 103.0 L193.3 102.4 L193.8 102.4 L194.3 101.7 L194.8 101.7 L195.3 101.7 L195.8 102.2 L196.3 103.0 L196.8 103.0 L197.3 102.3 L197.8 102.0 L198.3 102.9 L198.8 102.9 L199.3 103.0 L199.8 103.4 L200.3 101.5 L200.8 101.1 L201.3 101.1 L201.8 102.6 L202.3 102.6 L202.8 102.6 L203.3 102.6 L203.8 102.8 L204.3 102.8 L204.8 102.9 L205.3 102.9 L205.8 103.0 L206.3 103.0 L206.8 102.2 L207.3 101.9 L207.8 102.2 L208.3 102.2 L208.8 101.6 L209.3 103.0 L209.8 103.0 L210.3 102.2 L210.8 102.3 L211.3 102.3 L211.8 103.8 L212.3 103.8 L212.8 103.4 L213.3 101.9 L213.8 102.4 L214.3 102.0 L214.8 102.0 L215.3 102.0 L215.8 102.0 L216.3 103.3 L216.8 102.7 L217.3 102.7 L217.8 102.7 L218.3 103.0 L218.8 103.0 L219.3 103.1 L219.8 103.1 L220.3 103.5 L220.8 103.5 L221.3 104.0 L221.8 104.0 L222.3 102.6 L222.8 102.7 L223.3 103.0 L223.8 103.0 L224.3 102.6 L224.8 102.6 L225.3 102.2 L225.8 103.4 L226.3 103.0 L226.8 103.0 L227.3 103.4 L227.8 102.3 L228.3 102.3 L228.8 102.2 L229.3 102.2 L229.8 102.7 L230.3 102.6 L230.8 102.7 L231.3 102.8 L231.8 103.0 L232.3 103.1 L232.8 103.4 L233.3 103.8 L233.8 103.3 L234.3 104.1 L234.8 104.1 L235.3 103.1 L235.8 103.2 L236.3 103.8 L236.8 103.9 L237.3 104.0 L237.8 103.2 L238.3 103.3 L238.8 102.9 L239.3 104.1 L239.8 103.8 L240.3 103.9 L240.8 104.0 L241.3 105.0 L241.8 104.5 L242.3 104.0 L242.8 104.1 L243.3 104.5 L243.8 104.8 L244.3 104.9 L244.8 104.7 L245.3 104.8 L245.8 105.5 L246.3 105.6 L246.8 106.1 L247.3 105.8 L247.8 105.7 L248.3 105.8 L248.8 105.3 L249.3 105.4 L249.8 105.9 L250.3 106.0 L250.8 106.2 L251.3 106.3 L251.8 107.0 L252.3 107.1 L252.8 107.6 L253.3 107.7 L253.8 107.8 L254.3 107.8 L254.8 107.3 L255.3 107.4 L255.8 108.1 L256.3 107.9 L256.8 107.5 L257.3 107.4 L257.8 108.1 L258.3 109.2 L258.8 109.4 L259.3 108.8 L259.8 108.8 L260.3 109.3 L260.8 109.0 L261.3 109.1 L261.8 108.6 L262.3 108.7 L262.8 109.5 L263.3 109.7 L263.8 109.8 L264.3 109.9 L264.8 110.1 L265.3 111.7 L265.8 111.8 L266.3 110.4 L266.8 110.5 L267.3 110.4 L267.8 110.5 L268.3 111.4 L268.8 111.5 L269.3 111.6 L269.8 110.5 L270.3 110.6 L270.8 111.7 L271.3 111.4 L271.8 111.8 L272.3 111.9 L272.8 112.4 L273.3 111.6 L273.8 111.8 L274.3 110.9 L274.8 111.0 L275.3 111.1 L275.8 110.8 L276.3 113.0 L276.8 112.9 L277.3 113.1 L277.8 113.2 L278.3 113.3 L278.8 113.5 L279.3 113.3 L279.8 113.7 L280.3 113.5 L280.8 113.7 L281.3 115.3 L281.8 115.5 L282.3 115.6 L282.8 114.8 L283.3 114.9 L283.8 115.1 L284.3 115.9 L284.8 116.1 L285.3 115.5 L285.8 115.7 L286.3 115.9 L286.8 116.3 L287.3 115.9 L287.8 116.9 L288.3 117.1 L288.8 117.6 L289.3 117.7 L289.8 117.9 L290.3 117.9 L290.8 118.2 L291.3 117.7 L291.8 118.0 L292.3 118.2 L292.8 118.4 L293.3 119.4 L293.8 118.7 L294.3 118.5 L294.8 118.8 L295.3 120.6 L295.8 120.8 L296.3 121.0 L296.8 121.6 L297.3 121.8 L297.8 120.6 L298.3 120.8 L298.8 121.2 L299.3 121.3 L299.8 120.6 L300.3 121.2 L300.8 121.3 L301.3 122.1 L301.8 122.2 L302.3 122.2 L302.8 122.4 L303.3 122.5 L303.8 123.0 L304.3 123.3 L304.8 123.4 L305.3 122.7 L305.8 122.8 L306.3 123.8 L306.8 123.9 L307.3 124.1 L307.8 123.9 L308.3 124.0 L308.8 123.5 L309.3 124.2 L309.8 124.3 L310.3 125.2 L310.8 125.3 L311.3 124.7 L311.8 123.8 L312.3 124.3 L312.8 124.4 L313.3 124.2 L313.8 125.2 L314.3 125.0 L314.8 125.1 L315.3 125.3 L315.8 125.4 L316.3 125.5 L316.8 124.5 L317.3 124.6 L317.8 125.3 L318.3 126.1 L318.8 125.9 L319.3 126.0 L319.8 125.4 L320.3 125.5 L320.8 126.2 L321.3 126.2 L321.8 125.8 L322.3 125.8 L322.8 126.0 L323.3 126.0 L323.8 126.5 L324.3 126.0 L324.8 126.0 L325.3 125.4 L325.8 125.4 L326.3 125.5 L326.3 132.5 L325.8 132.4 L325.3 132.4 L324.8 132.6 L324.3 132.2 L323.8 132.7 L323.3 132.2 L322.8 132.2 L322.3 132.1 L321.8 132.1 L321.3 132.5 L320.8 133.6 L320.3 131.7 L319.8 131.6 L319.3 132.2 L318.8 132.1 L318.3 133.8 L317.8 133.7 L317.3 133.0 L316.8 132.9 L316.3 132.7 L315.8 133.6 L315.3 133.5 L314.8 130.8 L314.3 130.7 L313.8 130.8 L313.3 130.7 L312.8 131.0 L312.3 131.0 L311.8 130.5 L311.3 130.4 L310.8 131.1 L310.3 131.7 L309.8 130.9 L309.3 130.8 L308.8 130.2 L308.3 130.7 L307.8 130.6 L307.3 130.2 L306.8 130.1 L306.3 130.4 L305.8 129.4 L305.3 128.4 L304.8 129.1 L304.3 129.7 L303.8 129.4 L303.3 129.3 L302.8 129.2 L302.3 129.2 L301.8 129.3 L301.3 128.3 L300.8 127.6 L300.3 128.6 L299.8 128.4 L299.3 129.2 L298.8 129.0 L298.3 127.6 L297.8 127.4 L297.3 127.2 L296.8 127.1 L296.3 126.5 L295.8 126.9 L295.3 126.6 L294.8 126.1 L294.3 125.8 L293.8 125.5 L293.3 126.2 L292.8 126.3 L292.3 126.1 L291.8 125.8 L291.3 124.1 L290.8 124.0 L290.3 123.7 L289.8 123.4 L289.3 123.2 L288.8 123.7 L288.3 122.6 L287.8 122.4 L287.3 122.2 L286.8 123.0 L286.3 122.2 L285.8 122.0 L285.3 122.8 L284.8 123.0 L284.3 121.2 L283.8 120.4 L283.3 120.2 L282.8 121.5 L282.3 122.4 L281.8 122.2 L281.3 122.1 L280.8 120.0 L280.3 119.9 L279.8 120.1 L279.3 120.0 L278.8 120.2 L278.3 120.1 L277.8 119.9 L277.3 119.5 L276.8 119.4 L276.3 118.8 L275.8 118.6 L275.3 119.0 L274.8 118.9 L274.3 119.4 L273.8 118.5 L273.3 117.9 L272.8 118.6 L272.3 118.5 L271.8 118.4 L271.3 118.0 L270.8 117.7 L270.3 116.6 L269.8 116.5 L269.3 117.7 L268.8 118.2 L268.3 118.1 L267.8 117.2 L267.3 117.1 L266.8 117.0 L266.3 117.0 L265.8 118.5 L265.3 118.0 L264.8 116.3 L264.3 116.2 L263.8 115.5 L263.3 115.4 L262.8 115.6 L262.3 114.8 L261.8 114.7 L261.3 117.1 L260.8 117.0 L260.3 116.9 L259.8 114.6 L259.3 114.5 L258.8 115.1 L258.3 115.0 L257.8 113.8 L257.3 113.6 L256.8 113.7 L256.3 114.2 L255.8 114.5 L255.3 114.3 L254.8 114.2 L254.3 113.1 L253.8 113.1 L253.3 113.0 L252.8 114.1 L252.3 114.0 L251.8 113.9 L251.3 113.9 L250.8 113.8 L250.3 113.0 L249.8 112.9 L249.3 112.3 L248.8 112.7 L248.3 113.1 L247.8 113.1 L247.3 113.2 L246.8 113.0 L246.3 112.5 L245.8 112.1 L245.3 112.0 L244.8 111.3 L244.3 111.6 L243.8 111.5 L243.3 112.1 L242.8 111.5 L242.3 111.4 L241.8 112.4 L241.3 112.4 L240.8 111.4 L240.3 111.3 L239.8 111.2 L239.3 110.5 L238.8 110.4 L238.3 110.8 L237.8 110.7 L237.3 110.9 L236.8 110.9 L236.3 110.8 L235.8 110.0 L235.3 109.1 L234.8 110.1 L234.3 110.0 L233.8 109.5 L233.3 110.0 L232.8 110.0 L232.3 109.6 L231.8 109.6 L231.3 109.6 L230.8 109.6 L230.3 109.5 L229.8 109.4 L229.3 109.2 L228.8 109.2 L228.3 111.2 L227.8 111.2 L227.3 111.2 L226.8 110.8 L226.3 109.9 L225.8 110.3 L225.3 110.3 L224.8 110.7 L224.3 109.2 L223.8 109.3 L223.3 109.2 L222.8 108.9 L222.3 108.9 L221.8 109.9 L221.3 109.9 L220.8 109.6 L220.3 110.3 L219.8 109.7 L219.3 109.6 L218.8 109.5 L218.3 109.5 L217.8 109.9 L217.3 109.9 L216.8 109.9 L216.3 110.5 L215.8 110.5 L215.3 109.0 L214.8 109.0 L214.3 109.0 L213.8 109.4 L213.3 108.9 L212.8 108.9 L212.3 109.4 L211.8 109.4 L211.3 109.3 L210.8 109.3 L210.3 110.5 L209.8 110.5 L209.3 110.4 L208.8 109.0 L208.3 109.6 L207.8 109.1 L207.3 108.8 L206.8 108.8 L206.3 109.7 L205.8 109.9 L205.3 109.8 L204.8 109.8 L204.3 109.7 L203.8 109.1 L203.3 108.9 L202.8 110.1 L202.3 110.1 L201.8 110.1 L201.3 110.1 L200.8 109.9 L200.3 110.2 L199.8 111.8 L199.3 111.4 L198.8 111.3 L198.3 109.4 L197.8 109.4 L197.3 109.6 L196.8 110.4 L196.3 110.4 L195.8 108.8 L195.3 108.8 L194.8 108.8 L194.3 109.4 L193.8 109.4 L193.3 109.4 L192.8 109.5 L192.3 110.2 L191.8 110.2 L191.3 109.8 L190.8 109.8 L190.3 111.3 L189.8 111.1 L189.3 111.1 L188.8 111.1 L188.3 109.7 L187.8 109.7 L187.3 110.0 L186.8 109.8 L186.3 109.6 L185.8 109.6 L185.3 109.9 L184.8 109.9 L184.3 109.6 L183.8 109.6 L183.3 110.1 L182.8 110.8 L182.3 110.8 L181.8 111.7 L181.3 110.8 L180.8 110.8 L180.3 110.5 L179.8 110.5 L179.3 110.6 L178.8 110.9 L178.3 110.9 L177.8 110.7 L177.3 109.5 L176.8 109.2 L176.3 109.2 L175.8 108.6 L175.3 109.8 L174.8 109.8 L174.3 109.8 L173.8 109.8 L173.3 110.3 L172.8 110.0 L172.3 110.7 L171.8 110.7 L171.3 109.2 L170.8 109.2 L170.3 109.3 L169.8 110.1 L169.3 110.1 L168.8 108.1 L168.3 108.1 L167.8 109.6 L167.3 109.5 L166.8 109.6 L166.3 109.6 L165.8 109.4 L165.3 109.4 L164.8 109.3 L164.3 109.3 L163.8 109.3 L163.3 109.1 L162.8 109.2 L162.3 108.6 L161.8 109.4 L161.3 110.2 L160.8 110.2 L160.3 110.4 L159.8 110.0 L159.3 110.0 L158.8 109.6 L158.3 109.6 L157.8 109.2 L157.3 109.2 L156.8 108.6 L156.3 109.5 L155.8 110.1 L155.3 110.1 L154.8 109.7 L154.3 110.6 L153.8 110.6 L153.3 111.4 L152.8 111.0 L152.3 111.0 L151.8 111.0 L151.3 110.9 L150.8 110.0 L150.3 109.8 L149.8 109.9 L149.3 109.7 L148.8 112.1 L148.3 112.2 L147.8 112.2 L147.3 112.3 L146.8 110.0 L146.3 109.2 L145.8 108.7 L145.3 108.7 L144.8 110.1 L144.3 110.1 L143.8 110.0 L143.3 110.0 L142.8 108.9 L142.3 109.6 L141.8 109.6 L141.3 110.3 L140.8 110.8 L140.3 110.2 L139.8 110.2 L139.3 110.2 L138.8 110.4 L138.3 110.8 L137.8 110.9 L137.3 110.8 L136.8 111.7 L136.3 111.7 L135.8 109.9 L135.3 110.0 L134.8 110.1 L134.3 110.1 L133.8 110.9 L133.3 109.4 L132.8 109.5 L132.3 111.3 L131.8 111.6 L131.3 110.5 L130.8 110.6 L130.3 110.6 L129.8 112.4 L129.3 112.4 L128.8 112.5 L128.3 111.4 L127.8 111.4 L127.3 110.8 L126.8 110.8 L126.3 111.0 L125.8 111.1 L125.3 110.9 L124.8 111.2 L124.3 111.2 L123.8 111.5 L123.3 110.7 L122.8 111.0 L122.3 111.0 L121.8 110.4 L121.3 110.5 L120.8 110.5 L120.3 111.3 L119.8 112.9 L119.3 113.0 L118.8 112.2 L118.3 111.0 L117.8 112.0 L117.3 112.0 L116.8 112.1 L116.3 112.3 L115.8 112.3 L115.3 112.0 L114.8 112.1 L114.3 112.4 L113.8 112.5 L113.3 111.6 L112.8 113.0 L112.3 112.7 L111.8 112.7 L111.3 113.0 L110.8 112.0 L110.3 112.1 L109.8 112.5 L109.3 112.5 L108.8 112.4 L108.3 112.6 L107.8 112.4 L107.3 112.4 L106.8 113.7 L106.3 113.7 L105.8 113.4 L105.3 113.4 L104.8 114.4 L104.3 114.1 L103.8 113.1 L103.3 114.8 L102.8 114.9 L102.3 113.0 L101.8 113.1 L101.3 113.6 L100.8 113.7 L100.3 113.5 L99.8 113.6 L99.3 114.6 L98.8 114.7 L98.3 114.7 L97.8 114.7 L97.3 114.7 L96.8 114.9 L96.3 114.9 L95.8 114.3 L95.3 114.5 L94.8 114.6 L94.3 114.6 L93.8 114.0 L93.3 114.5 L92.8 115.1 L92.3 115.1 L91.8 117.3 L91.3 117.3 L90.8 117.4 L90.3 117.4 L89.8 115.8 L89.3 116.0 L88.8 116.0 L88.3 116.1 L87.8 116.1 L87.3 115.9 L86.8 115.9 L86.3 117.2 L85.8 116.2 L85.3 114.5 L84.8 114.6 L84.3 114.8 L83.8 114.5 L83.3 114.5 L82.8 114.6 L82.3 115.8 L81.8 115.9 L81.3 115.9 L80.8 116.0 L80.3 115.2 L79.8 119.5 L79.3 119.6 L78.8 119.7 L78.3 119.8 L77.8 116.0 L77.3 116.1 L76.8 116.1 L76.3 116.1 L75.8 116.8 L75.3 117.5 L74.8 117.6 L74.3 117.6 L73.8 118.8 L73.3 118.8 L72.8 123.4 L72.3 123.5 L71.8 115.4 L71.3 115.5 L70.8 117.3 L70.3 118.4 L69.8 118.4 L69.3 119.3 L68.8 119.4 L68.3 119.5 L67.8 118.1 L67.3 118.1 L66.8 117.4 L66.3 117.4 L65.8 117.5 L65.3 117.3 L64.8 117.4 L64.3 117.5 L63.8 125.2 L63.3 125.4 L62.8 125.5 L62.3 125.7 L61.8 125.8 L61.3 117.6 L60.8 117.6 L60.3 117.7 L59.8 117.8 L59.3 117.9 L58.8 118.7 L58.3 118.8 L57.8 118.3 L57.3 118.4 L56.8 120.1 L56.3 120.2 L55.8 120.5 L55.3 120.6 L54.8 120.7 L54.3 120.8 L53.8 120.9 L53.3 128.8 L52.8 128.9 L52.3 129.1 L51.8 129.2 L51.3 121.5 L50.8 121.6 L50.3 121.7 L49.8 121.8 L49.3 121.9Z" fill="#1c9bb4" stroke="none" shape-rendering="crispEdges"/>
<line x1="50" y1="131.5" x2="326" y2="131.5" stroke="#6a6a6a" stroke-width="1.0" stroke-dasharray="12.4 5"/>
<path d="M49.00 37.60 L50.00 38.17 L51.00 38.74 L52.00 39.32 L53.00 39.91 L54.00 40.50 L55.00 41.09 L56.00 41.70 L57.00 42.31 L58.00 42.94 L59.00 43.56 L60.00 44.20 L61.00 44.84 L62.00 45.49 L63.00 46.15 L64.00 46.81 L65.00 47.48 L66.00 48.16 L67.00 48.84 L68.00 49.53 L69.00 50.23 L70.00 50.94 L71.00 51.65 L72.00 52.38 L73.00 53.12 L74.00 53.86 L75.00 54.62 L76.00 55.38 L77.00 56.15 L78.00 56.93 L79.00 57.72 L80.00 58.51 L81.00 59.31 L82.00 60.11 L83.00 60.92 L84.00 61.73 L85.00 62.55 L86.00 63.37 L87.00 64.19 L88.00 65.01 L89.00 65.84 L90.00 66.67 L91.00 67.51 L92.00 68.35 L93.00 69.19 L94.00 70.05 L95.00 70.90 L96.00 71.76 L97.00 72.63 L98.00 73.50 L99.00 74.38 L100.00 75.25 L101.00 76.14 L102.00 77.02 L103.00 77.92 L104.00 78.81 L105.00 79.71 L106.00 80.62 L107.00 81.54 L108.00 82.47 L109.00 83.42 L110.00 84.38 L111.00 85.35 L112.00 86.33 L113.00 87.33 L114.00 88.32 L115.00 89.32 L116.00 90.31 L117.00 91.29 L118.00 92.26 L119.00 93.22 L120.00 94.15 L121.00 95.06 L122.00 95.94 L123.00 96.79 L124.00 97.61 L125.00 98.39 L126.00 99.14 L127.00 99.86 L128.00 100.56 L129.00 101.23 L130.00 101.88 L131.00 102.52 L132.00 103.15 L133.00 103.78 L134.00 104.40 L135.00 105.02 L136.00 105.65 L137.00 106.28 L138.00 106.90 L139.00 107.52 L140.00 108.12 L141.00 108.70 L142.00 109.25 L143.00 109.77 L144.00 110.25 L145.00 110.69 L146.00 111.11 L147.00 111.50 L148.00 111.87 L149.00 112.22 L150.00 112.57 L151.00 112.90 L152.00 113.23 L153.00 113.54 L154.00 113.85 L155.00 114.15 L156.00 114.43 L157.00 114.71 L158.00 114.97 L159.00 115.23 L160.00 115.47 L161.00 115.70 L162.00 115.92 L163.00 116.12 L164.00 116.31 L165.00 116.49 L166.00 116.65 L167.00 116.80 L168.00 116.93 L169.00 117.06 L170.00 117.17 L171.00 117.27 L172.00 117.37 L173.00 117.45 L174.00 117.54 L175.00 117.61 L176.00 117.69 L177.00 117.76 L178.00 117.82 L179.00 117.89 L180.00 117.95 L181.00 118.01 L182.00 118.06 L183.00 118.11 L184.00 118.16 L185.00 118.20 L186.00 118.25 L187.00 118.29 L188.00 118.32 L189.00 118.36 L190.00 118.39 L191.00 118.43 L192.00 118.45 L193.00 118.48 L194.00 118.51 L195.00 118.53 L196.00 118.56 L197.00 118.58 L198.00 118.60 L199.00 118.62 L200.00 118.64 L201.00 118.66 L202.00 118.68 L203.00 118.69 L204.00 118.71 L205.00 118.72 L206.00 118.74 L207.00 118.75 L208.00 118.77 L209.00 118.78 L210.00 118.80 L211.00 118.81 L212.00 118.83 L213.00 118.84 L214.00 118.86 L215.00 118.87 L216.00 118.89 L217.00 118.90 L218.00 118.92 L219.00 118.94 L220.00 118.96 L221.00 118.98 L222.00 119.00 L223.00 119.02 L224.00 119.04 L225.00 119.06 L226.00 119.09 L227.00 119.12 L228.00 119.14 L229.00 119.18 L230.00 119.21 L231.00 119.24 L232.00 119.28 L233.00 119.33 L234.00 119.37 L235.00 119.42 L236.00 119.47 L237.00 119.53 L238.00 119.59 L239.00 119.65 L240.00 119.71 L241.00 119.78 L242.00 119.85 L243.00 119.92 L244.00 120.00 L245.00 120.07 L246.00 120.15 L247.00 120.23 L248.00 120.31 L249.00 120.40 L250.00 120.48 L251.00 120.57 L252.00 120.66 L253.00 120.75 L254.00 120.84 L255.00 120.93 L256.00 121.03 L257.00 121.12 L258.00 121.21 L259.00 121.31 L260.00 121.41 L261.00 121.51 L262.00 121.62 L263.00 121.73 L264.00 121.85 L265.00 121.97 L266.00 122.09 L267.00 122.22 L268.00 122.34 L269.00 122.47 L270.00 122.61 L271.00 122.74 L272.00 122.88 L273.00 123.01 L274.00 123.15 L275.00 123.30 L276.00 123.44 L277.00 123.59 L278.00 123.74 L279.00 123.89 L280.00 124.05 L281.00 124.20 L282.00 124.36 L283.00 124.51 L284.00 124.67 L285.00 124.82 L286.00 124.98 L287.00 125.13 L288.00 125.29 L289.00 125.44 L290.00 125.59 L291.00 125.74 L292.00 125.89 L293.00 126.04 L294.00 126.18 L295.00 126.33 L296.00 126.46 L297.00 126.60 L298.00 126.73 L299.00 126.86 L300.00 126.99 L301.00 127.12 L302.00 127.24 L303.00 127.36 L304.00 127.48 L305.00 127.60 L306.00 127.72 L307.00 127.84 L308.00 127.95 L309.00 128.06 L310.00 128.18 L311.00 128.29 L312.00 128.40 L313.00 128.51 L314.00 128.61 L315.00 128.72 L316.00 128.83 L317.00 128.93 L318.00 129.03 L319.00 129.13 L320.00 129.23 L321.00 129.33 L322.00 129.42 L323.00 129.52 L324.00 129.61 L325.00 129.71 L326.00 129.80" stroke="#f2c41c" stroke-width="1.7"/>
<path d="M49.00 52.71 L50.00 53.18 L51.00 53.66 L52.00 54.16 L53.00 54.66 L54.00 55.18 L55.00 55.70 L56.00 56.25 L57.00 56.80 L58.00 57.37 L59.00 57.95 L60.00 58.55 L61.00 59.16 L62.00 59.78 L63.00 60.43 L64.00 61.09 L65.00 61.76 L66.00 62.45 L67.00 63.15 L68.00 63.87 L69.00 64.60 L70.00 65.35 L71.00 66.11 L72.00 66.89 L73.00 67.68 L74.00 68.49 L75.00 69.31 L76.00 70.14 L77.00 70.98 L78.00 71.83 L79.00 72.69 L80.00 73.54 L81.00 74.40 L82.00 75.25 L83.00 76.10 L84.00 76.94 L85.00 77.78 L86.00 78.61 L87.00 79.43 L88.00 80.25 L89.00 81.07 L90.00 81.88 L91.00 82.69 L92.00 83.51 L93.00 84.32 L94.00 85.14 L95.00 85.96 L96.00 86.79 L97.00 87.62 L98.00 88.46 L99.00 89.31 L100.00 90.17 L101.00 91.05 L102.00 91.94 L103.00 92.84 L104.00 93.76 L105.00 94.69 L106.00 95.63 L107.00 96.57 L108.00 97.52 L109.00 98.47 L110.00 99.41 L111.00 100.35 L112.00 101.28 L113.00 102.19 L114.00 103.09 L115.00 103.97 L116.00 104.84 L117.00 105.68 L118.00 106.51 L119.00 107.32 L120.00 108.12 L121.00 108.91 L122.00 109.69 L123.00 110.47 L124.00 111.24 L125.00 112.01 L126.00 112.77 L127.00 113.54 L128.00 114.30 L129.00 115.06 L130.00 115.81 L131.00 116.53 L132.00 117.24 L133.00 117.93 L134.00 118.58 L135.00 119.21 L136.00 119.81 L137.00 120.39 L138.00 120.94 L139.00 121.47 L140.00 121.98 L141.00 122.48 L142.00 122.95 L143.00 123.40 L144.00 123.84 L145.00 124.26 L146.00 124.67 L147.00 125.06 L148.00 125.44 L149.00 125.80 L150.00 126.15 L151.00 126.47 L152.00 126.77 L153.00 127.05 L154.00 127.30 L155.00 127.53 L156.00 127.74 L157.00 127.93 L158.00 128.11 L159.00 128.28 L160.00 128.43 L161.00 128.58 L162.00 128.72 L163.00 128.85 L164.00 128.97 L165.00 129.08 L166.00 129.18 L167.00 129.27 L168.00 129.35 L169.00 129.42 L170.00 129.48 L171.00 129.53 L172.00 129.58 L173.00 129.63 L174.00 129.68 L175.00 129.72 L176.00 129.76 L177.00 129.80 L178.00 129.83 L179.00 129.87 L180.00 129.91 L181.00 129.94 L182.00 129.97 L183.00 130.00 L184.00 130.03 L185.00 130.06 L186.00 130.09 L187.00 130.11 L188.00 130.14 L189.00 130.16 L190.00 130.18 L191.00 130.20 L192.00 130.21 L193.00 130.23 L194.00 130.24 L195.00 130.26 L196.00 130.27 L197.00 130.28 L198.00 130.29 L199.00 130.29 L200.00 130.30 L201.00 130.30 L202.00 130.31 L203.00 130.31 L204.00 130.31 L205.00 130.32 L206.00 130.32 L207.00 130.32 L208.00 130.32 L209.00 130.33 L210.00 130.33 L211.00 130.33 L212.00 130.33 L213.00 130.34 L214.00 130.34 L215.00 130.34 L216.00 130.34 L217.00 130.34 L218.00 130.35 L219.00 130.35 L220.00 130.35 L221.00 130.35 L222.00 130.35 L223.00 130.35 L224.00 130.36 L225.00 130.36 L226.00 130.36 L227.00 130.36 L228.00 130.36 L229.00 130.36 L230.00 130.36 L231.00 130.37 L232.00 130.37 L233.00 130.37 L234.00 130.37 L235.00 130.37 L236.00 130.37 L237.00 130.37 L238.00 130.37 L239.00 130.37 L240.00 130.38 L241.00 130.38 L242.00 130.38 L243.00 130.38 L244.00 130.38 L245.00 130.38 L246.00 130.38 L247.00 130.38 L248.00 130.38 L249.00 130.39 L250.00 130.39 L251.00 130.39 L252.00 130.39 L253.00 130.39 L254.00 130.39 L255.00 130.39 L256.00 130.39 L257.00 130.40 L258.00 130.40 L259.00 130.40 L260.00 130.40 L261.00 130.40 L262.00 130.40 L263.00 130.40 L264.00 130.41 L265.00 130.41 L266.00 130.41 L267.00 130.41 L268.00 130.41 L269.00 130.41 L270.00 130.42 L271.00 130.42 L272.00 130.42 L273.00 130.42 L274.00 130.42 L275.00 130.42 L276.00 130.43 L277.00 130.43 L278.00 130.43 L279.00 130.43 L280.00 130.43 L281.00 130.43 L282.00 130.43 L283.00 130.44 L284.00 130.44 L285.00 130.44 L286.00 130.44 L287.00 130.44 L288.00 130.44 L289.00 130.45 L290.00 130.45 L291.00 130.45 L292.00 130.45 L293.00 130.45 L294.00 130.45 L295.00 130.45 L296.00 130.46 L297.00 130.46 L298.00 130.46 L299.00 130.46 L300.00 130.46 L301.00 130.46 L302.00 130.46 L303.00 130.47 L304.00 130.47 L305.00 130.47 L306.00 130.47 L307.00 130.47 L308.00 130.47 L309.00 130.48 L310.00 130.48 L311.00 130.48 L312.00 130.48 L313.00 130.48 L314.00 130.48 L315.00 130.48 L316.00 130.49 L317.00 130.49 L318.00 130.49 L319.00 130.49 L320.00 130.49 L321.00 130.49 L322.00 130.49 L323.00 130.50 L324.00 130.50 L325.00 130.50 L326.00 130.50" stroke="#f2c41c" stroke-width="1.7"/>
<path d="M49.00 119.81 L50.00 119.33 L51.00 118.84 L52.00 118.35 L53.00 117.87 L54.00 117.38 L55.00 116.89 L56.00 116.39 L57.00 115.90 L58.00 115.41 L59.00 114.91 L60.00 114.42 L61.00 113.92 L62.00 113.42 L63.00 112.92 L64.00 112.42 L65.00 111.92 L66.00 111.42 L67.00 110.91 L68.00 110.41 L69.00 109.90 L70.00 109.39 L71.00 108.88 L72.00 108.36 L73.00 107.84 L74.00 107.32 L75.00 106.80 L76.00 106.27 L77.00 105.74 L78.00 105.21 L79.00 104.67 L80.00 104.14 L81.00 103.60 L82.00 103.06 L83.00 102.53 L84.00 101.99 L85.00 101.45 L86.00 100.92 L87.00 100.38 L88.00 99.85 L89.00 99.32 L90.00 98.79 L91.00 98.26 L92.00 97.74 L93.00 97.22 L94.00 96.71 L95.00 96.20 L96.00 95.69 L97.00 95.19 L98.00 94.69 L99.00 94.20 L100.00 93.72 L101.00 93.24 L102.00 92.76 L103.00 92.29 L104.00 91.82 L105.00 91.36 L106.00 90.90 L107.00 90.45 L108.00 90.00 L109.00 89.55 L110.00 89.11 L111.00 88.67 L112.00 88.23 L113.00 87.79 L114.00 87.35 L115.00 86.91 L116.00 86.46 L117.00 86.02 L118.00 85.57 L119.00 85.12 L120.00 84.68 L121.00 84.24 L122.00 83.82 L123.00 83.41 L124.00 83.01 L125.00 82.63 L126.00 82.27 L127.00 81.94 L128.00 81.62 L129.00 81.33 L130.00 81.07 L131.00 80.82 L132.00 80.59 L133.00 80.38 L134.00 80.17 L135.00 79.98 L136.00 79.80 L137.00 79.62 L138.00 79.45 L139.00 79.29 L140.00 79.13 L141.00 78.98 L142.00 78.83 L143.00 78.68 L144.00 78.54 L145.00 78.40 L146.00 78.26 L147.00 78.12 L148.00 77.98 L149.00 77.83 L150.00 77.69 L151.00 77.55 L152.00 77.40 L153.00 77.25 L154.00 77.09 L155.00 76.94 L156.00 76.79 L157.00 76.64 L158.00 76.49 L159.00 76.34 L160.00 76.20 L161.00 76.06 L162.00 75.93 L163.00 75.81 L164.00 75.69 L165.00 75.59 L166.00 75.49 L167.00 75.41 L168.00 75.34 L169.00 75.28 L170.00 75.22 L171.00 75.18 L172.00 75.14 L173.00 75.11 L174.00 75.07 L175.00 75.04 L176.00 75.02 L177.00 74.99 L178.00 74.96 L179.00 74.94 L180.00 74.92 L181.00 74.90 L182.00 74.88 L183.00 74.86 L184.00 74.85 L185.00 74.84 L186.00 74.83 L187.00 74.82 L188.00 74.81 L189.00 74.81 L190.00 74.82 L191.00 74.82 L192.00 74.84 L193.00 74.85 L194.00 74.88 L195.00 74.91 L196.00 74.95 L197.00 74.99 L198.00 75.03 L199.00 75.08 L200.00 75.14 L201.00 75.20 L202.00 75.26 L203.00 75.32 L204.00 75.39 L205.00 75.45 L206.00 75.52 L207.00 75.59 L208.00 75.66 L209.00 75.73 L210.00 75.80 L211.00 75.88 L212.00 75.95 L213.00 76.03 L214.00 76.11 L215.00 76.19 L216.00 76.28 L217.00 76.37 L218.00 76.46 L219.00 76.56 L220.00 76.67 L221.00 76.78 L222.00 76.89 L223.00 77.01 L224.00 77.13 L225.00 77.27 L226.00 77.41 L227.00 77.55 L228.00 77.71 L229.00 77.87 L230.00 78.05 L231.00 78.25 L232.00 78.46 L233.00 78.70 L234.00 78.96 L235.00 79.24 L236.00 79.54 L237.00 79.86 L238.00 80.20 L239.00 80.55 L240.00 80.92 L241.00 81.31 L242.00 81.71 L243.00 82.12 L244.00 82.54 L245.00 82.97 L246.00 83.41 L247.00 83.85 L248.00 84.31 L249.00 84.77 L250.00 85.24 L251.00 85.73 L252.00 86.23 L253.00 86.75 L254.00 87.29 L255.00 87.85 L256.00 88.43 L257.00 89.03 L258.00 89.65 L259.00 90.30 L260.00 90.97 L261.00 91.66 L262.00 92.38 L263.00 93.13 L264.00 93.91 L265.00 94.73 L266.00 95.58 L267.00 96.46 L268.00 97.37 L269.00 98.30 L270.00 99.24 L271.00 100.20 L272.00 101.16 L273.00 102.12 L274.00 103.08 L275.00 104.04 L276.00 104.99 L277.00 105.93 L278.00 106.88 L279.00 107.82 L280.00 108.77 L281.00 109.71 L282.00 110.65 L283.00 111.59 L284.00 112.52 L285.00 113.45 L286.00 114.38 L287.00 115.31 L288.00 116.22 L289.00 117.13 L290.00 118.01 L291.00 118.86 L292.00 119.67 L293.00 120.43 L294.00 121.13 L295.00 121.79 L296.00 122.41 L297.00 122.99 L298.00 123.54 L299.00 124.06 L300.00 124.56 L301.00 125.02 L302.00 125.46 L303.00 125.87 L304.00 126.25 L305.00 126.60 L306.00 126.93 L307.00 127.23 L308.00 127.51 L309.00 127.77 L310.00 128.02 L311.00 128.24 L312.00 128.45 L313.00 128.63 L314.00 128.80 L315.00 128.96 L316.00 129.10 L317.00 129.23 L318.00 129.36 L319.00 129.47 L320.00 129.57 L321.00 129.67 L322.00 129.75 L323.00 129.83 L324.00 129.89 L325.00 129.94 L326.00 129.99" stroke="#f2c41c" stroke-width="1.7"/>
<path d="M49.00 116.17 L50.00 116.15 L51.00 116.12 L52.00 116.09 L53.00 116.05 L54.00 116.02 L55.00 115.98 L56.00 115.94 L57.00 115.89 L58.00 115.84 L59.00 115.79 L60.00 115.74 L61.00 115.69 L62.00 115.63 L63.00 115.57 L64.00 115.50 L65.00 115.44 L66.00 115.37 L67.00 115.30 L68.00 115.23 L69.00 115.16 L70.00 115.08 L71.00 115.01 L72.00 114.93 L73.00 114.84 L74.00 114.76 L75.00 114.68 L76.00 114.59 L77.00 114.50 L78.00 114.41 L79.00 114.32 L80.00 114.23 L81.00 114.14 L82.00 114.04 L83.00 113.95 L84.00 113.85 L85.00 113.75 L86.00 113.65 L87.00 113.55 L88.00 113.45 L89.00 113.35 L90.00 113.24 L91.00 113.14 L92.00 113.04 L93.00 112.93 L94.00 112.83 L95.00 112.72 L96.00 112.61 L97.00 112.50 L98.00 112.38 L99.00 112.26 L100.00 112.13 L101.00 111.99 L102.00 111.84 L103.00 111.68 L104.00 111.52 L105.00 111.34 L106.00 111.17 L107.00 110.98 L108.00 110.79 L109.00 110.60 L110.00 110.41 L111.00 110.22 L112.00 110.02 L113.00 109.83 L114.00 109.64 L115.00 109.46 L116.00 109.28 L117.00 109.10 L118.00 108.93 L119.00 108.77 L120.00 108.62 L121.00 108.48 L122.00 108.35 L123.00 108.23 L124.00 108.12 L125.00 108.02 L126.00 107.93 L127.00 107.85 L128.00 107.76 L129.00 107.68 L130.00 107.61 L131.00 107.53 L132.00 107.46 L133.00 107.39 L134.00 107.32 L135.00 107.26 L136.00 107.19 L137.00 107.13 L138.00 107.07 L139.00 107.02 L140.00 106.96 L141.00 106.91 L142.00 106.87 L143.00 106.82 L144.00 106.78 L145.00 106.74 L146.00 106.71 L147.00 106.68 L148.00 106.65 L149.00 106.63 L150.00 106.61 L151.00 106.59 L152.00 106.58 L153.00 106.56 L154.00 106.55 L155.00 106.54 L156.00 106.53 L157.00 106.52 L158.00 106.51 L159.00 106.50 L160.00 106.49 L161.00 106.49 L162.00 106.48 L163.00 106.47 L164.00 106.46 L165.00 106.45 L166.00 106.44 L167.00 106.43 L168.00 106.42 L169.00 106.41 L170.00 106.39 L171.00 106.37 L172.00 106.35 L173.00 106.33 L174.00 106.30 L175.00 106.28 L176.00 106.25 L177.00 106.21 L178.00 106.18 L179.00 106.15 L180.00 106.12 L181.00 106.08 L182.00 106.05 L183.00 106.03 L184.00 106.00 L185.00 105.98 L186.00 105.95 L187.00 105.94 L188.00 105.92 L189.00 105.92 L190.00 105.91 L191.00 105.91 L192.00 105.91 L193.00 105.91 L194.00 105.91 L195.00 105.91 L196.00 105.92 L197.00 105.92 L198.00 105.93 L199.00 105.94 L200.00 105.95 L201.00 105.96 L202.00 105.97 L203.00 105.98 L204.00 105.99 L205.00 106.00 L206.00 106.02 L207.00 106.03 L208.00 106.05 L209.00 106.06 L210.00 106.08 L211.00 106.10 L212.00 106.12 L213.00 106.14 L214.00 106.16 L215.00 106.18 L216.00 106.20 L217.00 106.22 L218.00 106.25 L219.00 106.27 L220.00 106.30 L221.00 106.33 L222.00 106.35 L223.00 106.38 L224.00 106.41 L225.00 106.44 L226.00 106.47 L227.00 106.51 L228.00 106.54 L229.00 106.58 L230.00 106.63 L231.00 106.69 L232.00 106.76 L233.00 106.84 L234.00 106.94 L235.00 107.05 L236.00 107.18 L237.00 107.32 L238.00 107.47 L239.00 107.63 L240.00 107.80 L241.00 107.97 L242.00 108.16 L243.00 108.34 L244.00 108.54 L245.00 108.73 L246.00 108.92 L247.00 109.12 L248.00 109.31 L249.00 109.51 L250.00 109.70 L251.00 109.90 L252.00 110.10 L253.00 110.30 L254.00 110.51 L255.00 110.72 L256.00 110.94 L257.00 111.16 L258.00 111.39 L259.00 111.62 L260.00 111.86 L261.00 112.09 L262.00 112.33 L263.00 112.57 L264.00 112.82 L265.00 113.06 L266.00 113.31 L267.00 113.56 L268.00 113.80 L269.00 114.05 L270.00 114.29 L271.00 114.54 L272.00 114.78 L273.00 115.03 L274.00 115.27 L275.00 115.52 L276.00 115.77 L277.00 116.02 L278.00 116.28 L279.00 116.55 L280.00 116.82 L281.00 117.11 L282.00 117.42 L283.00 117.75 L284.00 118.10 L285.00 118.47 L286.00 118.88 L287.00 119.32 L288.00 119.78 L289.00 120.27 L290.00 120.77 L291.00 121.29 L292.00 121.80 L293.00 122.31 L294.00 122.81 L295.00 123.29 L296.00 123.74 L297.00 124.16 L298.00 124.54 L299.00 124.89 L300.00 125.21 L301.00 125.50 L302.00 125.77 L303.00 126.02 L304.00 126.26 L305.00 126.50 L306.00 126.73 L307.00 126.96 L308.00 127.18 L309.00 127.39 L310.00 127.60 L311.00 127.80 L312.00 127.99 L313.00 128.18 L314.00 128.35 L315.00 128.51 L316.00 128.66 L317.00 128.81 L318.00 128.93 L319.00 129.05 L320.00 129.15 L321.00 129.24 L322.00 129.32 L323.00 129.38 L324.00 129.42 L325.00 129.46 L326.00 129.49" stroke="#f2c41c" stroke-width="1.7"/>
<path d="M49.00 109.58 L50.00 109.35 L51.00 109.12 L52.00 108.89 L53.00 108.65 L54.00 108.41 L55.00 108.16 L56.00 107.91 L57.00 107.65 L58.00 107.39 L59.00 107.13 L60.00 106.85 L61.00 106.58 L62.00 106.30 L63.00 106.01 L64.00 105.72 L65.00 105.42 L66.00 105.13 L67.00 104.82 L68.00 104.51 L69.00 104.20 L70.00 103.87 L71.00 103.54 L72.00 103.20 L73.00 102.85 L74.00 102.49 L75.00 102.12 L76.00 101.74 L77.00 101.35 L78.00 100.95 L79.00 100.54 L80.00 100.13 L81.00 99.71 L82.00 99.29 L83.00 98.87 L84.00 98.44 L85.00 98.01 L86.00 97.58 L87.00 97.14 L88.00 96.71 L89.00 96.29 L90.00 95.86 L91.00 95.44 L92.00 95.02 L93.00 94.61 L94.00 94.20 L95.00 93.80 L96.00 93.41 L97.00 93.02 L98.00 92.65 L99.00 92.29 L100.00 91.94 L101.00 91.59 L102.00 91.26 L103.00 90.94 L104.00 90.63 L105.00 90.31 L106.00 90.01 L107.00 89.70 L108.00 89.39 L109.00 89.08 L110.00 88.76 L111.00 88.44 L112.00 88.10 L113.00 87.74 L114.00 87.37 L115.00 86.98 L116.00 86.58 L117.00 86.16 L118.00 85.73 L119.00 85.29 L120.00 84.84 L121.00 84.40 L122.00 83.96 L123.00 83.53 L124.00 83.11 L125.00 82.71 L126.00 82.33 L127.00 81.98 L128.00 81.65 L129.00 81.35 L130.00 81.08 L131.00 80.83 L132.00 80.59 L133.00 80.38 L134.00 80.17 L135.00 79.98 L136.00 79.80 L137.00 79.62 L138.00 79.45 L139.00 79.29 L140.00 79.13 L141.00 78.98 L142.00 78.83 L143.00 78.68 L144.00 78.54 L145.00 78.40 L146.00 78.26 L147.00 78.12 L148.00 77.98 L149.00 77.83 L150.00 77.69 L151.00 77.55 L152.00 77.40 L153.00 77.25 L154.00 77.09 L155.00 76.94 L156.00 76.79 L157.00 76.64 L158.00 76.49 L159.00 76.34 L160.00 76.20 L161.00 76.06 L162.00 75.93 L163.00 75.81 L164.00 75.69 L165.00 75.59 L166.00 75.49 L167.00 75.41 L168.00 75.34 L169.00 75.28 L170.00 75.22 L171.00 75.18 L172.00 75.14 L173.00 75.11 L174.00 75.07 L175.00 75.04 L176.00 75.02 L177.00 74.99 L178.00 74.96 L179.00 74.94 L180.00 74.92 L181.00 74.90 L182.00 74.88 L183.00 74.86 L184.00 74.85 L185.00 74.84 L186.00 74.83 L187.00 74.82 L188.00 74.81 L189.00 74.81 L190.00 74.82 L191.00 74.82 L192.00 74.84 L193.00 74.85 L194.00 74.88 L195.00 74.91 L196.00 74.95 L197.00 74.99 L198.00 75.03 L199.00 75.08 L200.00 75.14 L201.00 75.20 L202.00 75.26 L203.00 75.32 L204.00 75.39 L205.00 75.45 L206.00 75.52 L207.00 75.59 L208.00 75.66 L209.00 75.73 L210.00 75.80 L211.00 75.88 L212.00 75.95 L213.00 76.03 L214.00 76.11 L215.00 76.19 L216.00 76.28 L217.00 76.37 L218.00 76.46 L219.00 76.56 L220.00 76.67 L221.00 76.78 L222.00 76.89 L223.00 77.01 L224.00 77.13 L225.00 77.27 L226.00 77.41 L227.00 77.55 L228.00 77.71 L229.00 77.87 L230.00 78.05 L231.00 78.25 L232.00 78.46 L233.00 78.70 L234.00 78.96 L235.00 79.24 L236.00 79.54 L237.00 79.86 L238.00 80.20 L239.00 80.55 L240.00 80.92 L241.00 81.31 L242.00 81.71 L243.00 82.12 L244.00 82.54 L245.00 82.97 L246.00 83.41 L247.00 83.85 L248.00 84.31 L249.00 84.77 L250.00 85.24 L251.00 85.73 L252.00 86.23 L253.00 86.75 L254.00 87.29 L255.00 87.85 L256.00 88.43 L257.00 89.03 L258.00 89.65 L259.00 90.30 L260.00 90.97 L261.00 91.66 L262.00 92.38 L263.00 93.13 L264.00 93.91 L265.00 94.73 L266.00 95.58 L267.00 96.46 L268.00 97.37 L269.00 98.30 L270.00 99.24 L271.00 100.20 L272.00 101.16 L273.00 102.12 L274.00 103.08 L275.00 104.04 L276.00 104.99 L277.00 105.93 L278.00 106.88 L279.00 107.82 L280.00 108.77 L281.00 109.71 L282.00 110.65 L283.00 111.59 L284.00 112.52 L285.00 113.45 L286.00 114.38 L287.00 115.31 L288.00 116.22 L289.00 117.13 L290.00 118.01 L291.00 118.86 L292.00 119.67 L293.00 120.43 L294.00 121.13 L295.00 121.79 L296.00 122.41 L297.00 122.99 L298.00 123.54 L299.00 124.06 L300.00 124.56 L301.00 125.02 L302.00 125.46 L303.00 125.87 L304.00 126.25 L305.00 126.60 L306.00 126.93 L307.00 127.23 L308.00 127.51 L309.00 127.77 L310.00 128.02 L311.00 128.24 L312.00 128.45 L313.00 128.63 L314.00 128.80 L315.00 128.96 L316.00 129.10 L317.00 129.23 L318.00 129.36 L319.00 129.47 L320.00 129.57 L321.00 129.67 L322.00 129.75 L323.00 129.83 L324.00 129.89 L325.00 129.94 L326.00 129.99" stroke="#f01818" stroke-width="1.2" stroke-dasharray="12.4 4.5" transform="translate(0 -0.6)"/>
<path d="M49.00 117.23 L50.00 117.16 L51.00 117.09 L52.00 117.01 L53.00 116.94 L54.00 116.86 L55.00 116.78 L56.00 116.70 L57.00 116.62 L58.00 116.54 L59.00 116.45 L60.00 116.36 L61.00 116.28 L62.00 116.19 L63.00 116.10 L64.00 116.00 L65.00 115.91 L66.00 115.81 L67.00 115.72 L68.00 115.62 L69.00 115.52 L70.00 115.42 L71.00 115.32 L72.00 115.22 L73.00 115.11 L74.00 115.01 L75.00 114.90 L76.00 114.79 L77.00 114.68 L78.00 114.58 L79.00 114.46 L80.00 114.35 L81.00 114.24 L82.00 114.13 L83.00 114.01 L84.00 113.90 L85.00 113.78 L86.00 113.66 L87.00 113.54 L88.00 113.43 L89.00 113.31 L90.00 113.19 L91.00 113.06 L92.00 112.94 L93.00 112.82 L94.00 112.70 L95.00 112.57 L96.00 112.45 L97.00 112.32 L98.00 112.19 L99.00 112.05 L100.00 111.91 L101.00 111.76 L102.00 111.61 L103.00 111.45 L104.00 111.28 L105.00 111.11 L106.00 110.94 L107.00 110.76 L108.00 110.59 L109.00 110.41 L110.00 110.23 L111.00 110.05 L112.00 109.87 L113.00 109.69 L114.00 109.52 L115.00 109.35 L116.00 109.18 L117.00 109.02 L118.00 108.87 L119.00 108.72 L120.00 108.58 L121.00 108.45 L122.00 108.33 L123.00 108.22 L124.00 108.12 L125.00 108.02 L126.00 107.93 L127.00 107.85 L128.00 107.77 L129.00 107.69 L130.00 107.61 L131.00 107.54 L132.00 107.46 L133.00 107.39 L134.00 107.33 L135.00 107.26 L136.00 107.20 L137.00 107.13 L138.00 107.07 L139.00 107.02 L140.00 106.97 L141.00 106.91 L142.00 106.87 L143.00 106.82 L144.00 106.78 L145.00 106.74 L146.00 106.71 L147.00 106.68 L148.00 106.65 L149.00 106.63 L150.00 106.61 L151.00 106.59 L152.00 106.58 L153.00 106.56 L154.00 106.55 L155.00 106.54 L156.00 106.53 L157.00 106.52 L158.00 106.51 L159.00 106.50 L160.00 106.49 L161.00 106.49 L162.00 106.48 L163.00 106.47 L164.00 106.46 L165.00 106.45 L166.00 106.44 L167.00 106.43 L168.00 106.42 L169.00 106.41 L170.00 106.39 L171.00 106.37 L172.00 106.35 L173.00 106.33 L174.00 106.30 L175.00 106.28 L176.00 106.25 L177.00 106.21 L178.00 106.18 L179.00 106.15 L180.00 106.12 L181.00 106.08 L182.00 106.05 L183.00 106.03 L184.00 106.00 L185.00 105.98 L186.00 105.95 L187.00 105.94 L188.00 105.92 L189.00 105.92 L190.00 105.91 L191.00 105.91 L192.00 105.91 L193.00 105.91 L194.00 105.91 L195.00 105.91 L196.00 105.92 L197.00 105.92 L198.00 105.93 L199.00 105.94 L200.00 105.95 L201.00 105.96 L202.00 105.97 L203.00 105.98 L204.00 105.99 L205.00 106.00 L206.00 106.02 L207.00 106.03 L208.00 106.05 L209.00 106.06 L210.00 106.08 L211.00 106.10 L212.00 106.12 L213.00 106.14 L214.00 106.16 L215.00 106.18 L216.00 106.20 L217.00 106.22 L218.00 106.25 L219.00 106.27 L220.00 106.30 L221.00 106.33 L222.00 106.35 L223.00 106.38 L224.00 106.41 L225.00 106.44 L226.00 106.47 L227.00 106.51 L228.00 106.54 L229.00 106.58 L230.00 106.63 L231.00 106.69 L232.00 106.76 L233.00 106.84 L234.00 106.94 L235.00 107.05 L236.00 107.18 L237.00 107.32 L238.00 107.47 L239.00 107.63 L240.00 107.80 L241.00 107.97 L242.00 108.16 L243.00 108.34 L244.00 108.54 L245.00 108.73 L246.00 108.92 L247.00 109.12 L248.00 109.31 L249.00 109.51 L250.00 109.70 L251.00 109.90 L252.00 110.10 L253.00 110.30 L254.00 110.51 L255.00 110.72 L256.00 110.94 L257.00 111.16 L258.00 111.39 L259.00 111.62 L260.00 111.86 L261.00 112.09 L262.00 112.33 L263.00 112.57 L264.00 112.82 L265.00 113.06 L266.00 113.31 L267.00 113.56 L268.00 113.80 L269.00 114.05 L270.00 114.29 L271.00 114.54 L272.00 114.78 L273.00 115.03 L274.00 115.27 L275.00 115.52 L276.00 115.77 L277.00 116.02 L278.00 116.28 L279.00 116.55 L280.00 116.82 L281.00 117.11 L282.00 117.42 L283.00 117.75 L284.00 118.10 L285.00 118.47 L286.00 118.88 L287.00 119.32 L288.00 119.78 L289.00 120.27 L290.00 120.77 L291.00 121.29 L292.00 121.80 L293.00 122.31 L294.00 122.81 L295.00 123.29 L296.00 123.74 L297.00 124.16 L298.00 124.54 L299.00 124.89 L300.00 125.21 L301.00 125.50 L302.00 125.77 L303.00 126.02 L304.00 126.26 L305.00 126.50 L306.00 126.73 L307.00 126.96 L308.00 127.18 L309.00 127.39 L310.00 127.60 L311.00 127.80 L312.00 127.99 L313.00 128.18 L314.00 128.35 L315.00 128.51 L316.00 128.66 L317.00 128.81 L318.00 128.93 L319.00 129.05 L320.00 129.15 L321.00 129.24 L322.00 129.32 L323.00 129.38 L324.00 129.42 L325.00 129.46 L326.00 129.49" stroke="#f01818" stroke-width="1.2" stroke-dasharray="12.4 4.5" transform="translate(0 -0.6)"/>
</g>
<g clip-path="url(#cb)" fill="none" stroke-linejoin="round">
<path d="M49.3 153.0 L49.8 153.2 L50.3 153.5 L50.8 153.7 L51.3 153.9 L51.8 154.2 L52.3 154.4 L52.8 154.6 L53.3 153.5 L53.8 153.8 L54.3 153.2 L54.8 154.0 L55.3 154.2 L55.8 154.5 L56.3 153.8 L56.8 154.0 L57.3 154.3 L57.8 155.6 L58.3 155.8 L58.8 156.1 L59.3 156.6 L59.8 156.8 L60.3 157.9 L60.8 158.1 L61.3 158.6 L61.8 158.8 L62.3 159.6 L62.8 159.8 L63.3 159.6 L63.8 159.8 L64.3 160.0 L64.8 160.3 L65.3 160.2 L65.8 160.5 L66.3 160.7 L66.8 161.0 L67.3 160.8 L67.8 161.1 L68.3 161.4 L68.8 163.0 L69.3 161.5 L69.8 161.3 L70.3 161.6 L70.8 161.8 L71.3 162.1 L71.8 162.4 L72.3 163.7 L72.8 164.1 L73.3 164.4 L73.8 164.8 L74.3 164.3 L74.8 164.1 L75.3 164.4 L75.8 164.6 L76.3 165.5 L76.8 166.0 L77.3 166.3 L77.8 166.5 L78.3 167.0 L78.8 168.0 L79.3 168.2 L79.8 168.5 L80.3 168.8 L80.8 169.5 L81.3 169.2 L81.8 169.4 L82.3 169.0 L82.8 169.3 L83.3 169.3 L83.8 169.3 L84.3 169.6 L84.8 170.6 L85.3 170.9 L85.8 172.0 L86.3 172.2 L86.8 172.5 L87.3 172.7 L87.8 173.5 L88.3 172.3 L88.8 172.6 L89.3 170.9 L89.8 171.2 L90.3 171.4 L90.8 173.3 L91.3 173.6 L91.8 173.9 L92.3 174.5 L92.8 174.8 L93.3 175.0 L93.8 175.1 L94.3 175.1 L94.8 175.9 L95.3 174.5 L95.8 174.8 L96.3 174.5 L96.8 176.0 L97.3 175.8 L97.8 176.8 L98.3 177.1 L98.8 178.3 L99.3 178.6 L99.8 179.9 L100.3 179.1 L100.8 178.3 L101.3 178.6 L101.8 178.9 L102.3 179.2 L102.8 179.5 L103.3 179.5 L103.8 177.7 L104.3 178.8 L104.8 179.1 L105.3 179.5 L105.8 183.0 L106.3 183.5 L106.8 183.9 L107.3 183.6 L107.8 183.9 L108.3 183.7 L108.8 184.0 L109.3 183.7 L109.8 184.1 L110.3 185.4 L110.8 186.5 L111.3 186.9 L111.8 186.5 L112.3 186.3 L112.8 186.1 L113.3 188.0 L113.8 188.4 L114.3 188.7 L114.8 188.8 L115.3 189.3 L115.8 189.6 L116.3 189.9 L116.8 190.2 L117.3 190.6 L117.8 190.1 L118.3 190.4 L118.8 191.6 L119.3 191.9 L119.8 191.7 L120.3 192.0 L120.8 193.5 L121.3 193.8 L121.8 193.5 L122.3 193.8 L122.8 193.4 L123.3 194.7 L123.8 195.1 L124.3 195.6 L124.8 196.0 L125.3 195.5 L125.8 195.8 L126.3 195.4 L126.8 195.7 L127.3 195.6 L127.8 195.8 L128.3 197.3 L128.8 197.0 L129.3 197.3 L129.8 197.7 L130.3 200.2 L130.8 200.6 L131.3 200.3 L131.8 200.7 L132.3 201.3 L132.8 200.3 L133.3 200.2 L133.8 201.7 L134.3 202.1 L134.8 201.4 L135.3 202.5 L135.8 202.4 L136.3 203.7 L136.8 204.1 L137.3 204.4 L137.8 204.8 L138.3 204.8 L138.8 205.2 L139.3 206.1 L139.8 206.5 L140.3 207.1 L140.8 207.5 L141.3 207.6 L141.8 208.0 L142.3 208.3 L142.8 208.8 L143.3 208.8 L143.8 209.2 L144.3 209.5 L144.8 210.7 L145.3 210.5 L145.8 210.8 L146.3 211.4 L146.8 211.5 L147.3 212.5 L147.8 212.9 L148.3 213.0 L148.8 213.4 L149.3 213.3 L149.8 212.9 L150.3 213.3 L150.8 213.9 L151.3 214.3 L151.8 216.2 L152.3 217.3 L152.8 217.6 L153.3 216.9 L153.8 217.3 L154.3 217.5 L154.8 218.8 L155.3 219.3 L155.8 219.7 L156.3 220.2 L156.8 219.9 L157.3 220.3 L157.8 220.6 L158.3 221.5 L158.8 221.9 L159.3 222.1 L159.8 222.4 L160.3 222.7 L160.8 222.4 L161.3 222.7 L161.8 223.1 L162.3 224.3 L162.8 224.6 L163.3 225.4 L163.8 225.2 L164.3 225.1 L164.8 226.3 L165.3 226.1 L165.8 225.8 L166.3 225.8 L166.8 227.0 L167.3 227.4 L167.8 228.3 L168.3 228.3 L168.8 228.6 L169.3 229.1 L169.8 229.6 L170.3 230.0 L170.8 229.2 L171.3 229.5 L171.8 230.4 L172.3 230.7 L172.8 231.5 L173.3 231.2 L173.8 231.8 L174.3 232.2 L174.8 232.1 L175.3 233.2 L175.8 233.7 L176.3 233.8 L176.8 234.2 L177.3 234.4 L177.8 234.8 L178.3 234.9 L178.8 235.3 L179.3 235.7 L179.8 236.7 L180.3 237.1 L180.8 237.5 L181.3 237.9 L181.8 238.6 L182.3 238.9 L182.8 239.5 L183.3 239.8 L183.8 240.2 L184.3 240.6 L184.8 241.0 L185.3 241.4 L185.8 240.9 L186.3 241.0 L186.8 241.3 L187.3 241.4 L187.8 241.8 L188.3 241.2 L188.8 241.5 L189.3 242.2 L189.8 242.5 L190.3 242.9 L190.8 242.9 L191.3 243.2 L191.8 244.6 L192.3 245.9 L192.8 245.1 L193.3 245.4 L193.8 246.8 L194.3 247.1 L194.8 247.4 L195.3 246.4 L195.8 246.6 L196.3 247.8 L196.8 248.6 L197.3 248.0 L197.8 248.4 L198.3 248.6 L198.8 248.6 L199.3 248.8 L199.8 249.8 L200.3 250.2 L200.8 249.6 L201.3 249.6 L201.8 249.8 L202.3 250.1 L202.8 248.4 L203.3 248.7 L203.8 250.1 L204.3 250.5 L204.8 250.6 L205.3 250.8 L205.8 251.6 L206.3 251.7 L206.8 251.3 L207.3 251.4 L207.8 252.2 L208.3 251.8 L208.8 252.5 L209.3 252.8 L209.8 252.0 L210.3 252.3 L210.8 252.3 L211.3 252.6 L211.8 252.8 L212.3 253.4 L212.8 253.7 L213.3 253.9 L213.8 253.4 L214.3 253.3 L214.8 253.4 L215.3 253.4 L215.8 253.5 L216.3 253.7 L216.8 253.9 L217.3 254.8 L217.8 254.9 L218.3 255.0 L218.8 255.1 L219.3 253.7 L219.8 253.0 L220.3 253.1 L220.8 253.2 L221.3 254.2 L221.8 254.3 L222.3 254.3 L222.8 255.1 L223.3 255.8 L223.8 255.8 L224.3 254.4 L224.8 255.1 L225.3 255.1 L225.8 256.1 L226.3 256.2 L226.8 256.0 L227.3 255.6 L227.8 256.0 L228.3 255.5 L228.8 255.5 L229.3 255.6 L229.8 255.5 L230.3 256.5 L230.8 257.0 L231.3 257.1 L231.8 256.2 L232.3 256.3 L232.8 255.9 L233.3 256.0 L233.8 256.8 L234.3 258.0 L234.8 258.0 L235.3 258.1 L235.8 257.8 L236.3 257.5 L236.8 257.7 L237.3 256.1 L237.8 256.0 L238.3 256.1 L238.8 256.2 L239.3 256.3 L239.8 258.2 L240.3 258.2 L240.8 257.5 L241.3 257.5 L241.8 258.1 L242.3 258.2 L242.8 258.3 L243.3 258.7 L243.8 258.8 L244.3 258.9 L244.8 258.9 L245.3 256.9 L245.8 257.0 L246.3 257.0 L246.8 257.1 L247.3 257.9 L247.8 259.3 L248.3 259.0 L248.8 259.0 L249.3 258.6 L249.8 258.7 L250.3 258.7 L250.8 258.9 L251.3 258.8 L251.8 258.8 L252.3 259.5 L252.8 259.5 L253.3 259.4 L253.8 259.5 L254.3 259.5 L254.8 259.7 L255.3 260.1 L255.8 260.2 L256.3 259.7 L256.8 259.7 L257.3 260.5 L257.8 259.6 L258.3 258.7 L258.8 258.7 L259.3 261.1 L259.8 260.0 L260.3 260.0 L260.8 259.2 L261.3 259.3 L261.8 260.7 L262.3 260.8 L262.8 260.5 L263.3 260.7 L263.8 261.0 L264.3 261.0 L264.8 260.8 L265.3 260.1 L265.8 259.6 L266.3 259.6 L266.8 260.3 L267.3 260.4 L267.8 260.6 L268.3 260.7 L268.8 260.3 L269.3 260.3 L269.8 260.6 L270.3 260.6 L270.8 261.0 L271.3 260.7 L271.8 261.0 L272.3 261.0 L272.8 261.0 L273.3 261.1 L273.8 260.5 L274.3 260.5 L274.8 260.4 L275.3 260.7 L275.8 260.7 L276.3 260.7 L276.8 260.7 L277.3 262.0 L277.8 262.1 L278.3 261.4 L278.8 261.3 L279.3 261.6 L279.8 261.8 L280.3 261.8 L280.8 261.5 L281.3 261.6 L281.8 260.8 L282.3 260.9 L282.8 260.9 L283.3 262.0 L283.8 262.0 L284.3 262.0 L284.8 262.0 L285.3 261.7 L285.8 261.7 L286.3 261.8 L286.8 261.9 L287.3 261.2 L287.8 261.2 L288.3 261.6 L288.8 261.9 L289.3 261.7 L289.8 262.1 L290.3 262.6 L290.8 262.7 L291.3 262.4 L291.8 262.4 L292.3 261.3 L292.8 261.6 L293.3 261.7 L293.8 261.9 L294.3 263.6 L294.8 262.5 L295.3 262.6 L295.8 263.9 L296.3 263.4 L296.8 263.4 L297.3 263.3 L297.8 263.0 L298.3 262.6 L298.8 263.1 L299.3 263.6 L299.8 263.1 L300.3 263.1 L300.8 263.1 L301.3 263.9 L301.8 263.9 L302.3 263.2 L302.8 263.2 L303.3 263.9 L303.8 264.0 L304.3 263.4 L304.8 262.8 L305.3 263.3 L305.8 264.4 L306.3 264.5 L306.8 264.6 L307.3 265.1 L307.8 265.2 L308.3 265.3 L308.8 263.9 L309.3 264.0 L309.8 264.4 L310.3 264.4 L310.8 263.8 L311.3 263.9 L311.8 263.7 L312.3 264.5 L312.8 264.6 L313.3 264.9 L313.8 265.0 L314.3 265.1 L314.8 264.8 L315.3 265.3 L315.8 265.7 L316.3 265.7 L316.8 265.7 L317.3 265.8 L317.8 265.5 L318.3 265.6 L318.8 265.5 L319.3 265.6 L319.8 265.5 L320.3 265.5 L320.8 265.8 L321.3 266.6 L321.8 266.9 L322.3 267.1 L322.8 266.7 L323.3 266.8 L323.8 266.4 L324.3 267.0 L324.8 266.3 L325.3 266.0 L325.8 266.1 L326.3 266.2 L326.3 272.6 L325.8 273.0 L325.3 272.9 L324.8 273.2 L324.3 273.1 L323.8 271.8 L323.3 271.9 L322.8 271.8 L322.3 272.2 L321.8 272.0 L321.3 272.6 L320.8 271.8 L320.3 271.7 L319.8 270.9 L319.3 271.1 L318.8 271.5 L318.3 271.3 L317.8 271.2 L317.3 271.5 L316.8 271.1 L316.3 270.6 L315.8 270.6 L315.3 270.3 L314.8 270.1 L314.3 270.4 L313.8 270.3 L313.3 270.4 L312.8 270.1 L312.3 270.0 L311.8 270.0 L311.3 269.8 L310.8 269.9 L310.3 270.5 L309.8 270.5 L309.3 270.1 L308.8 270.0 L308.3 270.7 L307.8 270.6 L307.3 271.6 L306.8 271.2 L306.3 270.2 L305.8 270.1 L305.3 270.7 L304.8 270.2 L304.3 269.2 L303.8 269.8 L303.3 269.7 L302.8 269.1 L302.3 268.7 L301.8 269.3 L301.3 269.3 L300.8 268.5 L300.3 268.7 L299.8 268.7 L299.3 269.2 L298.8 268.0 L298.3 267.9 L297.8 268.3 L297.3 269.0 L296.8 269.2 L296.3 269.1 L295.8 269.6 L295.3 268.3 L294.8 267.8 L294.3 268.9 L293.8 268.8 L293.3 268.6 L292.8 268.5 L292.3 268.7 L291.8 268.6 L291.3 267.9 L290.8 268.2 L290.3 268.2 L289.8 267.6 L289.3 267.6 L288.8 267.6 L288.3 267.6 L287.8 267.1 L287.3 267.1 L286.8 267.8 L286.3 267.9 L285.8 267.4 L285.3 267.4 L284.8 268.4 L284.3 268.3 L283.8 268.3 L283.3 268.3 L282.8 266.8 L282.3 266.8 L281.8 267.4 L281.3 267.4 L280.8 267.3 L280.3 267.7 L279.8 267.6 L279.3 267.6 L278.8 267.3 L278.3 266.5 L277.8 267.2 L277.3 267.2 L276.8 265.8 L276.3 266.0 L275.8 266.7 L275.3 266.7 L274.8 268.5 L274.3 268.6 L273.8 268.6 L273.3 268.3 L272.8 267.7 L272.3 267.7 L271.8 267.2 L271.3 266.9 L270.8 266.1 L270.3 265.8 L269.8 265.7 L269.3 266.0 L268.8 266.4 L268.3 266.9 L267.8 266.8 L267.3 266.6 L266.8 265.8 L266.3 265.2 L265.8 265.1 L265.3 266.3 L264.8 266.3 L264.3 266.5 L263.8 266.5 L263.3 265.8 L262.8 265.8 L262.3 266.0 L261.8 266.0 L261.3 266.1 L260.8 266.1 L260.3 265.4 L259.8 265.9 L259.3 267.0 L258.8 265.5 L258.3 265.5 L257.8 266.5 L257.3 265.5 L256.8 264.8 L256.3 264.7 L255.8 265.2 L255.3 265.7 L254.8 265.3 L254.3 265.2 L253.8 265.2 L253.3 264.5 L252.8 264.6 L252.3 264.5 L251.8 265.2 L251.3 265.1 L250.8 265.2 L250.3 265.2 L249.8 265.2 L249.3 264.7 L248.8 264.6 L248.3 264.3 L247.8 264.6 L247.3 265.7 L246.8 264.9 L246.3 264.8 L245.8 264.7 L245.3 264.3 L244.8 265.2 L244.3 265.3 L243.8 265.2 L243.3 264.1 L242.8 264.1 L242.3 264.0 L241.8 264.4 L241.3 263.8 L240.8 263.7 L240.3 264.7 L239.8 264.7 L239.3 264.4 L238.8 264.2 L238.3 263.0 L237.8 262.9 L237.3 263.0 L236.8 263.4 L236.3 263.1 L235.8 263.3 L235.3 263.6 L234.8 263.6 L234.3 263.5 L233.8 263.7 L233.3 262.8 L232.8 262.7 L232.3 263.5 L231.8 263.1 L231.3 262.7 L230.8 262.7 L230.3 261.4 L229.8 261.3 L229.3 261.4 L228.8 261.3 L228.3 261.2 L227.8 262.5 L227.3 262.1 L226.8 262.0 L226.3 262.1 L225.8 261.9 L225.3 262.1 L224.8 262.0 L224.3 261.4 L223.8 261.6 L223.3 261.6 L222.8 260.9 L222.3 261.6 L221.8 261.6 L221.3 261.5 L220.8 259.5 L220.3 259.4 L219.8 259.9 L219.3 259.8 L218.8 260.6 L218.3 260.5 L217.8 260.5 L217.3 259.7 L216.8 259.0 L216.3 258.8 L215.8 259.5 L215.3 259.4 L214.8 259.4 L214.3 260.0 L213.8 259.8 L213.3 260.3 L212.8 260.2 L212.3 258.4 L211.8 258.3 L211.3 258.1 L210.8 259.0 L210.3 258.9 L209.8 257.7 L209.3 258.4 L208.8 258.3 L208.3 257.6 L207.8 257.4 L207.3 257.5 L206.8 257.4 L206.3 257.8 L205.8 256.3 L205.3 256.1 L204.8 255.9 L204.3 256.6 L203.8 256.2 L203.3 256.0 L202.8 256.8 L202.3 256.6 L201.8 256.3 L201.3 256.1 L200.8 255.1 L200.3 255.9 L199.8 255.7 L199.3 254.7 L198.8 253.8 L198.3 253.8 L197.8 254.4 L197.3 254.2 L196.8 254.7 L196.3 253.5 L195.8 252.4 L195.3 252.1 L194.8 252.1 L194.3 252.3 L193.8 252.0 L193.3 251.6 L192.8 251.3 L192.3 252.1 L191.8 251.5 L191.3 250.1 L190.8 249.8 L190.3 249.8 L189.8 249.7 L189.3 249.6 L188.8 248.9 L188.3 248.6 L187.8 249.0 L187.3 248.6 L186.8 248.2 L186.3 247.8 L185.8 247.1 L185.3 246.8 L184.8 246.4 L184.3 246.0 L183.8 245.6 L183.3 244.7 L182.8 244.4 L182.3 243.8 L181.8 243.5 L181.3 243.4 L180.8 243.1 L180.3 242.7 L179.8 242.2 L179.3 241.3 L178.8 240.9 L178.3 241.9 L177.8 241.8 L177.3 241.4 L176.8 240.7 L176.3 240.7 L175.8 240.3 L175.3 238.4 L174.8 238.0 L174.3 238.1 L173.8 237.7 L173.3 237.3 L172.8 237.5 L172.3 237.8 L171.8 237.4 L171.3 236.0 L170.8 235.7 L170.3 235.6 L169.8 235.3 L169.3 234.5 L168.8 234.1 L168.3 233.8 L167.8 233.5 L167.3 233.0 L166.8 232.6 L166.3 232.2 L165.8 232.2 L165.3 232.6 L164.8 234.2 L164.3 233.0 L163.8 233.1 L163.3 232.8 L162.8 229.5 L162.3 229.1 L161.8 227.9 L161.3 227.6 L160.8 228.3 L160.3 228.0 L159.8 227.7 L159.3 227.4 L158.8 227.2 L158.3 227.2 L157.8 226.1 L157.3 225.7 L156.8 225.3 L156.3 225.6 L155.8 225.0 L155.3 224.7 L154.8 224.5 L154.3 223.7 L153.8 223.7 L153.3 223.3 L152.8 222.5 L152.3 222.2 L151.8 223.0 L151.3 222.6 L150.8 220.2 L150.3 219.6 L149.8 219.2 L149.3 218.6 L148.8 219.7 L148.3 219.3 L147.8 219.5 L147.3 219.2 L146.8 218.1 L146.3 217.2 L145.8 216.7 L145.3 216.3 L144.8 216.6 L144.3 215.3 L143.8 215.0 L143.3 214.6 L142.8 214.1 L142.3 213.6 L141.8 213.2 L141.3 213.1 L140.8 213.2 L140.3 212.8 L139.8 212.2 L139.3 211.8 L138.8 211.0 L138.3 210.6 L137.8 210.5 L137.3 210.1 L136.8 210.3 L136.3 209.9 L135.8 209.5 L135.3 209.7 L134.8 208.6 L134.3 208.3 L133.8 207.9 L133.3 207.5 L132.8 207.6 L132.3 207.8 L131.8 207.2 L131.3 206.8 L130.8 207.1 L130.3 206.7 L129.8 204.1 L129.3 203.8 L128.8 203.4 L128.3 204.2 L127.8 203.8 L127.3 203.6 L126.8 203.8 L126.3 203.4 L125.8 201.7 L125.3 201.3 L124.8 201.8 L124.3 202.0 L123.8 201.2 L123.3 200.9 L122.8 199.1 L122.3 199.5 L121.8 199.4 L121.3 199.7 L120.8 199.3 L120.3 197.9 L119.8 197.5 L119.3 198.8 L118.8 198.4 L118.3 197.3 L117.8 196.4 L117.3 196.6 L116.8 196.2 L116.3 195.9 L115.8 195.2 L115.3 194.9 L114.8 194.6 L114.3 194.5 L113.8 194.2 L113.3 193.9 L112.8 192.0 L112.3 191.6 L111.8 192.0 L111.3 192.4 L110.8 192.1 L110.3 192.0 L109.8 190.7 L109.3 190.4 L108.8 190.7 L108.3 190.9 L107.8 190.3 L107.3 190.0 L106.8 189.3 L106.3 189.0 L105.8 188.5 L105.3 189.0 L104.8 188.6 L104.3 188.3 L103.8 187.0 L103.3 186.7 L102.8 186.7 L102.3 186.4 L101.8 185.6 L101.3 185.3 L100.8 185.0 L100.3 185.9 L99.8 185.6 L99.3 185.1 L98.8 184.8 L98.3 184.1 L97.8 183.3 L97.3 182.3 L96.8 182.5 L96.3 182.2 L95.8 182.6 L95.3 182.7 L94.8 182.4 L94.3 181.6 L93.8 181.1 L93.3 181.0 L92.8 181.9 L92.3 181.6 L91.8 181.8 L91.3 181.5 L90.8 181.2 L90.3 178.2 L89.8 177.9 L89.3 177.5 L88.8 179.2 L88.3 179.0 L87.8 180.1 L87.3 179.4 L86.8 179.1 L86.3 178.9 L85.8 178.7 L85.3 177.4 L84.8 177.1 L84.3 176.1 L83.8 176.6 L83.3 176.3 L82.8 176.3 L82.3 176.1 L81.8 175.8 L81.3 175.6 L80.8 175.6 L80.3 175.3 L79.8 175.1 L79.3 174.8 L78.8 174.6 L78.3 173.6 L77.8 173.3 L77.3 173.1 L76.8 172.8 L76.3 171.8 L75.8 171.0 L75.3 170.7 L74.8 171.2 L74.3 171.0 L73.8 170.7 L73.3 170.4 L72.8 170.5 L72.3 170.3 L71.8 168.9 L71.3 168.6 L70.8 169.5 L70.3 169.3 L69.8 169.0 L69.3 168.8 L68.8 168.9 L68.3 168.6 L67.8 168.4 L67.3 168.2 L66.8 169.1 L66.3 168.8 L65.8 168.6 L65.3 168.4 L64.8 167.6 L64.3 167.4 L63.8 167.2 L63.3 168.1 L62.8 168.3 L62.3 168.1 L61.8 167.9 L61.3 167.7 L60.8 166.0 L60.3 165.8 L59.8 165.5 L59.3 165.3 L58.8 163.3 L58.3 163.0 L57.8 162.8 L57.3 162.6 L56.8 162.4 L56.3 161.6 L55.8 161.4 L55.3 161.2 L54.8 161.0 L54.3 161.2 L53.8 161.8 L53.3 161.6 L52.8 161.7 L52.3 161.5 L51.8 161.3 L51.3 161.1 L50.8 161.5 L50.3 161.3 L49.8 161.1 L49.3 160.9Z" fill="#56987c" stroke="none" shape-rendering="crispEdges"/>
<path d="M49.3 170.5 L49.8 170.8 L50.3 171.1 L50.8 171.4 L51.3 171.7 L51.8 171.9 L52.3 170.8 L52.8 171.1 L53.3 172.1 L53.8 172.3 L54.3 172.6 L54.8 172.9 L55.3 173.2 L55.8 173.5 L56.3 173.8 L56.8 174.1 L57.3 174.4 L57.8 174.6 L58.3 174.8 L58.8 175.1 L59.3 175.4 L59.8 175.7 L60.3 176.0 L60.8 176.3 L61.3 177.8 L61.8 178.1 L62.3 178.4 L62.8 178.6 L63.3 177.5 L63.8 177.7 L64.3 179.1 L64.8 179.4 L65.3 179.2 L65.8 179.3 L66.3 179.6 L66.8 179.9 L67.3 180.1 L67.8 179.3 L68.3 179.9 L68.8 180.1 L69.3 180.4 L69.8 179.9 L70.3 180.2 L70.8 180.6 L71.3 180.8 L71.8 183.1 L72.3 183.3 L72.8 183.4 L73.3 183.7 L73.8 184.0 L74.3 184.2 L74.8 184.5 L75.3 184.3 L75.8 185.4 L76.3 185.6 L76.8 185.9 L77.3 187.0 L77.8 187.6 L78.3 187.9 L78.8 188.1 L79.3 188.4 L79.8 186.6 L80.3 186.9 L80.8 187.2 L81.3 187.4 L81.8 188.0 L82.3 188.3 L82.8 188.5 L83.3 188.7 L83.8 189.5 L84.3 189.5 L84.8 189.8 L85.3 190.0 L85.8 189.9 L86.3 190.2 L86.8 190.7 L87.3 191.1 L87.8 191.4 L88.3 191.7 L88.8 192.3 L89.3 192.5 L89.8 192.2 L90.3 193.0 L90.8 193.3 L91.3 193.6 L91.8 193.4 L92.3 193.7 L92.8 194.0 L93.3 193.6 L93.8 193.9 L94.3 195.0 L94.8 195.3 L95.3 195.6 L95.8 195.7 L96.3 196.2 L96.8 195.4 L97.3 195.7 L97.8 195.6 L98.3 196.0 L98.8 196.0 L99.3 197.5 L99.8 197.8 L100.3 198.7 L100.8 198.5 L101.3 199.3 L101.8 199.6 L102.3 200.0 L102.8 200.7 L103.3 199.9 L103.8 200.3 L104.3 200.5 L104.8 201.5 L105.3 201.8 L105.8 201.8 L106.3 202.2 L106.8 202.9 L107.3 203.5 L107.8 203.3 L108.3 203.7 L108.8 204.8 L109.3 205.1 L109.8 205.4 L110.3 206.1 L110.8 206.3 L111.3 206.6 L111.8 205.9 L112.3 206.2 L112.8 207.2 L113.3 207.9 L113.8 208.2 L114.3 208.0 L114.8 208.7 L115.3 209.0 L115.8 209.0 L116.3 209.3 L116.8 209.6 L117.3 209.8 L117.8 210.2 L118.3 210.1 L118.8 210.5 L119.3 211.1 L119.8 211.4 L120.3 211.6 L120.8 211.9 L121.3 212.3 L121.8 213.3 L122.3 212.7 L122.8 213.1 L123.3 214.4 L123.8 213.7 L124.3 214.1 L124.8 214.4 L125.3 215.2 L125.8 215.5 L126.3 215.8 L126.8 215.5 L127.3 216.1 L127.8 216.4 L128.3 217.2 L128.8 217.5 L129.3 218.2 L129.8 218.5 L130.3 218.1 L130.8 218.5 L131.3 219.8 L131.8 220.1 L132.3 220.3 L132.8 220.6 L133.3 220.8 L133.8 221.2 L134.3 221.1 L134.8 221.5 L135.3 221.9 L135.8 222.8 L136.3 222.4 L136.8 222.8 L137.3 223.3 L137.8 223.6 L138.3 224.0 L138.8 224.7 L139.3 224.9 L139.8 225.4 L140.3 225.9 L140.8 225.9 L141.3 226.2 L141.8 226.6 L142.3 227.0 L142.8 227.4 L143.3 228.4 L143.8 228.7 L144.3 228.2 L144.8 228.5 L145.3 228.8 L145.8 230.0 L146.3 230.4 L146.8 228.4 L147.3 228.7 L147.8 228.9 L148.3 230.5 L148.8 231.4 L149.3 231.2 L149.8 231.5 L150.3 232.7 L150.8 233.0 L151.3 232.4 L151.8 233.2 L152.3 234.1 L152.8 234.4 L153.3 234.1 L153.8 234.4 L154.3 233.5 L154.8 233.7 L155.3 234.0 L155.8 234.9 L156.3 235.2 L156.8 236.4 L157.3 236.1 L157.8 236.4 L158.3 237.5 L158.8 237.8 L159.3 237.2 L159.8 237.5 L160.3 237.8 L160.8 239.0 L161.3 239.3 L161.8 238.7 L162.3 239.0 L162.8 239.3 L163.3 239.6 L163.8 239.9 L164.3 240.2 L164.8 240.5 L165.3 240.4 L165.8 240.7 L166.3 241.5 L166.8 241.8 L167.3 242.2 L167.8 242.2 L168.3 242.5 L168.8 243.5 L169.3 243.6 L169.8 244.0 L170.3 244.2 L170.8 243.5 L171.3 243.8 L171.8 245.6 L172.3 245.8 L172.8 246.0 L173.3 246.2 L173.8 246.6 L174.3 246.5 L174.8 246.9 L175.3 247.0 L175.8 247.4 L176.3 247.8 L176.8 248.1 L177.3 248.7 L177.8 247.8 L178.3 247.7 L178.8 248.0 L179.3 250.8 L179.8 251.1 L180.3 250.5 L180.8 250.4 L181.3 250.7 L181.8 251.3 L182.3 251.6 L182.8 251.9 L183.3 252.2 L183.8 252.5 L184.3 252.8 L184.8 252.8 L185.3 253.3 L185.8 253.7 L186.3 254.1 L186.8 254.4 L187.3 255.1 L187.8 255.2 L188.3 255.3 L188.8 255.5 L189.3 255.8 L189.8 256.3 L190.3 256.8 L190.8 257.1 L191.3 256.5 L191.8 256.7 L192.3 257.1 L192.8 257.9 L193.3 257.5 L193.8 258.4 L194.3 258.6 L194.8 258.8 L195.3 259.0 L195.8 259.2 L196.3 258.8 L196.8 259.0 L197.3 259.5 L197.8 259.3 L198.3 259.0 L198.8 259.2 L199.3 259.6 L199.8 259.3 L200.3 259.5 L200.8 259.0 L201.3 259.2 L201.8 259.3 L202.3 260.6 L202.8 260.8 L203.3 260.9 L203.8 261.3 L204.3 261.8 L204.8 261.6 L205.3 261.8 L205.8 261.9 L206.3 261.0 L206.8 261.1 L207.3 260.9 L207.8 262.2 L208.3 262.4 L208.8 262.5 L209.3 263.1 L209.8 263.2 L210.3 263.2 L210.8 263.3 L211.3 263.4 L211.8 262.7 L212.3 262.7 L212.8 262.8 L213.3 263.2 L213.8 263.3 L214.3 263.5 L214.8 263.6 L215.3 263.8 L215.8 263.9 L216.3 263.8 L216.8 263.2 L217.3 263.2 L217.8 263.3 L218.3 264.3 L218.8 265.3 L219.3 265.4 L219.8 264.7 L220.3 264.8 L220.8 264.8 L221.3 264.8 L221.8 264.8 L222.3 264.9 L222.8 265.2 L223.3 265.3 L223.8 265.1 L224.3 265.1 L224.8 265.5 L225.3 265.6 L225.8 265.3 L226.3 265.6 L226.8 265.1 L227.3 265.9 L227.8 265.7 L228.3 265.8 L228.8 265.6 L229.3 265.7 L229.8 265.8 L230.3 264.9 L230.8 264.9 L231.3 264.9 L231.8 264.9 L232.3 265.3 L232.8 266.1 L233.3 266.2 L233.8 266.2 L234.3 267.2 L234.8 267.3 L235.3 266.5 L235.8 265.9 L236.3 266.5 L236.8 266.0 L237.3 266.0 L237.8 266.0 L238.3 265.9 L238.8 265.8 L239.3 266.3 L239.8 266.9 L240.3 266.9 L240.8 267.6 L241.3 267.6 L241.8 266.2 L242.3 266.2 L242.8 266.5 L243.3 267.0 L243.8 266.9 L244.3 266.9 L244.8 266.9 L245.3 266.9 L245.8 267.0 L246.3 267.1 L246.8 267.0 L247.3 266.8 L247.8 267.0 L248.3 267.0 L248.8 267.6 L249.3 266.3 L249.8 265.3 L250.3 265.4 L250.8 265.4 L251.3 266.0 L251.8 266.0 L252.3 266.1 L252.8 266.7 L253.3 266.7 L253.8 266.8 L254.3 266.9 L254.8 267.3 L255.3 267.3 L255.8 267.2 L256.3 267.6 L256.8 267.5 L257.3 266.9 L257.8 266.9 L258.3 266.9 L258.8 266.9 L259.3 268.2 L259.8 268.2 L260.3 267.2 L260.8 267.2 L261.3 267.2 L261.8 267.3 L262.3 267.6 L262.8 267.6 L263.3 267.7 L263.8 267.6 L264.3 267.6 L264.8 267.0 L265.3 267.0 L265.8 266.9 L266.3 266.9 L266.8 267.0 L267.3 267.0 L267.8 267.3 L268.3 265.4 L268.8 265.4 L269.3 265.3 L269.8 265.4 L270.3 266.8 L270.8 266.6 L271.3 266.6 L271.8 267.3 L272.3 267.5 L272.8 267.5 L273.3 267.2 L273.8 267.6 L274.3 267.6 L274.8 265.9 L275.3 265.9 L275.8 266.0 L276.3 266.0 L276.8 266.8 L277.3 266.8 L277.8 266.8 L278.3 266.9 L278.8 267.6 L279.3 267.5 L279.8 267.5 L280.3 267.5 L280.8 267.5 L281.3 267.6 L281.8 267.1 L282.3 267.6 L282.8 266.8 L283.3 266.8 L283.8 267.1 L284.3 267.0 L284.8 266.2 L285.3 266.2 L285.8 266.7 L286.3 266.7 L286.8 266.3 L287.3 266.3 L287.8 266.4 L288.3 266.4 L288.8 265.9 L289.3 266.0 L289.8 266.1 L290.3 266.8 L290.8 267.2 L291.3 267.2 L291.8 267.8 L292.3 267.3 L292.8 267.2 L293.3 267.2 L293.8 267.7 L294.3 265.9 L294.8 265.7 L295.3 266.6 L295.8 266.6 L296.3 266.3 L296.8 267.1 L297.3 267.2 L297.8 267.2 L298.3 267.4 L298.8 267.4 L299.3 267.2 L299.8 267.2 L300.3 267.2 L300.8 267.1 L301.3 267.1 L301.8 267.1 L302.3 267.4 L302.8 267.0 L303.3 267.0 L303.8 268.0 L304.3 267.6 L304.8 267.4 L305.3 267.4 L305.8 268.2 L306.3 268.2 L306.8 267.7 L307.3 267.7 L307.8 266.9 L308.3 266.9 L308.8 267.0 L309.3 267.0 L309.8 267.7 L310.3 267.7 L310.8 267.0 L311.3 267.6 L311.8 267.6 L312.3 266.7 L312.8 266.7 L313.3 267.0 L313.8 267.0 L314.3 266.4 L314.8 266.4 L315.3 267.1 L315.8 267.1 L316.3 266.7 L316.8 266.6 L317.3 266.4 L317.8 266.4 L318.3 268.2 L318.8 268.2 L319.3 267.7 L319.8 266.7 L320.3 266.7 L320.8 266.7 L321.3 266.7 L321.8 266.9 L322.3 267.3 L322.8 267.2 L323.3 267.2 L323.8 267.4 L324.3 267.4 L324.8 268.0 L325.3 268.0 L325.8 267.7 L326.3 267.7 L326.3 271.7 L325.8 271.7 L325.3 272.0 L324.8 272.0 L324.3 272.2 L323.8 272.2 L323.3 272.1 L322.8 272.1 L322.3 272.6 L321.8 272.6 L321.3 272.5 L320.8 271.4 L320.3 271.6 L319.8 271.6 L319.3 271.6 L318.8 272.8 L318.3 272.8 L317.8 272.4 L317.3 272.4 L316.8 272.6 L316.3 272.3 L315.8 272.6 L315.3 272.4 L314.8 271.7 L314.3 271.7 L313.8 271.9 L313.3 271.9 L312.8 272.3 L312.3 272.3 L311.8 272.7 L311.3 272.1 L310.8 271.5 L310.3 272.2 L309.8 272.0 L309.3 272.0 L308.8 272.0 L308.3 272.6 L307.8 272.6 L307.3 272.6 L306.8 272.6 L306.3 272.5 L305.8 272.5 L305.3 272.4 L304.8 272.4 L304.3 273.3 L303.8 273.3 L303.3 271.3 L302.8 271.3 L302.3 271.6 L301.8 271.6 L301.3 271.6 L300.8 272.0 L300.3 272.0 L299.8 272.0 L299.3 272.0 L298.8 271.9 L298.3 271.9 L297.8 271.7 L297.3 271.7 L296.8 271.6 L296.3 271.7 L295.8 271.9 L295.3 271.9 L294.8 271.9 L294.3 272.2 L293.8 272.2 L293.3 271.8 L292.8 271.8 L292.3 271.8 L291.8 272.3 L291.3 272.9 L290.8 272.9 L290.3 272.5 L289.8 272.5 L289.3 271.6 L288.8 271.6 L288.3 272.0 L287.8 272.0 L287.3 272.2 L286.8 272.2 L286.3 271.9 L285.8 271.9 L285.3 272.1 L284.8 272.1 L284.3 272.9 L283.8 272.9 L283.3 272.3 L282.8 272.3 L282.3 272.3 L281.8 271.8 L281.3 271.5 L280.8 271.5 L280.3 271.5 L279.8 272.0 L279.3 272.0 L278.8 272.1 L278.3 271.6 L277.8 271.5 L277.3 271.5 L276.8 272.4 L276.3 272.5 L275.8 272.5 L275.3 271.4 L274.8 271.4 L274.3 273.2 L273.8 273.2 L273.3 272.8 L272.8 273.0 L272.3 272.0 L271.8 272.0 L271.3 271.3 L270.8 271.3 L270.3 271.5 L269.8 271.8 L269.3 271.7 L268.8 271.8 L268.3 272.1 L267.8 272.1 L267.3 271.8 L266.8 271.4 L266.3 271.6 L265.8 271.6 L265.3 272.8 L264.8 272.8 L264.3 272.9 L263.8 272.2 L263.3 272.2 L262.8 272.1 L262.3 272.5 L261.8 272.1 L261.3 272.1 L260.8 272.1 L260.3 271.0 L259.8 272.0 L259.3 272.0 L258.8 271.4 L258.3 271.3 L257.8 271.7 L257.3 271.8 L256.8 271.8 L256.3 271.8 L255.8 271.8 L255.3 271.9 L254.8 271.5 L254.3 271.0 L253.8 271.0 L253.3 270.9 L252.8 270.9 L252.3 270.8 L251.8 271.0 L251.3 271.0 L250.8 271.1 L250.3 271.1 L249.8 271.1 L249.3 272.3 L248.8 272.3 L248.3 271.7 L247.8 271.3 L247.3 271.1 L246.8 271.1 L246.3 270.9 L245.8 270.7 L245.3 270.7 L244.8 270.7 L244.3 271.8 L243.8 271.8 L243.3 271.0 L242.8 271.0 L242.3 270.7 L241.8 270.7 L241.3 271.8 L240.8 271.8 L240.3 272.2 L239.8 272.1 L239.3 272.4 L238.8 273.1 L238.3 273.3 L237.8 272.7 L237.3 272.7 L236.8 272.6 L236.3 271.8 L235.8 271.2 L235.3 270.8 L234.8 271.6 L234.3 271.6 L233.8 270.4 L233.3 270.4 L232.8 270.3 L232.3 270.3 L231.8 270.5 L231.3 270.4 L230.8 270.5 L230.3 270.5 L229.8 270.3 L229.3 270.2 L228.8 270.2 L228.3 270.2 L227.8 271.3 L227.3 271.7 L226.8 271.1 L226.3 271.0 L225.8 270.8 L225.3 271.1 L224.8 270.7 L224.3 270.6 L223.8 270.6 L223.3 271.2 L222.8 271.1 L222.3 270.8 L221.8 269.0 L221.3 268.5 L220.8 268.4 L220.3 268.9 L219.8 268.8 L219.3 269.5 L218.8 269.4 L218.3 269.3 L217.8 268.4 L217.3 268.3 L216.8 268.2 L216.3 268.1 L215.8 268.2 L215.3 268.1 L214.8 269.1 L214.3 269.0 L213.8 268.8 L213.3 268.4 L212.8 268.0 L212.3 267.9 L211.8 267.8 L211.3 267.7 L210.8 267.4 L210.3 267.3 L209.8 267.3 L209.3 267.2 L208.8 266.9 L208.3 266.8 L207.8 267.0 L207.3 266.3 L206.8 266.6 L206.3 266.5 L205.8 266.2 L205.3 266.1 L204.8 266.0 L204.3 266.1 L203.8 265.9 L203.3 266.2 L202.8 266.0 L202.3 265.9 L201.8 265.5 L201.3 264.5 L200.8 264.4 L200.3 264.8 L199.8 264.7 L199.3 264.1 L198.8 263.8 L198.3 263.6 L197.8 263.4 L197.3 263.6 L196.8 263.2 L196.3 263.0 L195.8 264.9 L195.3 264.7 L194.8 264.6 L194.3 263.7 L193.8 263.5 L193.3 262.9 L192.8 262.1 L192.3 261.9 L191.8 261.6 L191.3 261.3 L190.8 261.0 L190.3 261.0 L189.8 260.5 L189.3 260.3 L188.8 260.0 L188.3 259.8 L187.8 261.2 L187.3 260.9 L186.8 259.6 L186.3 259.4 L185.8 259.0 L185.3 258.6 L184.8 258.3 L184.3 258.6 L183.8 258.3 L183.3 258.3 L182.8 258.0 L182.3 257.1 L181.8 256.8 L181.3 256.1 L180.8 255.8 L180.3 255.9 L179.8 255.8 L179.3 255.5 L178.8 254.9 L178.3 254.6 L177.8 254.7 L177.3 254.3 L176.8 253.7 L176.3 252.9 L175.8 252.5 L175.3 252.0 L174.8 251.8 L174.3 251.5 L173.8 250.8 L173.3 250.1 L172.8 249.9 L172.3 249.6 L171.8 249.4 L171.3 248.9 L170.8 248.6 L170.3 249.0 L169.8 248.8 L169.3 248.4 L168.8 248.3 L168.3 246.6 L167.8 246.3 L167.3 246.8 L166.8 246.5 L166.3 246.2 L165.8 246.0 L165.3 245.7 L164.8 245.7 L164.3 245.0 L163.8 244.7 L163.3 243.7 L162.8 243.4 L162.3 243.1 L161.8 242.7 L161.3 243.2 L160.8 242.9 L160.3 242.0 L159.8 241.7 L159.3 241.5 L158.8 242.1 L158.3 241.8 L157.8 240.5 L157.3 240.4 L156.8 240.6 L156.3 240.3 L155.8 240.0 L155.3 239.1 L154.8 238.8 L154.3 238.6 L153.8 238.8 L153.3 238.5 L152.8 238.7 L152.3 238.4 L151.8 237.4 L151.3 237.1 L150.8 237.8 L150.3 238.1 L149.8 236.9 L149.3 236.6 L148.8 236.2 L148.3 235.9 L147.8 234.3 L147.3 234.0 L146.8 233.7 L146.3 234.8 L145.8 234.5 L145.3 233.3 L144.8 233.0 L144.3 232.6 L143.8 233.6 L143.3 233.2 L142.8 232.5 L142.3 232.1 L141.8 231.9 L141.3 231.5 L140.8 231.2 L140.3 230.8 L139.8 230.3 L139.3 230.0 L138.8 229.7 L138.3 229.6 L137.8 228.8 L137.3 228.4 L136.8 227.9 L136.3 227.2 L135.8 226.9 L135.3 226.0 L134.8 225.5 L134.3 225.1 L133.8 225.2 L133.3 224.8 L132.8 224.6 L132.3 225.6 L131.8 225.5 L131.3 224.8 L130.8 223.9 L130.3 223.6 L129.8 223.9 L129.3 223.7 L128.8 223.0 L128.3 222.7 L127.8 222.4 L127.3 221.4 L126.8 220.8 L126.3 220.4 L125.8 220.1 L125.3 219.9 L124.8 218.6 L124.3 218.3 L123.8 218.0 L123.3 219.4 L122.8 218.4 L122.3 218.1 L121.8 218.7 L121.3 218.3 L120.8 217.8 L120.3 217.4 L119.8 216.8 L119.3 216.5 L118.8 215.9 L118.3 215.6 L117.8 215.0 L117.3 214.1 L116.8 214.1 L116.3 213.8 L115.8 213.5 L115.3 213.4 L114.8 214.5 L114.3 213.8 L113.8 213.7 L113.3 213.4 L112.8 212.4 L112.3 211.5 L111.8 210.4 L111.3 211.1 L110.8 210.8 L110.3 210.4 L109.8 210.6 L109.3 210.3 L108.8 210.4 L108.3 209.3 L107.8 208.3 L107.3 208.5 L106.8 207.5 L106.3 206.8 L105.8 206.5 L105.3 206.3 L104.8 206.0 L104.3 205.0 L103.8 205.2 L103.3 204.8 L102.8 205.6 L102.3 205.3 L101.8 205.0 L101.3 204.7 L100.8 204.6 L100.3 204.3 L99.8 203.4 L99.3 202.2 L98.8 201.9 L98.3 201.8 L97.8 201.5 L97.3 201.6 L96.8 201.3 L96.3 201.0 L95.8 200.7 L95.3 200.2 L94.8 201.2 L94.3 200.9 L93.8 200.4 L93.3 200.1 L92.8 200.5 L92.3 200.0 L91.8 199.7 L91.3 199.6 L90.8 199.3 L90.3 199.0 L89.8 197.5 L89.3 197.2 L88.8 196.5 L88.3 195.9 L87.8 195.7 L87.3 195.4 L86.8 196.7 L86.3 196.2 L85.8 195.9 L85.3 196.3 L84.8 196.1 L84.3 194.3 L83.8 194.1 L83.3 193.3 L82.8 193.0 L82.3 193.1 L81.8 192.9 L81.3 191.9 L80.8 191.7 L80.3 192.2 L79.8 191.9 L79.3 193.6 L78.8 194.5 L78.3 194.3 L77.8 194.1 L77.3 193.4 L76.8 192.2 L76.3 192.0 L75.8 191.0 L75.3 189.9 L74.8 189.6 L74.3 189.4 L73.8 189.1 L73.3 189.1 L72.8 188.8 L72.3 188.7 L71.8 188.1 L71.3 187.9 L70.8 187.6 L70.3 189.3 L69.8 189.1 L69.3 188.8 L68.8 188.6 L68.3 186.6 L67.8 186.0 L67.3 185.8 L66.8 185.5 L66.3 185.4 L65.8 185.1 L65.3 184.1 L64.8 184.6 L64.3 184.4 L63.8 184.1 L63.3 185.4 L62.8 185.2 L62.3 184.9 L61.8 184.7 L61.3 184.4 L60.8 181.9 L60.3 181.6 L59.8 181.4 L59.3 181.1 L58.8 180.4 L58.3 180.1 L57.8 181.2 L57.3 180.9 L56.8 180.7 L56.3 180.6 L55.8 180.3 L55.3 180.1 L54.8 178.8 L54.3 178.6 L53.8 178.3 L53.3 178.1 L52.8 180.2 L52.3 179.9 L51.8 179.7 L51.3 179.5 L50.8 176.7 L50.3 176.5 L49.8 176.2 L49.3 175.9Z" fill="#f0913f" stroke="none" shape-rendering="crispEdges"/>
<path d="M49.3 254.3 L49.8 253.7 L50.3 253.2 L50.8 252.0 L51.3 251.4 L51.8 250.7 L52.3 250.2 L52.8 249.5 L53.3 248.9 L53.8 248.3 L54.3 248.1 L54.8 247.5 L55.3 249.2 L55.8 248.5 L56.3 247.9 L56.8 247.8 L57.3 247.1 L57.8 247.0 L58.3 246.4 L58.8 245.8 L59.3 245.1 L59.8 238.7 L60.3 238.2 L60.8 237.7 L61.3 237.4 L61.8 236.9 L62.3 236.1 L62.8 235.8 L63.3 238.5 L63.8 238.1 L64.3 237.8 L64.8 239.0 L65.3 238.7 L65.8 238.6 L66.3 238.5 L66.8 238.4 L67.3 238.4 L67.8 238.4 L68.3 238.5 L68.8 239.1 L69.3 236.9 L69.8 237.1 L70.3 237.3 L70.8 237.5 L71.3 235.0 L71.8 235.8 L72.3 236.0 L72.8 236.3 L73.3 236.5 L73.8 238.8 L74.3 240.4 L74.8 240.7 L75.3 240.4 L75.8 240.6 L76.3 242.4 L76.8 242.6 L77.3 242.3 L77.8 242.5 L78.3 241.1 L78.8 241.3 L79.3 241.5 L79.8 241.7 L80.3 243.0 L80.8 241.6 L81.3 242.9 L81.8 243.1 L82.3 243.3 L82.8 244.3 L83.3 244.4 L83.8 243.3 L84.3 243.5 L84.8 242.3 L85.3 241.7 L85.8 241.8 L86.3 244.3 L86.8 244.4 L87.3 242.8 L87.8 244.3 L88.3 245.8 L88.8 245.8 L89.3 245.9 L89.8 243.4 L90.3 243.5 L90.8 243.5 L91.3 245.3 L91.8 245.4 L92.3 243.5 L92.8 243.5 L93.3 241.9 L93.8 241.9 L94.3 241.9 L94.8 245.2 L95.3 245.2 L95.8 244.1 L96.3 245.6 L96.8 245.3 L97.3 245.2 L97.8 245.2 L98.3 245.2 L98.8 242.0 L99.3 242.0 L99.8 244.6 L100.3 244.6 L100.8 244.4 L101.3 244.4 L101.8 242.6 L102.3 242.6 L102.8 242.7 L103.3 244.2 L103.8 246.1 L104.3 246.0 L104.8 246.0 L105.3 245.4 L105.8 245.7 L106.3 244.6 L106.8 244.6 L107.3 242.3 L107.8 242.3 L108.3 243.8 L108.8 245.1 L109.3 245.5 L109.8 245.5 L110.3 245.4 L110.8 245.0 L111.3 245.2 L111.8 244.8 L112.3 245.2 L112.8 244.6 L113.3 244.0 L113.8 244.1 L114.3 244.0 L114.8 243.5 L115.3 243.5 L115.8 244.2 L116.3 244.2 L116.8 243.7 L117.3 244.0 L117.8 244.0 L118.3 243.5 L118.8 243.5 L119.3 244.4 L119.8 244.4 L120.3 243.7 L120.8 241.0 L121.3 241.0 L121.8 241.0 L122.3 240.2 L122.8 243.9 L123.3 243.9 L123.8 244.6 L124.3 244.9 L124.8 244.7 L125.3 244.6 L125.8 244.7 L126.3 244.6 L126.8 244.5 L127.3 244.5 L127.8 244.6 L128.3 244.7 L128.8 244.8 L129.3 242.0 L129.8 241.6 L130.3 244.7 L130.8 244.6 L131.3 243.6 L131.8 245.7 L132.3 245.6 L132.8 243.7 L133.3 243.3 L133.8 243.5 L134.3 243.4 L134.8 244.1 L135.3 244.1 L135.8 242.7 L136.3 243.3 L136.8 244.4 L137.3 244.4 L137.8 242.7 L138.3 242.2 L138.8 242.4 L139.3 242.4 L139.8 243.6 L140.3 243.1 L140.8 243.1 L141.3 243.2 L141.8 243.2 L142.3 243.0 L142.8 243.2 L143.3 243.1 L143.8 243.0 L144.3 242.9 L144.8 242.8 L145.3 242.3 L145.8 242.2 L146.3 242.9 L146.8 242.8 L147.3 242.1 L147.8 242.3 L148.3 242.2 L148.8 242.1 L149.3 241.7 L149.8 239.9 L150.3 240.0 L150.8 239.9 L151.3 241.0 L151.8 240.6 L152.3 240.6 L152.8 241.3 L153.3 241.4 L153.8 241.2 L154.3 241.2 L154.8 241.2 L155.3 241.2 L155.8 240.1 L156.3 239.4 L156.8 239.7 L157.3 240.5 L157.8 240.3 L158.3 240.3 L158.8 240.9 L159.3 241.8 L159.8 240.7 L160.3 240.6 L160.8 240.1 L161.3 240.0 L161.8 240.4 L162.3 241.5 L162.8 241.4 L163.3 240.9 L163.8 240.1 L164.3 239.2 L164.8 239.1 L165.3 238.9 L165.8 238.9 L166.3 237.3 L166.8 237.2 L167.3 237.0 L167.8 236.8 L168.3 235.4 L168.8 239.0 L169.3 238.8 L169.8 238.7 L170.3 238.1 L170.8 238.0 L171.3 238.1 L171.8 237.5 L172.3 236.8 L172.8 238.1 L173.3 237.9 L173.8 237.8 L174.3 237.4 L174.8 237.2 L175.3 237.5 L175.8 237.5 L176.3 236.9 L176.8 236.7 L177.3 236.5 L177.8 236.8 L178.3 236.6 L178.8 236.4 L179.3 235.9 L179.8 236.0 L180.3 235.7 L180.8 235.4 L181.3 235.4 L181.8 234.4 L182.3 234.3 L182.8 235.4 L183.3 235.2 L183.8 235.1 L184.3 234.2 L184.8 233.6 L185.3 233.4 L185.8 233.0 L186.3 232.8 L186.8 232.2 L187.3 232.0 L187.8 231.9 L188.3 231.7 L188.8 231.3 L189.3 231.1 L189.8 231.5 L190.3 231.3 L190.8 231.4 L191.3 230.9 L191.8 230.2 L192.3 230.0 L192.8 229.3 L193.3 229.1 L193.8 230.7 L194.3 229.8 L194.8 228.8 L195.3 228.6 L195.8 227.9 L196.3 227.7 L196.8 227.4 L197.3 226.4 L197.8 227.0 L198.3 229.0 L198.8 229.3 L199.3 229.1 L199.8 227.5 L200.3 227.3 L200.8 227.0 L201.3 226.8 L201.8 226.7 L202.3 225.3 L202.8 224.9 L203.3 224.6 L203.8 224.5 L204.3 225.0 L204.8 225.1 L205.3 224.8 L205.8 224.6 L206.3 223.9 L206.8 223.5 L207.3 223.9 L207.8 223.7 L208.3 222.7 L208.8 222.5 L209.3 222.9 L209.8 222.7 L210.3 223.0 L210.8 222.8 L211.3 222.3 L211.8 222.0 L212.3 222.1 L212.8 221.9 L213.3 221.7 L213.8 220.2 L214.3 220.9 L214.8 220.7 L215.3 219.5 L215.8 220.4 L216.3 221.1 L216.8 220.9 L217.3 220.7 L217.8 220.1 L218.3 219.4 L218.8 219.3 L219.3 219.1 L219.8 220.0 L220.3 219.9 L220.8 218.1 L221.3 217.4 L221.8 218.3 L222.3 218.2 L222.8 219.0 L223.3 218.8 L223.8 218.2 L224.3 218.0 L224.8 218.2 L225.3 218.3 L225.8 218.2 L226.3 217.6 L226.8 217.4 L227.3 217.4 L227.8 217.3 L228.3 217.7 L228.8 217.6 L229.3 216.4 L229.8 216.3 L230.3 216.2 L230.8 215.7 L231.3 216.5 L231.8 217.1 L232.3 216.6 L232.8 216.2 L233.3 216.2 L233.8 215.9 L234.3 216.3 L234.8 216.0 L235.3 215.4 L235.8 215.3 L236.3 215.2 L236.8 215.4 L237.3 215.4 L237.8 215.4 L238.3 216.2 L238.8 216.2 L239.3 216.2 L239.8 215.7 L240.3 215.2 L240.8 215.4 L241.3 216.6 L241.8 216.8 L242.3 216.4 L242.8 216.4 L243.3 215.5 L243.8 215.5 L244.3 215.6 L244.8 215.7 L245.3 216.3 L245.8 215.3 L246.3 215.3 L246.8 216.3 L247.3 216.3 L247.8 216.6 L248.3 215.9 L248.8 216.6 L249.3 216.7 L249.8 216.3 L250.3 216.4 L250.8 217.4 L251.3 217.4 L251.8 216.9 L252.3 217.7 L252.8 217.8 L253.3 217.9 L253.8 218.7 L254.3 218.8 L254.8 218.7 L255.3 218.8 L255.8 218.0 L256.3 218.1 L256.8 217.3 L257.3 217.4 L257.8 217.6 L258.3 216.7 L258.8 216.9 L259.3 216.8 L259.8 217.0 L260.3 217.5 L260.8 219.8 L261.3 219.4 L261.8 219.5 L262.3 219.2 L262.8 219.8 L263.3 219.0 L263.8 219.4 L264.3 220.7 L264.8 220.8 L265.3 221.3 L265.8 221.4 L266.3 221.6 L266.8 221.8 L267.3 221.9 L267.8 222.1 L268.3 221.9 L268.8 221.9 L269.3 222.0 L269.8 222.7 L270.3 222.8 L270.8 222.7 L271.3 222.9 L271.8 222.1 L272.3 222.3 L272.8 222.5 L273.3 222.7 L273.8 224.2 L274.3 224.4 L274.8 224.9 L275.3 225.1 L275.8 225.2 L276.3 225.5 L276.8 225.7 L277.3 224.4 L277.8 224.6 L278.3 225.2 L278.8 224.5 L279.3 224.8 L279.8 226.4 L280.3 227.0 L280.8 227.2 L281.3 227.9 L281.8 227.0 L282.3 227.3 L282.8 227.6 L283.3 228.0 L283.8 228.9 L284.3 229.4 L284.8 229.8 L285.3 231.1 L285.8 231.5 L286.3 231.1 L286.8 231.4 L287.3 231.8 L287.8 231.4 L288.3 231.2 L288.8 232.0 L289.3 232.5 L289.8 233.3 L290.3 233.8 L290.8 234.3 L291.3 234.8 L291.8 233.1 L292.3 233.7 L292.8 235.0 L293.3 236.2 L293.8 236.7 L294.3 237.7 L294.8 238.3 L295.3 237.0 L295.8 237.5 L296.3 238.9 L296.8 241.0 L297.3 241.6 L297.8 242.2 L298.3 243.7 L298.8 244.3 L299.3 243.3 L299.8 243.9 L300.3 244.4 L300.8 245.0 L301.3 245.7 L301.8 246.3 L302.3 246.9 L302.8 248.1 L303.3 248.7 L303.8 249.6 L304.3 250.3 L304.8 250.4 L305.3 250.9 L305.8 251.5 L306.3 252.7 L306.8 253.5 L307.3 253.1 L307.8 253.6 L308.3 253.8 L308.8 252.9 L309.3 253.7 L309.8 254.2 L310.3 254.5 L310.8 256.8 L311.3 257.3 L311.8 257.6 L312.3 258.0 L312.8 259.3 L313.3 259.6 L313.8 259.8 L314.3 259.6 L314.8 260.0 L315.3 260.4 L315.8 260.5 L316.3 260.8 L316.8 261.7 L317.3 262.6 L317.8 261.6 L318.3 260.6 L318.8 261.2 L319.3 261.4 L319.8 263.1 L320.3 264.0 L320.8 264.2 L321.3 264.5 L321.8 264.7 L322.3 262.3 L322.8 262.6 L323.3 262.8 L323.8 262.9 L324.3 265.4 L324.8 265.6 L325.3 266.2 L325.8 266.4 L326.3 265.6 L326.3 275.4 L325.8 276.0 L325.3 275.9 L324.8 275.2 L324.3 275.1 L323.8 274.5 L323.3 274.3 L322.8 274.1 L322.3 273.1 L321.8 273.7 L321.3 274.1 L320.8 273.9 L320.3 273.6 L319.8 272.7 L319.3 272.5 L318.8 270.9 L318.3 270.3 L317.8 270.0 L317.3 271.0 L316.8 270.6 L316.3 270.8 L315.8 270.4 L315.3 268.7 L314.8 268.3 L314.3 268.3 L313.8 268.4 L313.3 268.3 L312.8 270.2 L312.3 268.9 L311.8 267.1 L311.3 266.8 L310.8 266.4 L310.3 265.7 L309.8 265.5 L309.3 265.0 L308.8 264.3 L308.3 263.8 L307.8 263.6 L307.3 263.6 L306.8 263.1 L306.3 261.6 L305.8 261.0 L305.3 260.5 L304.8 260.0 L304.3 259.9 L303.8 259.0 L303.3 258.1 L302.8 258.0 L302.3 256.7 L301.8 256.2 L301.3 256.0 L300.8 254.5 L300.3 253.9 L299.8 252.1 L299.3 251.5 L298.8 253.0 L298.3 252.4 L297.8 251.3 L297.3 250.8 L296.8 249.7 L296.3 249.2 L295.8 247.8 L295.3 247.3 L294.8 250.3 L294.3 249.8 L293.8 246.4 L293.3 245.9 L292.8 246.1 L292.3 245.1 L291.8 244.6 L291.3 244.5 L290.8 243.6 L290.3 243.1 L289.8 242.6 L289.3 242.1 L288.8 241.9 L288.3 241.0 L287.8 240.6 L287.3 241.0 L286.8 241.5 L286.3 240.5 L285.8 240.4 L285.3 240.0 L284.8 238.6 L284.3 238.3 L283.8 237.7 L283.3 237.4 L282.8 237.0 L282.3 236.7 L281.8 235.6 L281.3 236.1 L280.8 235.4 L280.3 239.1 L279.8 238.5 L279.3 238.2 L278.8 238.0 L278.3 236.1 L277.8 234.8 L277.3 234.5 L276.8 235.5 L276.3 234.1 L275.8 233.9 L275.3 233.8 L274.8 233.6 L274.3 233.2 L273.8 233.4 L273.3 232.6 L272.8 232.4 L272.3 232.2 L271.8 232.0 L271.3 231.6 L270.8 231.4 L270.3 231.6 L269.8 232.4 L269.3 231.8 L268.8 230.5 L268.3 230.5 L267.8 230.8 L267.3 230.6 L266.8 230.2 L266.3 230.3 L265.8 230.2 L265.3 229.7 L264.8 229.2 L264.3 229.1 L263.8 228.9 L263.3 228.5 L262.8 228.7 L262.3 228.1 L261.8 228.8 L261.3 228.7 L260.8 229.1 L260.3 229.0 L259.8 228.4 L259.3 227.6 L258.8 227.6 L258.3 227.5 L257.8 227.9 L257.3 227.8 L256.8 227.6 L256.3 227.2 L255.8 227.0 L255.3 227.8 L254.8 227.7 L254.3 227.1 L253.8 227.0 L253.3 226.2 L252.8 225.9 L252.3 225.8 L251.8 225.6 L251.3 226.1 L250.8 226.4 L250.3 225.4 L249.8 225.3 L249.3 225.9 L248.8 225.9 L248.3 225.9 L247.8 226.6 L247.3 226.5 L246.8 226.4 L246.3 225.0 L245.8 224.5 L245.3 225.5 L244.8 225.9 L244.3 225.8 L243.8 225.7 L243.3 225.7 L242.8 226.4 L242.3 226.4 L241.8 226.8 L241.3 226.3 L240.8 225.1 L240.3 225.1 L239.8 225.6 L239.3 226.2 L238.8 226.2 L238.3 224.9 L237.8 224.9 L237.3 224.9 L236.8 224.5 L236.3 224.2 L235.8 224.4 L235.3 224.4 L234.8 225.0 L234.3 225.8 L233.8 225.5 L233.3 226.0 L232.8 226.0 L232.3 226.4 L231.8 226.5 L231.3 225.9 L230.8 225.7 L230.3 226.2 L229.8 226.3 L229.3 226.5 L228.8 227.1 L228.3 228.7 L227.8 228.3 L227.3 228.4 L226.8 228.4 L226.3 226.9 L225.8 227.5 L225.3 227.6 L224.8 227.8 L224.3 227.5 L223.8 227.7 L223.3 229.0 L222.8 229.1 L222.3 229.3 L221.8 227.2 L221.3 226.3 L220.8 226.9 L220.3 228.6 L219.8 228.7 L219.3 228.1 L218.8 228.2 L218.3 228.9 L217.8 229.6 L217.3 228.8 L216.8 229.0 L216.3 229.1 L215.8 228.5 L215.3 228.9 L214.8 230.1 L214.3 230.3 L213.8 229.6 L213.3 229.6 L212.8 229.8 L212.3 230.0 L211.8 230.2 L211.3 230.4 L210.8 230.8 L210.3 231.1 L209.8 231.4 L209.3 231.7 L208.8 231.2 L208.3 231.7 L207.8 232.8 L207.3 233.0 L206.8 232.6 L206.3 233.6 L205.8 234.3 L205.3 234.5 L204.8 234.8 L204.3 233.8 L203.8 234.1 L203.3 234.2 L202.8 234.4 L202.3 236.3 L201.8 236.5 L201.3 236.6 L200.8 235.9 L200.3 236.2 L199.8 236.4 L199.3 237.4 L198.8 237.6 L198.3 236.9 L197.8 237.1 L197.3 236.4 L196.8 236.6 L196.3 236.9 L195.8 237.6 L195.3 238.3 L194.8 238.4 L194.3 238.6 L193.8 239.5 L193.3 237.8 L192.8 237.9 L192.3 238.6 L191.8 238.8 L191.3 240.3 L190.8 239.8 L190.3 239.7 L189.8 239.8 L189.3 239.1 L188.8 239.3 L188.3 240.7 L187.8 240.8 L187.3 240.4 L186.8 240.6 L186.3 241.1 L185.8 241.3 L185.3 242.0 L184.8 242.1 L184.3 242.2 L183.8 242.1 L183.3 242.3 L182.8 242.4 L182.3 241.2 L181.8 241.4 L181.3 242.2 L180.8 242.4 L180.3 242.7 L179.8 244.0 L179.3 243.9 L178.8 244.2 L178.3 244.3 L177.8 244.5 L177.3 244.7 L176.8 245.4 L176.3 245.6 L175.8 245.8 L175.3 246.0 L174.8 245.8 L174.3 245.9 L173.8 247.1 L173.3 245.7 L172.8 245.8 L172.3 245.7 L171.8 246.4 L171.3 246.5 L170.8 247.4 L170.3 247.5 L169.8 248.1 L169.3 245.9 L168.8 246.0 L168.3 245.2 L167.8 246.6 L167.3 247.3 L166.8 247.5 L166.3 247.6 L165.8 247.7 L165.3 247.8 L164.8 246.1 L164.3 246.2 L163.8 247.1 L163.3 247.2 L162.8 247.5 L162.3 247.6 L161.8 248.2 L161.3 248.3 L160.8 248.4 L160.3 248.5 L159.8 246.9 L159.3 248.1 L158.8 248.1 L158.3 247.5 L157.8 247.6 L157.3 248.4 L156.8 248.5 L156.3 248.2 L155.8 248.9 L155.3 248.9 L154.8 249.0 L154.3 248.6 L153.8 248.7 L153.3 248.9 L152.8 248.9 L152.3 250.3 L151.8 250.4 L151.3 250.8 L150.8 248.9 L150.3 248.9 L149.8 248.5 L149.3 248.5 L148.8 249.6 L148.3 249.7 L147.8 250.4 L147.3 250.7 L146.8 251.4 L146.3 251.5 L145.8 250.5 L145.3 250.0 L144.8 250.5 L144.3 250.6 L143.8 251.7 L143.3 252.0 L142.8 252.1 L142.3 251.9 L141.8 250.1 L141.3 250.2 L140.8 250.0 L140.3 250.2 L139.8 250.8 L139.3 251.9 L138.8 251.9 L138.3 251.7 L137.8 251.3 L137.3 251.3 L136.8 251.4 L136.3 250.2 L135.8 250.2 L135.3 251.6 L134.8 251.6 L134.3 251.0 L133.8 251.1 L133.3 251.7 L132.8 252.2 L132.3 252.2 L131.8 251.7 L131.3 249.6 L130.8 250.7 L130.3 250.5 L129.8 250.6 L129.3 251.0 L128.8 251.0 L128.3 250.9 L127.8 251.4 L127.3 251.5 L126.8 251.5 L126.3 251.6 L125.8 251.1 L125.3 251.3 L124.8 251.4 L124.3 251.6 L123.8 251.6 L123.3 250.9 L122.8 250.9 L122.3 250.2 L121.8 251.0 L121.3 251.0 L120.8 251.0 L120.3 251.4 L119.8 252.2 L119.3 252.2 L118.8 251.2 L118.3 252.6 L117.8 252.5 L117.3 251.9 L116.8 251.9 L116.3 252.4 L115.8 252.4 L115.3 251.7 L114.8 251.6 L114.3 252.0 L113.8 252.0 L113.3 251.9 L112.8 252.0 L112.3 253.8 L111.8 253.4 L111.3 253.4 L110.8 251.8 L110.3 252.2 L109.8 252.4 L109.3 252.4 L108.8 252.5 L108.3 252.5 L107.8 251.0 L107.3 251.0 L106.8 253.3 L106.3 256.4 L105.8 256.4 L105.3 256.2 L104.8 256.6 L104.3 256.6 L103.8 254.1 L103.3 254.1 L102.8 252.5 L102.3 252.6 L101.8 251.3 L101.3 252.0 L100.8 251.3 L100.3 251.5 L99.8 251.5 L99.3 252.3 L98.8 252.5 L98.3 251.3 L97.8 251.3 L97.3 251.3 L96.8 251.3 L96.3 252.2 L95.8 252.2 L95.3 253.2 L94.8 253.2 L94.3 251.8 L93.8 252.6 L93.3 252.6 L92.8 254.2 L92.3 254.3 L91.8 251.4 L91.3 251.4 L90.8 251.5 L90.3 251.5 L89.8 251.5 L89.3 253.0 L88.8 252.9 L88.3 252.9 L87.8 251.5 L87.3 251.5 L86.8 253.0 L86.3 252.9 L85.8 250.5 L85.3 253.3 L84.8 253.2 L84.3 254.5 L83.8 254.4 L83.3 254.4 L82.8 252.2 L82.3 251.3 L81.8 251.3 L81.3 251.2 L80.8 252.1 L80.3 253.6 L79.8 253.6 L79.3 253.6 L78.8 252.3 L78.3 252.4 L77.8 252.3 L77.3 252.3 L76.8 252.4 L76.3 252.3 L75.8 251.5 L75.3 252.3 L74.8 252.4 L74.3 252.5 L73.8 252.7 L73.3 250.8 L72.8 249.6 L72.3 249.7 L71.8 249.8 L71.3 250.5 L70.8 251.8 L70.3 252.0 L69.8 252.5 L69.3 252.7 L68.8 255.3 L68.3 255.6 L67.8 256.0 L67.3 256.2 L66.8 256.6 L66.3 256.3 L65.8 256.5 L65.3 257.0 L64.8 257.5 L64.3 257.4 L63.8 257.9 L63.3 258.8 L62.8 256.4 L62.3 256.9 L61.8 257.6 L61.3 258.1 L60.8 258.7 L60.3 259.2 L59.8 263.2 L59.3 268.4 L58.8 269.0 L58.3 269.5 L57.8 265.8 L57.3 266.3 L56.8 269.7 L56.3 270.2 L55.8 270.6 L55.3 271.1 L54.8 267.6 L54.3 268.0 L53.8 268.3 L53.3 268.3 L52.8 268.6 L52.3 268.9 L51.8 273.5 L51.3 273.8 L50.8 274.0 L50.3 268.1 L49.8 268.3 L49.3 268.5Z" fill="#2b1b8f" stroke="none" shape-rendering="crispEdges"/>
<path d="M49.3 254.6 L49.8 254.6 L50.3 254.6 L50.8 254.7 L51.3 254.7 L51.8 253.0 L52.3 253.1 L52.8 253.1 L53.3 254.8 L53.8 254.5 L54.3 254.6 L54.8 254.6 L55.3 254.7 L55.8 254.7 L56.3 254.3 L56.8 254.3 L57.3 254.3 L57.8 254.3 L58.3 254.3 L58.8 253.7 L59.3 253.4 L59.8 253.4 L60.3 253.7 L60.8 253.8 L61.3 253.8 L61.8 253.8 L62.3 253.8 L62.8 248.1 L63.3 249.2 L63.8 249.3 L64.3 255.1 L64.8 255.1 L65.3 255.1 L65.8 255.1 L66.3 255.3 L66.8 255.3 L67.3 254.7 L67.8 254.6 L68.3 254.6 L68.8 254.1 L69.3 254.1 L69.8 254.2 L70.3 254.2 L70.8 253.4 L71.3 253.2 L71.8 253.2 L72.3 254.0 L72.8 254.2 L73.3 255.8 L73.8 255.8 L74.3 255.8 L74.8 255.2 L75.3 253.8 L75.8 253.6 L76.3 253.6 L76.8 253.6 L77.3 253.6 L77.8 253.6 L78.3 252.3 L78.8 252.3 L79.3 252.4 L79.8 252.4 L80.3 254.0 L80.8 254.0 L81.3 254.0 L81.8 254.9 L82.3 254.2 L82.8 253.2 L83.3 253.3 L83.8 252.8 L84.3 252.8 L84.8 254.4 L85.3 254.9 L85.8 254.2 L86.3 254.2 L86.8 254.2 L87.3 254.0 L87.8 254.0 L88.3 254.0 L88.8 255.8 L89.3 255.8 L89.8 255.8 L90.3 255.0 L90.8 255.0 L91.3 255.0 L91.8 253.9 L92.3 255.5 L92.8 255.5 L93.3 252.9 L93.8 252.9 L94.3 254.8 L94.8 254.8 L95.3 255.5 L95.8 255.5 L96.3 255.7 L96.8 256.5 L97.3 256.6 L97.8 256.2 L98.3 256.2 L98.8 254.9 L99.3 255.9 L99.8 255.6 L100.3 253.6 L100.8 255.0 L101.3 254.2 L101.8 254.3 L102.3 254.9 L102.8 254.9 L103.3 256.0 L103.8 254.9 L104.3 254.9 L104.8 255.2 L105.3 255.2 L105.8 253.9 L106.3 254.7 L106.8 254.7 L107.3 254.7 L107.8 254.4 L108.3 255.8 L108.8 255.8 L109.3 255.8 L109.8 255.3 L110.3 251.8 L110.8 252.5 L111.3 252.5 L111.8 252.2 L112.3 253.0 L112.8 252.9 L113.3 254.0 L113.8 254.0 L114.3 253.7 L114.8 256.5 L115.3 255.2 L115.8 254.9 L116.3 256.3 L116.8 256.3 L117.3 256.0 L117.8 256.0 L118.3 256.8 L118.8 256.8 L119.3 256.3 L119.8 255.6 L120.3 252.0 L120.8 252.0 L121.3 252.7 L121.8 256.0 L122.3 255.0 L122.8 255.0 L123.3 255.5 L123.8 254.6 L124.3 254.9 L124.8 254.9 L125.3 256.0 L125.8 256.0 L126.3 255.4 L126.8 255.4 L127.3 255.4 L127.8 255.4 L128.3 255.6 L128.8 255.6 L129.3 255.4 L129.8 256.3 L130.3 256.3 L130.8 256.0 L131.3 256.0 L131.8 254.9 L132.3 254.9 L132.8 255.0 L133.3 255.0 L133.8 255.2 L134.3 254.8 L134.8 255.5 L135.3 255.9 L135.8 255.9 L136.3 256.2 L136.8 256.2 L137.3 255.0 L137.8 255.0 L138.3 255.1 L138.8 255.1 L139.3 256.0 L139.8 256.6 L140.3 257.2 L140.8 257.2 L141.3 256.8 L141.8 256.2 L142.3 256.2 L142.8 255.8 L143.3 255.8 L143.8 255.6 L144.3 255.5 L144.8 255.9 L145.3 255.8 L145.8 255.7 L146.3 255.7 L146.8 255.2 L147.3 255.1 L147.8 256.0 L148.3 256.0 L148.8 256.5 L149.3 255.0 L149.8 254.8 L150.3 254.7 L150.8 254.8 L151.3 254.9 L151.8 255.1 L152.3 255.1 L152.8 254.7 L153.3 253.5 L153.8 253.4 L154.3 254.1 L154.8 254.1 L155.3 254.1 L155.8 255.0 L156.3 254.9 L156.8 254.6 L157.3 254.8 L157.8 254.8 L158.3 254.2 L158.8 254.1 L159.3 254.4 L159.8 255.1 L160.3 255.1 L160.8 255.1 L161.3 255.3 L161.8 252.8 L162.3 252.5 L162.8 252.5 L163.3 252.1 L163.8 254.1 L164.3 254.8 L164.8 254.7 L165.3 255.2 L165.8 255.3 L166.3 255.2 L166.8 255.2 L167.3 254.9 L167.8 254.0 L168.3 254.0 L168.8 253.9 L169.3 254.4 L169.8 254.0 L170.3 253.3 L170.8 253.6 L171.3 253.5 L171.8 254.2 L172.3 253.7 L172.8 253.7 L173.3 252.7 L173.8 252.7 L174.3 254.4 L174.8 254.3 L175.3 254.4 L175.8 254.4 L176.3 253.5 L176.8 253.4 L177.3 253.5 L177.8 253.1 L178.3 253.2 L178.8 253.1 L179.3 253.1 L179.8 252.3 L180.3 251.8 L180.8 251.8 L181.3 252.9 L181.8 252.8 L182.3 252.6 L182.8 252.6 L183.3 252.5 L183.8 252.4 L184.3 253.3 L184.8 253.3 L185.3 251.6 L185.8 251.6 L186.3 251.5 L186.8 251.3 L187.3 252.1 L187.8 253.2 L188.3 253.1 L188.8 252.5 L189.3 252.2 L189.8 252.1 L190.3 251.1 L190.8 251.0 L191.3 250.9 L191.8 251.6 L192.3 250.9 L192.8 250.9 L193.3 251.3 L193.8 252.3 L194.3 252.2 L194.8 251.6 L195.3 251.6 L195.8 251.9 L196.3 251.6 L196.8 251.5 L197.3 251.5 L197.8 251.4 L198.3 250.9 L198.8 250.7 L199.3 251.0 L199.8 250.9 L200.3 250.7 L200.8 250.6 L201.3 251.5 L201.8 251.4 L202.3 250.1 L202.8 250.0 L203.3 249.2 L203.8 249.1 L204.3 251.0 L204.8 250.9 L205.3 251.0 L205.8 251.0 L206.3 250.2 L206.8 249.7 L207.3 250.3 L207.8 249.8 L208.3 249.7 L208.8 248.8 L209.3 248.8 L209.8 249.4 L210.3 249.2 L210.8 249.0 L211.3 248.9 L211.8 249.1 L212.3 250.1 L212.8 250.1 L213.3 250.1 L213.8 249.6 L214.3 249.2 L214.8 249.2 L215.3 249.7 L215.8 249.5 L216.3 248.9 L216.8 248.8 L217.3 249.0 L217.8 249.0 L218.3 249.6 L218.8 249.6 L219.3 248.6 L219.8 248.5 L220.3 249.0 L220.8 249.6 L221.3 248.6 L221.8 248.4 L222.3 247.6 L222.8 247.7 L223.3 247.6 L223.8 247.6 L224.3 248.0 L224.8 247.9 L225.3 247.4 L225.8 247.4 L226.3 247.6 L226.8 247.6 L227.3 247.8 L227.8 247.7 L228.3 248.5 L228.8 248.5 L229.3 247.6 L229.8 247.6 L230.3 248.3 L230.8 248.4 L231.3 248.6 L231.8 248.5 L232.3 247.9 L232.8 247.9 L233.3 247.5 L233.8 247.4 L234.3 247.5 L234.8 247.4 L235.3 247.1 L235.8 247.1 L236.3 248.3 L236.8 248.3 L237.3 248.7 L237.8 247.2 L238.3 247.5 L238.8 247.5 L239.3 248.1 L239.8 248.2 L240.3 247.9 L240.8 247.8 L241.3 247.6 L241.8 248.0 L242.3 248.0 L242.8 248.0 L243.3 248.1 L243.8 248.7 L244.3 248.3 L244.8 248.2 L245.3 248.2 L245.8 248.1 L246.3 247.9 L246.8 248.0 L247.3 248.0 L247.8 248.7 L248.3 248.8 L248.8 248.8 L249.3 248.6 L249.8 248.5 L250.3 248.7 L250.8 248.7 L251.3 247.8 L251.8 247.9 L252.3 248.2 L252.8 248.2 L253.3 248.3 L253.8 248.3 L254.3 248.3 L254.8 246.8 L255.3 246.6 L255.8 247.1 L256.3 247.1 L256.8 247.8 L257.3 248.8 L257.8 249.0 L258.3 248.7 L258.8 249.1 L259.3 249.1 L259.8 248.2 L260.3 248.4 L260.8 248.6 L261.3 248.9 L261.8 249.0 L262.3 249.1 L262.8 249.0 L263.3 249.0 L263.8 248.4 L264.3 248.4 L264.8 249.1 L265.3 249.1 L265.8 248.3 L266.3 248.3 L266.8 249.2 L267.3 249.2 L267.8 248.7 L268.3 247.5 L268.8 247.5 L269.3 248.6 L269.8 247.8 L270.3 248.1 L270.8 248.2 L271.3 249.2 L271.8 249.2 L272.3 248.9 L272.8 249.5 L273.3 250.0 L273.8 249.8 L274.3 248.3 L274.8 249.4 L275.3 249.5 L275.8 248.3 L276.3 248.4 L276.8 248.7 L277.3 248.8 L277.8 250.1 L278.3 250.2 L278.8 250.6 L279.3 250.7 L279.8 250.9 L280.3 251.4 L280.8 251.2 L281.3 250.7 L281.8 250.8 L282.3 250.9 L282.8 250.8 L283.3 251.3 L283.8 251.8 L284.3 250.9 L284.8 250.2 L285.3 250.9 L285.8 252.6 L286.3 252.5 L286.8 252.2 L287.3 252.6 L287.8 252.2 L288.3 252.3 L288.8 251.9 L289.3 252.7 L289.8 252.9 L290.3 252.2 L290.8 252.3 L291.3 253.0 L291.8 254.0 L292.3 254.1 L292.8 254.2 L293.3 253.6 L293.8 253.8 L294.3 255.0 L294.8 255.2 L295.3 254.4 L295.8 254.3 L296.3 254.4 L296.8 253.8 L297.3 253.7 L297.8 254.5 L298.3 254.7 L298.8 254.9 L299.3 255.1 L299.8 256.3 L300.3 256.4 L300.8 256.7 L301.3 257.8 L301.8 258.0 L302.3 257.1 L302.8 257.4 L303.3 258.4 L303.8 258.7 L304.3 258.9 L304.8 258.7 L305.3 259.4 L305.8 260.7 L306.3 261.0 L306.8 260.1 L307.3 261.0 L307.8 260.1 L308.3 259.8 L308.8 260.0 L309.3 260.2 L309.8 260.4 L310.3 260.8 L310.8 261.0 L311.3 261.8 L311.8 262.0 L312.3 262.2 L312.8 263.4 L313.3 263.0 L313.8 263.2 L314.3 262.6 L314.8 262.8 L315.3 262.6 L315.8 262.4 L316.3 263.3 L316.8 263.8 L317.3 263.5 L317.8 264.1 L318.3 264.7 L318.8 264.9 L319.3 265.5 L319.8 265.1 L320.3 265.3 L320.8 265.5 L321.3 265.8 L321.8 265.9 L322.3 266.1 L322.8 266.0 L323.3 266.2 L323.8 266.7 L324.3 266.8 L324.8 267.0 L325.3 267.0 L325.8 267.2 L326.3 267.2 L326.3 273.2 L325.8 274.1 L325.3 273.9 L324.8 273.8 L324.3 273.7 L323.8 273.5 L323.3 272.5 L322.8 272.4 L322.3 272.5 L321.8 272.3 L321.3 272.8 L320.8 272.4 L320.3 272.2 L319.8 272.0 L319.3 271.8 L318.8 272.3 L318.3 272.1 L317.8 271.6 L317.3 271.4 L316.8 271.8 L316.3 270.0 L315.8 269.1 L315.3 268.8 L314.8 269.0 L314.3 268.8 L313.8 269.7 L313.3 269.5 L312.8 269.3 L312.3 268.2 L311.8 268.0 L311.3 267.5 L310.8 267.8 L310.3 267.8 L309.8 267.4 L309.3 267.3 L308.8 267.1 L308.3 266.7 L307.8 267.1 L307.3 266.9 L306.8 266.0 L306.3 266.8 L305.8 266.4 L305.3 265.1 L304.8 264.9 L304.3 265.1 L303.8 264.9 L303.3 264.7 L302.8 263.8 L302.3 263.2 L301.8 263.4 L301.3 263.2 L300.8 261.9 L300.3 262.7 L299.8 262.6 L299.3 262.0 L298.8 261.8 L298.3 261.7 L297.8 261.5 L297.3 260.7 L296.8 261.9 L296.3 262.6 L295.8 262.4 L295.3 261.2 L294.8 261.5 L294.3 261.4 L293.8 260.3 L293.3 260.1 L292.8 260.9 L292.3 260.3 L291.8 260.2 L291.3 259.2 L290.8 259.1 L290.3 259.0 L289.8 259.7 L289.3 260.1 L288.8 259.2 L288.3 258.6 L287.8 258.4 L287.3 258.9 L286.8 258.1 L286.3 258.0 L285.8 258.1 L285.3 258.3 L284.8 257.5 L284.3 257.4 L283.8 258.3 L283.3 258.4 L282.8 257.9 L282.3 258.0 L281.8 257.9 L281.3 257.8 L280.8 257.2 L280.3 257.3 L279.8 257.2 L279.3 257.0 L278.8 256.7 L278.3 256.8 L277.8 256.7 L277.3 256.1 L276.8 255.6 L276.3 255.4 L275.8 257.1 L275.3 258.3 L274.8 258.2 L274.3 256.7 L273.8 256.0 L273.3 256.2 L272.8 255.7 L272.3 255.1 L271.8 255.5 L271.3 255.6 L270.8 255.1 L270.3 254.9 L269.8 254.9 L269.3 255.3 L268.8 254.2 L268.3 254.2 L267.8 254.7 L267.3 255.2 L266.8 255.2 L266.3 254.6 L265.8 254.5 L265.3 257.1 L264.8 257.0 L264.3 254.8 L263.8 254.8 L263.3 255.1 L262.8 255.1 L262.3 255.4 L261.8 255.4 L261.3 255.3 L260.8 255.2 L260.3 255.0 L259.8 255.0 L259.3 255.9 L258.8 256.0 L258.3 255.7 L257.8 255.1 L257.3 254.9 L256.8 254.9 L256.3 254.5 L255.8 254.4 L255.3 254.4 L254.8 254.7 L254.3 254.6 L253.8 254.0 L253.3 254.0 L252.8 254.0 L252.3 254.0 L251.8 253.6 L251.3 253.3 L250.8 254.2 L250.3 254.2 L249.8 254.3 L249.3 254.3 L248.8 256.3 L248.3 256.3 L247.8 256.3 L247.3 255.8 L246.8 253.7 L246.3 253.5 L245.8 253.7 L245.3 253.7 L244.8 253.7 L244.3 255.1 L243.8 255.5 L243.3 255.4 L242.8 255.3 L242.3 255.3 L241.8 254.8 L241.3 254.4 L240.8 254.4 L240.3 254.0 L239.8 254.0 L239.3 254.0 L238.8 253.3 L238.3 253.4 L237.8 253.1 L237.3 254.6 L236.8 254.6 L236.3 254.6 L235.8 253.5 L235.3 253.5 L234.8 253.8 L234.3 253.8 L233.8 253.2 L233.3 253.2 L232.8 253.5 L232.3 254.2 L231.8 254.8 L231.3 254.8 L230.8 254.6 L230.3 254.1 L229.8 253.4 L229.3 253.5 L228.8 254.4 L228.3 254.4 L227.8 254.3 L227.3 254.3 L226.8 254.9 L226.3 254.9 L225.8 254.1 L225.3 254.1 L224.8 254.4 L224.3 254.5 L223.8 254.0 L223.3 254.6 L222.8 254.6 L222.3 254.7 L221.8 255.5 L221.3 255.2 L220.8 255.3 L220.3 254.6 L219.8 254.2 L219.3 254.3 L218.8 255.3 L218.3 256.7 L217.8 256.2 L217.3 256.3 L216.8 255.5 L216.3 255.5 L215.8 255.2 L215.3 255.3 L214.8 254.9 L214.3 255.0 L213.8 255.0 L213.3 255.5 L212.8 256.2 L212.3 256.3 L211.8 256.3 L211.3 256.2 L210.8 255.5 L210.3 255.8 L209.8 255.8 L209.3 255.2 L208.8 255.3 L208.3 257.3 L207.8 257.4 L207.3 256.6 L206.8 256.0 L206.3 256.9 L205.8 257.7 L205.3 257.7 L204.8 257.6 L204.3 257.7 L203.8 256.8 L203.3 256.9 L202.8 257.7 L202.3 257.8 L201.8 258.6 L201.3 258.1 L200.8 257.2 L200.3 257.2 L199.8 258.0 L199.3 258.0 L198.8 257.8 L198.3 257.8 L197.8 258.3 L197.3 257.3 L196.8 257.8 L196.3 257.9 L195.8 258.1 L195.3 257.7 L194.8 257.7 L194.3 257.8 L193.8 258.1 L193.3 258.2 L192.8 258.4 L192.3 258.5 L191.8 258.5 L191.3 257.9 L190.8 258.2 L190.3 258.3 L189.8 258.9 L189.3 258.9 L188.8 258.6 L188.3 259.1 L187.8 259.2 L187.3 259.3 L186.8 259.4 L186.3 259.6 L185.8 259.0 L185.3 259.1 L184.8 259.9 L184.3 260.0 L183.8 258.6 L183.3 258.6 L182.8 258.3 L182.3 258.7 L181.8 259.4 L181.3 259.4 L180.8 258.6 L180.3 258.7 L179.8 259.2 L179.3 259.3 L178.8 259.3 L178.3 259.4 L177.8 259.2 L177.3 259.3 L176.8 259.3 L176.3 259.6 L175.8 260.5 L175.3 260.9 L174.8 261.6 L174.3 261.7 L173.8 260.0 L173.3 260.0 L172.8 260.5 L172.3 260.5 L171.8 260.2 L171.3 260.3 L170.8 260.1 L170.3 259.8 L169.8 260.5 L169.3 261.4 L168.8 261.0 L168.3 261.0 L167.8 261.0 L167.3 262.0 L166.8 262.0 L166.3 262.1 L165.8 261.0 L165.3 260.9 L164.8 260.9 L164.3 261.0 L163.8 260.4 L163.3 260.4 L162.8 260.8 L162.3 261.9 L161.8 262.2 L161.3 262.2 L160.8 260.9 L160.3 260.9 L159.8 260.8 L159.3 260.7 L158.8 260.7 L158.3 260.8 L157.8 261.7 L157.3 263.1 L156.8 262.9 L156.3 263.0 L155.8 263.1 L155.3 262.9 L154.8 262.9 L154.3 260.8 L153.8 261.8 L153.3 261.8 L152.8 261.2 L152.3 261.6 L151.8 261.7 L151.3 261.7 L150.8 261.6 L150.3 261.2 L149.8 261.2 L149.3 261.2 L148.8 262.7 L148.3 264.4 L147.8 264.4 L147.3 263.5 L146.8 263.5 L146.3 262.1 L145.8 262.1 L145.3 262.3 L144.8 262.3 L144.3 261.9 L143.8 261.3 L143.3 262.4 L142.8 262.4 L142.3 263.1 L141.8 263.1 L141.3 263.4 L140.8 263.4 L140.3 263.4 L139.8 262.8 L139.3 262.8 L138.8 261.9 L138.3 262.3 L137.8 262.3 L137.3 261.9 L136.8 262.7 L136.3 262.7 L135.8 262.3 L135.3 262.7 L134.8 262.3 L134.3 262.3 L133.8 262.3 L133.3 262.1 L132.8 262.2 L132.3 264.4 L131.8 264.4 L131.3 265.0 L130.8 265.0 L130.3 263.0 L129.8 263.0 L129.3 262.0 L128.8 262.8 L128.3 262.8 L127.8 262.9 L127.3 263.0 L126.8 262.9 L126.3 262.5 L125.8 263.1 L125.3 262.6 L124.8 261.6 L124.3 261.6 L123.8 261.5 L123.3 261.5 L122.8 261.1 L122.3 261.1 L121.8 262.0 L121.3 261.7 L120.8 261.1 L120.3 261.1 L119.8 262.2 L119.3 262.2 L118.8 262.8 L118.3 262.8 L117.8 262.5 L117.3 263.3 L116.8 263.6 L116.3 263.6 L115.8 262.3 L115.3 261.4 L114.8 262.6 L114.3 262.6 L113.8 262.9 L113.3 263.0 L112.8 261.7 L112.3 261.8 L111.8 261.8 L111.3 262.2 L110.8 262.2 L110.3 261.9 L109.8 261.9 L109.3 262.8 L108.8 262.8 L108.3 262.8 L107.8 262.0 L107.3 261.8 L106.8 261.8 L106.3 261.8 L105.8 261.0 L105.3 261.7 L104.8 261.7 L104.3 261.4 L103.8 261.4 L103.3 263.9 L102.8 264.0 L102.3 264.0 L101.8 263.4 L101.3 263.4 L100.8 262.9 L100.3 261.5 L99.8 263.5 L99.3 263.5 L98.8 262.5 L98.3 263.4 L97.8 263.4 L97.3 269.9 L96.8 269.8 L96.3 269.9 L95.8 269.7 L95.3 264.7 L94.8 264.0 L94.3 262.4 L93.8 261.6 L93.3 261.1 L92.8 263.7 L92.3 263.8 L91.8 262.6 L91.3 262.6 L90.8 262.6 L90.3 262.8 L89.8 262.8 L89.3 262.8 L88.8 262.5 L88.3 261.9 L87.8 261.9 L87.3 262.0 L86.8 262.2 L86.3 262.6 L85.8 262.6 L85.3 262.6 L84.8 261.9 L84.3 261.9 L83.8 262.0 L83.3 262.5 L82.8 262.5 L82.3 262.5 L81.8 263.9 L81.3 263.9 L80.8 263.9 L80.3 263.9 L79.8 264.3 L79.3 263.0 L78.8 263.0 L78.3 264.7 L77.8 263.1 L77.3 263.1 L76.8 263.1 L76.3 265.5 L75.8 265.6 L75.3 265.6 L74.8 267.0 L74.3 270.6 L73.8 270.7 L73.3 268.1 L72.8 266.5 L72.3 266.6 L71.8 266.6 L71.3 266.7 L70.8 262.4 L70.3 263.1 L69.8 263.2 L69.3 263.2 L68.8 263.2 L68.3 263.2 L67.8 263.2 L67.3 263.5 L66.8 264.2 L66.3 264.2 L65.8 264.2 L65.3 263.2 L64.8 263.2 L64.3 263.0 L63.8 263.0 L63.3 263.1 L62.8 262.0 L62.3 262.1 L61.8 265.1 L61.3 265.1 L60.8 261.7 L60.3 261.7 L59.8 265.3 L59.3 265.4 L58.8 265.7 L58.3 265.7 L57.8 265.8 L57.3 262.2 L56.8 262.2 L56.3 262.2 L55.8 262.2 L55.3 267.1 L54.8 267.2 L54.3 267.2 L53.8 263.6 L53.3 263.9 L52.8 263.9 L52.3 264.0 L51.8 262.5 L51.3 262.5 L50.8 264.1 L50.3 264.1 L49.8 264.1 L49.3 264.1Z" fill="#1c9bb4" stroke="none" shape-rendering="crispEdges"/>
<line x1="50" y1="270.5" x2="326" y2="270.5" stroke="#6a6a6a" stroke-width="1.0" stroke-dasharray="12.4 5"/>
<path d="M49.00 157.40 L50.00 157.79 L51.00 158.18 L52.00 158.57 L53.00 158.97 L54.00 159.37 L55.00 159.78 L56.00 160.18 L57.00 160.60 L58.00 161.02 L59.00 161.44 L60.00 161.87 L61.00 162.30 L62.00 162.74 L63.00 163.18 L64.00 163.63 L65.00 164.08 L66.00 164.53 L67.00 164.99 L68.00 165.45 L69.00 165.92 L70.00 166.39 L71.00 166.86 L72.00 167.34 L73.00 167.82 L74.00 168.31 L75.00 168.80 L76.00 169.29 L77.00 169.79 L78.00 170.29 L79.00 170.79 L80.00 171.30 L81.00 171.81 L82.00 172.32 L83.00 172.84 L84.00 173.36 L85.00 173.88 L86.00 174.41 L87.00 174.94 L88.00 175.48 L89.00 176.02 L90.00 176.56 L91.00 177.11 L92.00 177.66 L93.00 178.23 L94.00 178.79 L95.00 179.37 L96.00 179.95 L97.00 180.53 L98.00 181.13 L99.00 181.72 L100.00 182.33 L101.00 182.93 L102.00 183.55 L103.00 184.17 L104.00 184.79 L105.00 185.42 L106.00 186.05 L107.00 186.69 L108.00 187.33 L109.00 187.98 L110.00 188.62 L111.00 189.28 L112.00 189.94 L113.00 190.60 L114.00 191.26 L115.00 191.93 L116.00 192.60 L117.00 193.27 L118.00 193.94 L119.00 194.62 L120.00 195.30 L121.00 195.98 L122.00 196.67 L123.00 197.35 L124.00 198.04 L125.00 198.73 L126.00 199.42 L127.00 200.12 L128.00 200.81 L129.00 201.52 L130.00 202.22 L131.00 202.93 L132.00 203.65 L133.00 204.37 L134.00 205.10 L135.00 205.84 L136.00 206.59 L137.00 207.34 L138.00 208.09 L139.00 208.85 L140.00 209.62 L141.00 210.38 L142.00 211.16 L143.00 211.93 L144.00 212.71 L145.00 213.48 L146.00 214.26 L147.00 215.04 L148.00 215.82 L149.00 216.60 L150.00 217.38 L151.00 218.15 L152.00 218.93 L153.00 219.70 L154.00 220.47 L155.00 221.23 L156.00 221.99 L157.00 222.75 L158.00 223.50 L159.00 224.25 L160.00 224.99 L161.00 225.73 L162.00 226.46 L163.00 227.19 L164.00 227.92 L165.00 228.64 L166.00 229.36 L167.00 230.08 L168.00 230.79 L169.00 231.51 L170.00 232.23 L171.00 232.95 L172.00 233.68 L173.00 234.42 L174.00 235.16 L175.00 235.91 L176.00 236.67 L177.00 237.43 L178.00 238.19 L179.00 238.95 L180.00 239.71 L181.00 240.46 L182.00 241.22 L183.00 241.96 L184.00 242.69 L185.00 243.42 L186.00 244.13 L187.00 244.83 L188.00 245.52 L189.00 246.18 L190.00 246.83 L191.00 247.46 L192.00 248.06 L193.00 248.64 L194.00 249.20 L195.00 249.72 L196.00 250.22 L197.00 250.69 L198.00 251.13 L199.00 251.54 L200.00 251.93 L201.00 252.30 L202.00 252.65 L203.00 252.99 L204.00 253.31 L205.00 253.63 L206.00 253.94 L207.00 254.24 L208.00 254.54 L209.00 254.83 L210.00 255.11 L211.00 255.38 L212.00 255.65 L213.00 255.91 L214.00 256.17 L215.00 256.41 L216.00 256.66 L217.00 256.89 L218.00 257.12 L219.00 257.35 L220.00 257.57 L221.00 257.78 L222.00 257.98 L223.00 258.18 L224.00 258.38 L225.00 258.57 L226.00 258.75 L227.00 258.93 L228.00 259.11 L229.00 259.28 L230.00 259.44 L231.00 259.60 L232.00 259.75 L233.00 259.90 L234.00 260.05 L235.00 260.19 L236.00 260.33 L237.00 260.46 L238.00 260.59 L239.00 260.72 L240.00 260.84 L241.00 260.96 L242.00 261.08 L243.00 261.20 L244.00 261.31 L245.00 261.42 L246.00 261.53 L247.00 261.64 L248.00 261.74 L249.00 261.84 L250.00 261.94 L251.00 262.04 L252.00 262.13 L253.00 262.23 L254.00 262.32 L255.00 262.41 L256.00 262.50 L257.00 262.58 L258.00 262.67 L259.00 262.75 L260.00 262.84 L261.00 262.92 L262.00 263.00 L263.00 263.07 L264.00 263.15 L265.00 263.23 L266.00 263.30 L267.00 263.38 L268.00 263.45 L269.00 263.52 L270.00 263.59 L271.00 263.66 L272.00 263.72 L273.00 263.79 L274.00 263.85 L275.00 263.90 L276.00 263.96 L277.00 264.01 L278.00 264.07 L279.00 264.12 L280.00 264.18 L281.00 264.24 L282.00 264.30 L283.00 264.37 L284.00 264.44 L285.00 264.52 L286.00 264.60 L287.00 264.68 L288.00 264.77 L289.00 264.87 L290.00 264.97 L291.00 265.07 L292.00 265.18 L293.00 265.29 L294.00 265.40 L295.00 265.52 L296.00 265.64 L297.00 265.76 L298.00 265.88 L299.00 266.00 L300.00 266.13 L301.00 266.25 L302.00 266.38 L303.00 266.50 L304.00 266.63 L305.00 266.76 L306.00 266.89 L307.00 267.02 L308.00 267.15 L309.00 267.28 L310.00 267.42 L311.00 267.56 L312.00 267.69 L313.00 267.83 L314.00 267.98 L315.00 268.12 L316.00 268.27 L317.00 268.41 L318.00 268.56 L319.00 268.71 L320.00 268.86 L321.00 269.02 L322.00 269.17 L323.00 269.33 L324.00 269.48 L325.00 269.64 L326.00 269.80" stroke="#f2c41c" stroke-width="1.7"/>
<path d="M49.00 173.90 L50.00 174.43 L51.00 174.96 L52.00 175.49 L53.00 176.02 L54.00 176.55 L55.00 177.08 L56.00 177.60 L57.00 178.13 L58.00 178.65 L59.00 179.18 L60.00 179.70 L61.00 180.22 L62.00 180.74 L63.00 181.26 L64.00 181.78 L65.00 182.30 L66.00 182.81 L67.00 183.33 L68.00 183.85 L69.00 184.36 L70.00 184.88 L71.00 185.39 L72.00 185.90 L73.00 186.41 L74.00 186.93 L75.00 187.44 L76.00 187.95 L77.00 188.46 L78.00 188.97 L79.00 189.47 L80.00 189.98 L81.00 190.48 L82.00 190.99 L83.00 191.49 L84.00 191.98 L85.00 192.48 L86.00 192.99 L87.00 193.50 L88.00 194.02 L89.00 194.55 L90.00 195.09 L91.00 195.65 L92.00 196.22 L93.00 196.80 L94.00 197.38 L95.00 197.98 L96.00 198.59 L97.00 199.20 L98.00 199.82 L99.00 200.45 L100.00 201.08 L101.00 201.72 L102.00 202.36 L103.00 203.00 L104.00 203.65 L105.00 204.30 L106.00 204.96 L107.00 205.61 L108.00 206.27 L109.00 206.93 L110.00 207.58 L111.00 208.24 L112.00 208.89 L113.00 209.55 L114.00 210.20 L115.00 210.85 L116.00 211.50 L117.00 212.15 L118.00 212.79 L119.00 213.44 L120.00 214.09 L121.00 214.74 L122.00 215.40 L123.00 216.05 L124.00 216.71 L125.00 217.36 L126.00 218.02 L127.00 218.68 L128.00 219.35 L129.00 220.01 L130.00 220.68 L131.00 221.36 L132.00 222.04 L133.00 222.73 L134.00 223.42 L135.00 224.11 L136.00 224.81 L137.00 225.51 L138.00 226.21 L139.00 226.91 L140.00 227.60 L141.00 228.30 L142.00 229.00 L143.00 229.69 L144.00 230.37 L145.00 231.05 L146.00 231.72 L147.00 232.39 L148.00 233.04 L149.00 233.69 L150.00 234.33 L151.00 234.95 L152.00 235.56 L153.00 236.15 L154.00 236.73 L155.00 237.30 L156.00 237.85 L157.00 238.40 L158.00 238.94 L159.00 239.49 L160.00 240.05 L161.00 240.62 L162.00 241.20 L163.00 241.79 L164.00 242.40 L165.00 243.02 L166.00 243.65 L167.00 244.29 L168.00 244.93 L169.00 245.59 L170.00 246.25 L171.00 246.91 L172.00 247.58 L173.00 248.25 L174.00 248.91 L175.00 249.58 L176.00 250.24 L177.00 250.90 L178.00 251.56 L179.00 252.21 L180.00 252.85 L181.00 253.48 L182.00 254.10 L183.00 254.71 L184.00 255.31 L185.00 255.89 L186.00 256.46 L187.00 257.01 L188.00 257.54 L189.00 258.05 L190.00 258.54 L191.00 259.01 L192.00 259.46 L193.00 259.88 L194.00 260.29 L195.00 260.67 L196.00 261.04 L197.00 261.40 L198.00 261.74 L199.00 262.07 L200.00 262.39 L201.00 262.70 L202.00 263.00 L203.00 263.28 L204.00 263.56 L205.00 263.82 L206.00 264.08 L207.00 264.32 L208.00 264.55 L209.00 264.77 L210.00 264.98 L211.00 265.18 L212.00 265.38 L213.00 265.58 L214.00 265.77 L215.00 265.96 L216.00 266.15 L217.00 266.33 L218.00 266.51 L219.00 266.68 L220.00 266.85 L221.00 267.02 L222.00 267.18 L223.00 267.33 L224.00 267.48 L225.00 267.62 L226.00 267.75 L227.00 267.88 L228.00 268.00 L229.00 268.11 L230.00 268.21 L231.00 268.30 L232.00 268.38 L233.00 268.46 L234.00 268.52 L235.00 268.58 L236.00 268.63 L237.00 268.68 L238.00 268.73 L239.00 268.77 L240.00 268.81 L241.00 268.85 L242.00 268.89 L243.00 268.93 L244.00 268.96 L245.00 269.00 L246.00 269.03 L247.00 269.07 L248.00 269.10 L249.00 269.13 L250.00 269.16 L251.00 269.19 L252.00 269.22 L253.00 269.24 L254.00 269.27 L255.00 269.29 L256.00 269.31 L257.00 269.34 L258.00 269.36 L259.00 269.37 L260.00 269.39 L261.00 269.41 L262.00 269.42 L263.00 269.44 L264.00 269.45 L265.00 269.46 L266.00 269.47 L267.00 269.48 L268.00 269.49 L269.00 269.49 L270.00 269.50 L271.00 269.50 L272.00 269.51 L273.00 269.51 L274.00 269.51 L275.00 269.52 L276.00 269.52 L277.00 269.52 L278.00 269.53 L279.00 269.53 L280.00 269.53 L281.00 269.54 L282.00 269.54 L283.00 269.54 L284.00 269.54 L285.00 269.55 L286.00 269.55 L287.00 269.55 L288.00 269.55 L289.00 269.56 L290.00 269.56 L291.00 269.56 L292.00 269.56 L293.00 269.57 L294.00 269.57 L295.00 269.57 L296.00 269.57 L297.00 269.57 L298.00 269.57 L299.00 269.58 L300.00 269.58 L301.00 269.58 L302.00 269.58 L303.00 269.58 L304.00 269.58 L305.00 269.59 L306.00 269.59 L307.00 269.59 L308.00 269.59 L309.00 269.59 L310.00 269.59 L311.00 269.59 L312.00 269.59 L313.00 269.59 L314.00 269.60 L315.00 269.60 L316.00 269.60 L317.00 269.60 L318.00 269.60 L319.00 269.60 L320.00 269.60 L321.00 269.60 L322.00 269.60 L323.00 269.60 L324.00 269.60 L325.00 269.60 L326.00 269.60" stroke="#f2c41c" stroke-width="1.7"/>
<path d="M49.00 248.50 L50.00 248.50 L51.00 248.50 L52.00 248.50 L53.00 248.50 L54.00 248.50 L55.00 248.50 L56.00 248.50 L57.00 248.50 L58.00 248.50 L59.00 248.50 L60.00 248.50 L61.00 248.50 L62.00 248.50 L63.00 248.50 L64.00 248.50 L65.00 248.50 L66.00 248.50 L67.00 248.50 L68.00 248.50 L69.00 248.50 L70.00 248.50 L71.00 248.50 L72.00 248.50 L73.00 248.50 L74.00 248.50 L75.00 248.50 L76.00 248.50 L77.00 248.50 L78.00 248.50 L79.00 248.50 L80.00 248.50 L81.00 248.50 L82.00 248.50 L83.00 248.50 L84.00 248.50 L85.00 248.50 L86.00 248.50 L87.00 248.50 L88.00 248.50 L89.00 248.50 L90.00 248.50 L91.00 248.50 L92.00 248.50 L93.00 248.49 L94.00 248.49 L95.00 248.49 L96.00 248.48 L97.00 248.48 L98.00 248.48 L99.00 248.47 L100.00 248.47 L101.00 248.46 L102.00 248.45 L103.00 248.45 L104.00 248.44 L105.00 248.43 L106.00 248.42 L107.00 248.42 L108.00 248.41 L109.00 248.40 L110.00 248.39 L111.00 248.38 L112.00 248.37 L113.00 248.36 L114.00 248.35 L115.00 248.33 L116.00 248.32 L117.00 248.31 L118.00 248.29 L119.00 248.27 L120.00 248.25 L121.00 248.22 L122.00 248.19 L123.00 248.16 L124.00 248.12 L125.00 248.07 L126.00 248.02 L127.00 247.97 L128.00 247.91 L129.00 247.84 L130.00 247.78 L131.00 247.70 L132.00 247.63 L133.00 247.55 L134.00 247.47 L135.00 247.38 L136.00 247.29 L137.00 247.19 L138.00 247.09 L139.00 246.99 L140.00 246.89 L141.00 246.78 L142.00 246.67 L143.00 246.56 L144.00 246.44 L145.00 246.32 L146.00 246.20 L147.00 246.08 L148.00 245.95 L149.00 245.82 L150.00 245.69 L151.00 245.56 L152.00 245.43 L153.00 245.29 L154.00 245.15 L155.00 245.01 L156.00 244.87 L157.00 244.73 L158.00 244.58 L159.00 244.43 L160.00 244.28 L161.00 244.12 L162.00 243.95 L163.00 243.78 L164.00 243.59 L165.00 243.39 L166.00 243.19 L167.00 242.97 L168.00 242.75 L169.00 242.51 L170.00 242.27 L171.00 242.01 L172.00 241.75 L173.00 241.48 L174.00 241.20 L175.00 240.91 L176.00 240.62 L177.00 240.31 L178.00 240.00 L179.00 239.69 L180.00 239.37 L181.00 239.04 L182.00 238.70 L183.00 238.36 L184.00 238.02 L185.00 237.67 L186.00 237.31 L187.00 236.95 L188.00 236.59 L189.00 236.22 L190.00 235.85 L191.00 235.47 L192.00 235.10 L193.00 234.71 L194.00 234.33 L195.00 233.95 L196.00 233.56 L197.00 233.16 L198.00 232.77 L199.00 232.36 L200.00 231.94 L201.00 231.50 L202.00 231.04 L203.00 230.56 L204.00 230.06 L205.00 229.55 L206.00 229.04 L207.00 228.52 L208.00 228.02 L209.00 227.53 L210.00 227.06 L211.00 226.62 L212.00 226.20 L213.00 225.82 L214.00 225.45 L215.00 225.10 L216.00 224.77 L217.00 224.46 L218.00 224.15 L219.00 223.86 L220.00 223.59 L221.00 223.33 L222.00 223.08 L223.00 222.85 L224.00 222.63 L225.00 222.42 L226.00 222.21 L227.00 222.02 L228.00 221.82 L229.00 221.63 L230.00 221.45 L231.00 221.27 L232.00 221.11 L233.00 220.95 L234.00 220.81 L235.00 220.69 L236.00 220.58 L237.00 220.50 L238.00 220.44 L239.00 220.40 L240.00 220.39 L241.00 220.40 L242.00 220.44 L243.00 220.50 L244.00 220.59 L245.00 220.69 L246.00 220.82 L247.00 220.95 L248.00 221.10 L249.00 221.26 L250.00 221.42 L251.00 221.59 L252.00 221.77 L253.00 221.96 L254.00 222.17 L255.00 222.38 L256.00 222.61 L257.00 222.85 L258.00 223.11 L259.00 223.38 L260.00 223.66 L261.00 223.95 L262.00 224.25 L263.00 224.55 L264.00 224.86 L265.00 225.17 L266.00 225.49 L267.00 225.81 L268.00 226.15 L269.00 226.48 L270.00 226.83 L271.00 227.19 L272.00 227.56 L273.00 227.95 L274.00 228.34 L275.00 228.75 L276.00 229.18 L277.00 229.63 L278.00 230.09 L279.00 230.59 L280.00 231.11 L281.00 231.66 L282.00 232.25 L283.00 232.87 L284.00 233.54 L285.00 234.24 L286.00 234.99 L287.00 235.77 L288.00 236.60 L289.00 237.48 L290.00 238.40 L291.00 239.36 L292.00 240.36 L293.00 241.39 L294.00 242.45 L295.00 243.54 L296.00 244.65 L297.00 245.78 L298.00 246.93 L299.00 248.10 L300.00 249.27 L301.00 250.44 L302.00 251.61 L303.00 252.77 L304.00 253.93 L305.00 255.07 L306.00 256.19 L307.00 257.29 L308.00 258.36 L309.00 259.40 L310.00 260.39 L311.00 261.34 L312.00 262.24 L313.00 263.10 L314.00 263.92 L315.00 264.68 L316.00 265.40 L317.00 266.06 L318.00 266.67 L319.00 267.22 L320.00 267.73 L321.00 268.19 L322.00 268.62 L323.00 269.00 L324.00 269.36 L325.00 269.68 L326.00 269.97" stroke="#f2c41c" stroke-width="1.7"/>
<path d="M49.00 258.70 L50.00 258.70 L51.00 258.70 L52.00 258.70 L53.00 258.70 L54.00 258.70 L55.00 258.70 L56.00 258.70 L57.00 258.70 L58.00 258.69 L59.00 258.69 L60.00 258.69 L61.00 258.69 L62.00 258.69 L63.00 258.69 L64.00 258.69 L65.00 258.69 L66.00 258.68 L67.00 258.68 L68.00 258.68 L69.00 258.68 L70.00 258.68 L71.00 258.67 L72.00 258.67 L73.00 258.67 L74.00 258.67 L75.00 258.66 L76.00 258.66 L77.00 258.66 L78.00 258.66 L79.00 258.65 L80.00 258.65 L81.00 258.65 L82.00 258.65 L83.00 258.64 L84.00 258.64 L85.00 258.64 L86.00 258.63 L87.00 258.63 L88.00 258.63 L89.00 258.62 L90.00 258.62 L91.00 258.62 L92.00 258.61 L93.00 258.61 L94.00 258.60 L95.00 258.60 L96.00 258.60 L97.00 258.59 L98.00 258.59 L99.00 258.59 L100.00 258.58 L101.00 258.58 L102.00 258.57 L103.00 258.57 L104.00 258.56 L105.00 258.56 L106.00 258.56 L107.00 258.55 L108.00 258.55 L109.00 258.54 L110.00 258.54 L111.00 258.53 L112.00 258.53 L113.00 258.52 L114.00 258.52 L115.00 258.51 L116.00 258.51 L117.00 258.50 L118.00 258.50 L119.00 258.49 L120.00 258.49 L121.00 258.48 L122.00 258.48 L123.00 258.47 L124.00 258.47 L125.00 258.46 L126.00 258.45 L127.00 258.45 L128.00 258.44 L129.00 258.43 L130.00 258.42 L131.00 258.41 L132.00 258.41 L133.00 258.40 L134.00 258.39 L135.00 258.38 L136.00 258.37 L137.00 258.36 L138.00 258.35 L139.00 258.34 L140.00 258.33 L141.00 258.31 L142.00 258.30 L143.00 258.29 L144.00 258.27 L145.00 258.26 L146.00 258.25 L147.00 258.23 L148.00 258.22 L149.00 258.20 L150.00 258.19 L151.00 258.17 L152.00 258.15 L153.00 258.14 L154.00 258.12 L155.00 258.10 L156.00 258.08 L157.00 258.06 L158.00 258.04 L159.00 258.01 L160.00 257.99 L161.00 257.95 L162.00 257.91 L163.00 257.87 L164.00 257.82 L165.00 257.76 L166.00 257.69 L167.00 257.62 L168.00 257.54 L169.00 257.45 L170.00 257.36 L171.00 257.26 L172.00 257.15 L173.00 257.05 L174.00 256.93 L175.00 256.82 L176.00 256.70 L177.00 256.57 L178.00 256.44 L179.00 256.32 L180.00 256.18 L181.00 256.05 L182.00 255.92 L183.00 255.78 L184.00 255.65 L185.00 255.51 L186.00 255.37 L187.00 255.24 L188.00 255.11 L189.00 254.97 L190.00 254.84 L191.00 254.71 L192.00 254.59 L193.00 254.46 L194.00 254.34 L195.00 254.23 L196.00 254.12 L197.00 254.01 L198.00 253.90 L199.00 253.80 L200.00 253.70 L201.00 253.61 L202.00 253.51 L203.00 253.41 L204.00 253.32 L205.00 253.22 L206.00 253.12 L207.00 253.02 L208.00 252.91 L209.00 252.81 L210.00 252.71 L211.00 252.61 L212.00 252.50 L213.00 252.40 L214.00 252.30 L215.00 252.20 L216.00 252.11 L217.00 252.01 L218.00 251.92 L219.00 251.83 L220.00 251.74 L221.00 251.66 L222.00 251.58 L223.00 251.51 L224.00 251.43 L225.00 251.37 L226.00 251.31 L227.00 251.25 L228.00 251.20 L229.00 251.15 L230.00 251.12 L231.00 251.08 L232.00 251.06 L233.00 251.04 L234.00 251.02 L235.00 251.02 L236.00 251.01 L237.00 251.01 L238.00 251.02 L239.00 251.02 L240.00 251.03 L241.00 251.05 L242.00 251.06 L243.00 251.08 L244.00 251.09 L245.00 251.11 L246.00 251.14 L247.00 251.16 L248.00 251.18 L249.00 251.21 L250.00 251.24 L251.00 251.27 L252.00 251.31 L253.00 251.34 L254.00 251.38 L255.00 251.42 L256.00 251.46 L257.00 251.50 L258.00 251.55 L259.00 251.59 L260.00 251.64 L261.00 251.69 L262.00 251.74 L263.00 251.79 L264.00 251.85 L265.00 251.90 L266.00 251.96 L267.00 252.02 L268.00 252.09 L269.00 252.16 L270.00 252.24 L271.00 252.34 L272.00 252.45 L273.00 252.58 L274.00 252.72 L275.00 252.88 L276.00 253.05 L277.00 253.23 L278.00 253.42 L279.00 253.61 L280.00 253.81 L281.00 254.02 L282.00 254.23 L283.00 254.45 L284.00 254.68 L285.00 254.91 L286.00 255.16 L287.00 255.41 L288.00 255.67 L289.00 255.94 L290.00 256.21 L291.00 256.50 L292.00 256.80 L293.00 257.10 L294.00 257.42 L295.00 257.75 L296.00 258.10 L297.00 258.47 L298.00 258.86 L299.00 259.26 L300.00 259.69 L301.00 260.13 L302.00 260.58 L303.00 261.03 L304.00 261.50 L305.00 261.96 L306.00 262.42 L307.00 262.87 L308.00 263.32 L309.00 263.75 L310.00 264.17 L311.00 264.58 L312.00 264.98 L313.00 265.38 L314.00 265.76 L315.00 266.14 L316.00 266.51 L317.00 266.88 L318.00 267.25 L319.00 267.61 L320.00 267.96 L321.00 268.31 L322.00 268.66 L323.00 269.00 L324.00 269.33 L325.00 269.67 L326.00 270.00" stroke="#f2c41c" stroke-width="1.7"/>
<path d="M49.00 249.35 L50.00 249.20 L51.00 249.05 L52.00 248.89 L53.00 248.74 L54.00 248.59 L55.00 248.44 L56.00 248.28 L57.00 248.13 L58.00 247.97 L59.00 247.82 L60.00 247.66 L61.00 247.50 L62.00 247.35 L63.00 247.19 L64.00 247.03 L65.00 246.87 L66.00 246.71 L67.00 246.55 L68.00 246.39 L69.00 246.23 L70.00 246.07 L71.00 245.91 L72.00 245.74 L73.00 245.58 L74.00 245.42 L75.00 245.25 L76.00 245.09 L77.00 244.92 L78.00 244.76 L79.00 244.59 L80.00 244.43 L81.00 244.26 L82.00 244.09 L83.00 243.92 L84.00 243.75 L85.00 243.59 L86.00 243.42 L87.00 243.25 L88.00 243.08 L89.00 242.91 L90.00 242.73 L91.00 242.56 L92.00 242.39 L93.00 242.22 L94.00 242.05 L95.00 241.87 L96.00 241.70 L97.00 241.52 L98.00 241.35 L99.00 241.17 L100.00 241.00 L101.00 240.82 L102.00 240.64 L103.00 240.46 L104.00 240.28 L105.00 240.10 L106.00 239.91 L107.00 239.73 L108.00 239.54 L109.00 239.35 L110.00 239.16 L111.00 238.97 L112.00 238.78 L113.00 238.59 L114.00 238.39 L115.00 238.20 L116.00 238.01 L117.00 237.81 L118.00 237.62 L119.00 237.42 L120.00 237.22 L121.00 237.03 L122.00 236.83 L123.00 236.63 L124.00 236.43 L125.00 236.24 L126.00 236.04 L127.00 235.84 L128.00 235.65 L129.00 235.45 L130.00 235.25 L131.00 235.06 L132.00 234.86 L133.00 234.67 L134.00 234.47 L135.00 234.28 L136.00 234.08 L137.00 233.89 L138.00 233.70 L139.00 233.51 L140.00 233.32 L141.00 233.13 L142.00 232.95 L143.00 232.76 L144.00 232.58 L145.00 232.40 L146.00 232.21 L147.00 232.03 L148.00 231.86 L149.00 231.68 L150.00 231.50 L151.00 231.33 L152.00 231.15 L153.00 230.97 L154.00 230.80 L155.00 230.62 L156.00 230.44 L157.00 230.26 L158.00 230.08 L159.00 229.90 L160.00 229.72 L161.00 229.55 L162.00 229.37 L163.00 229.19 L164.00 229.01 L165.00 228.83 L166.00 228.65 L167.00 228.47 L168.00 228.29 L169.00 228.12 L170.00 227.94 L171.00 227.77 L172.00 227.59 L173.00 227.42 L174.00 227.25 L175.00 227.08 L176.00 226.91 L177.00 226.74 L178.00 226.57 L179.00 226.41 L180.00 226.25 L181.00 226.09 L182.00 225.93 L183.00 225.77 L184.00 225.62 L185.00 225.46 L186.00 225.31 L187.00 225.16 L188.00 225.02 L189.00 224.88 L190.00 224.74 L191.00 224.60 L192.00 224.47 L193.00 224.34 L194.00 224.21 L195.00 224.08 L196.00 223.96 L197.00 223.84 L198.00 223.73 L199.00 223.61 L200.00 223.50 L201.00 223.39 L202.00 223.29 L203.00 223.18 L204.00 223.07 L205.00 222.96 L206.00 222.85 L207.00 222.74 L208.00 222.63 L209.00 222.52 L210.00 222.41 L211.00 222.30 L212.00 222.19 L213.00 222.09 L214.00 221.98 L215.00 221.88 L216.00 221.77 L217.00 221.67 L218.00 221.57 L219.00 221.48 L220.00 221.38 L221.00 221.29 L222.00 221.20 L223.00 221.12 L224.00 221.03 L225.00 220.95 L226.00 220.88 L227.00 220.81 L228.00 220.74 L229.00 220.68 L230.00 220.62 L231.00 220.56 L232.00 220.51 L233.00 220.47 L234.00 220.43 L235.00 220.40 L236.00 220.37 L237.00 220.35 L238.00 220.34 L239.00 220.34 L240.00 220.35 L241.00 220.38 L242.00 220.43 L243.00 220.50 L244.00 220.59 L245.00 220.69 L246.00 220.82 L247.00 220.95 L248.00 221.10 L249.00 221.26 L250.00 221.42 L251.00 221.59 L252.00 221.77 L253.00 221.96 L254.00 222.17 L255.00 222.38 L256.00 222.61 L257.00 222.85 L258.00 223.11 L259.00 223.38 L260.00 223.66 L261.00 223.95 L262.00 224.25 L263.00 224.55 L264.00 224.86 L265.00 225.17 L266.00 225.49 L267.00 225.81 L268.00 226.15 L269.00 226.48 L270.00 226.83 L271.00 227.19 L272.00 227.56 L273.00 227.95 L274.00 228.34 L275.00 228.75 L276.00 229.18 L277.00 229.63 L278.00 230.09 L279.00 230.59 L280.00 231.11 L281.00 231.66 L282.00 232.25 L283.00 232.87 L284.00 233.54 L285.00 234.24 L286.00 234.99 L287.00 235.77 L288.00 236.60 L289.00 237.48 L290.00 238.40 L291.00 239.36 L292.00 240.36 L293.00 241.39 L294.00 242.45 L295.00 243.54 L296.00 244.65 L297.00 245.78 L298.00 246.93 L299.00 248.10 L300.00 249.27 L301.00 250.44 L302.00 251.61 L303.00 252.77 L304.00 253.93 L305.00 255.07 L306.00 256.19 L307.00 257.29 L308.00 258.36 L309.00 259.40 L310.00 260.39 L311.00 261.34 L312.00 262.24 L313.00 263.10 L314.00 263.92 L315.00 264.68 L316.00 265.40 L317.00 266.06 L318.00 266.67 L319.00 267.22 L320.00 267.73 L321.00 268.19 L322.00 268.62 L323.00 269.00 L324.00 269.36 L325.00 269.68 L326.00 269.97" stroke="#f01818" stroke-width="1.2" stroke-dasharray="12.4 4.5" transform="translate(0 -0.6)"/>
<path d="M49.00 258.88 L50.00 258.86 L51.00 258.85 L52.00 258.83 L53.00 258.81 L54.00 258.79 L55.00 258.77 L56.00 258.74 L57.00 258.72 L58.00 258.70 L59.00 258.67 L60.00 258.65 L61.00 258.62 L62.00 258.60 L63.00 258.57 L64.00 258.54 L65.00 258.52 L66.00 258.49 L67.00 258.46 L68.00 258.43 L69.00 258.40 L70.00 258.37 L71.00 258.34 L72.00 258.30 L73.00 258.27 L74.00 258.24 L75.00 258.21 L76.00 258.17 L77.00 258.14 L78.00 258.10 L79.00 258.07 L80.00 258.03 L81.00 258.00 L82.00 257.96 L83.00 257.93 L84.00 257.89 L85.00 257.85 L86.00 257.81 L87.00 257.78 L88.00 257.74 L89.00 257.70 L90.00 257.66 L91.00 257.61 L92.00 257.57 L93.00 257.53 L94.00 257.48 L95.00 257.43 L96.00 257.38 L97.00 257.33 L98.00 257.28 L99.00 257.23 L100.00 257.18 L101.00 257.12 L102.00 257.06 L103.00 257.01 L104.00 256.95 L105.00 256.89 L106.00 256.83 L107.00 256.77 L108.00 256.71 L109.00 256.65 L110.00 256.58 L111.00 256.52 L112.00 256.46 L113.00 256.39 L114.00 256.33 L115.00 256.26 L116.00 256.20 L117.00 256.13 L118.00 256.06 L119.00 256.00 L120.00 255.93 L121.00 255.87 L122.00 255.80 L123.00 255.74 L124.00 255.67 L125.00 255.61 L126.00 255.54 L127.00 255.48 L128.00 255.41 L129.00 255.35 L130.00 255.29 L131.00 255.23 L132.00 255.16 L133.00 255.10 L134.00 255.04 L135.00 254.98 L136.00 254.93 L137.00 254.87 L138.00 254.81 L139.00 254.76 L140.00 254.70 L141.00 254.65 L142.00 254.60 L143.00 254.54 L144.00 254.49 L145.00 254.44 L146.00 254.39 L147.00 254.34 L148.00 254.29 L149.00 254.24 L150.00 254.19 L151.00 254.14 L152.00 254.09 L153.00 254.04 L154.00 253.99 L155.00 253.94 L156.00 253.89 L157.00 253.84 L158.00 253.80 L159.00 253.75 L160.00 253.70 L161.00 253.65 L162.00 253.60 L163.00 253.55 L164.00 253.51 L165.00 253.46 L166.00 253.41 L167.00 253.36 L168.00 253.31 L169.00 253.26 L170.00 253.21 L171.00 253.16 L172.00 253.11 L173.00 253.06 L174.00 253.02 L175.00 252.97 L176.00 252.92 L177.00 252.87 L178.00 252.82 L179.00 252.77 L180.00 252.73 L181.00 252.68 L182.00 252.63 L183.00 252.59 L184.00 252.54 L185.00 252.49 L186.00 252.45 L187.00 252.41 L188.00 252.36 L189.00 252.32 L190.00 252.28 L191.00 252.24 L192.00 252.20 L193.00 252.16 L194.00 252.12 L195.00 252.08 L196.00 252.04 L197.00 252.01 L198.00 251.97 L199.00 251.94 L200.00 251.90 L201.00 251.87 L202.00 251.83 L203.00 251.80 L204.00 251.76 L205.00 251.73 L206.00 251.70 L207.00 251.66 L208.00 251.63 L209.00 251.59 L210.00 251.56 L211.00 251.52 L212.00 251.49 L213.00 251.45 L214.00 251.42 L215.00 251.39 L216.00 251.36 L217.00 251.33 L218.00 251.30 L219.00 251.27 L220.00 251.24 L221.00 251.21 L222.00 251.19 L223.00 251.16 L224.00 251.14 L225.00 251.12 L226.00 251.10 L227.00 251.08 L228.00 251.06 L229.00 251.05 L230.00 251.04 L231.00 251.03 L232.00 251.02 L233.00 251.01 L234.00 251.01 L235.00 251.01 L236.00 251.01 L237.00 251.01 L238.00 251.02 L239.00 251.02 L240.00 251.03 L241.00 251.05 L242.00 251.06 L243.00 251.08 L244.00 251.09 L245.00 251.11 L246.00 251.14 L247.00 251.16 L248.00 251.18 L249.00 251.21 L250.00 251.24 L251.00 251.27 L252.00 251.31 L253.00 251.34 L254.00 251.38 L255.00 251.42 L256.00 251.46 L257.00 251.50 L258.00 251.55 L259.00 251.59 L260.00 251.64 L261.00 251.69 L262.00 251.74 L263.00 251.79 L264.00 251.85 L265.00 251.90 L266.00 251.96 L267.00 252.02 L268.00 252.09 L269.00 252.16 L270.00 252.24 L271.00 252.34 L272.00 252.45 L273.00 252.58 L274.00 252.72 L275.00 252.88 L276.00 253.05 L277.00 253.23 L278.00 253.42 L279.00 253.61 L280.00 253.81 L281.00 254.02 L282.00 254.23 L283.00 254.45 L284.00 254.68 L285.00 254.91 L286.00 255.16 L287.00 255.41 L288.00 255.67 L289.00 255.94 L290.00 256.21 L291.00 256.50 L292.00 256.80 L293.00 257.10 L294.00 257.42 L295.00 257.75 L296.00 258.10 L297.00 258.47 L298.00 258.86 L299.00 259.26 L300.00 259.69 L301.00 260.13 L302.00 260.58 L303.00 261.03 L304.00 261.50 L305.00 261.96 L306.00 262.42 L307.00 262.87 L308.00 263.32 L309.00 263.75 L310.00 264.17 L311.00 264.58 L312.00 264.98 L313.00 265.38 L314.00 265.76 L315.00 266.14 L316.00 266.51 L317.00 266.88 L318.00 267.25 L319.00 267.61 L320.00 267.96 L321.00 268.31 L322.00 268.66 L323.00 269.00 L324.00 269.33 L325.00 269.67 L326.00 270.00" stroke="#f01818" stroke-width="1.2" stroke-dasharray="12.4 4.5" transform="translate(0 -0.6)"/>
</g>
<g>
<g transform="matrix(1.0300 0 0 1.0054 25.085 21.000)"><text x="0" y="0" font-family="Liberation Serif" fill="#111" stroke="#fff" stroke-width="0.12" paint-order="fill" font-size="14" text-anchor="start" >200</text></g>
<g transform="matrix(1.0545 0 0 0.9895 24.482 49.553)"><text x="0" y="0" font-family="Liberation Serif" fill="#111" stroke="#fff" stroke-width="0.12" paint-order="fill" font-size="14" text-anchor="start" >150</text></g>
<g transform="matrix(1.0545 0 0 1.0162 24.482 78.200)"><text x="0" y="0" font-family="Liberation Serif" fill="#111" stroke="#fff" stroke-width="0.12" paint-order="fill" font-size="14" text-anchor="start" >100</text></g>
<g transform="matrix(1.0745 0 0 0.9895 31.494 106.853)"><text x="0" y="0" font-family="Liberation Serif" fill="#111" stroke="#fff" stroke-width="0.12" paint-order="fill" font-size="14" text-anchor="start" >50</text></g>
<g transform="matrix(1.1333 0 0 1.0054 38.633 136.200)"><text x="0" y="0" font-family="Liberation Serif" fill="#111" stroke="#fff" stroke-width="0.12" paint-order="fill" font-size="14" text-anchor="start" >0</text></g>
<g transform="matrix(1.0300 0 0 1.0054 25.085 160.500)"><text x="0" y="0" font-family="Liberation Serif" fill="#111" stroke="#fff" stroke-width="0.12" paint-order="fill" font-size="14" text-anchor="start" >200</text></g>
<g transform="matrix(1.0545 0 0 0.9895 24.482 189.053)"><text x="0" y="0" font-family="Liberation Serif" fill="#111" stroke="#fff" stroke-width="0.12" paint-order="fill" font-size="14" text-anchor="start" >150</text></g>
<g transform="matrix(1.0545 0 0 1.0162 24.482 217.700)"><text x="0" y="0" font-family="Liberation Serif" fill="#111" stroke="#fff" stroke-width="0.12" paint-order="fill" font-size="14" text-anchor="start" >100</text></g>
<g transform="matrix(1.0745 0 0 0.9895 31.494 246.353)"><text x="0" y="0" font-family="Liberation Serif" fill="#111" stroke="#fff" stroke-width="0.12" paint-order="fill" font-size="14" text-anchor="start" >50</text></g>
<g transform="matrix(1.1333 0 0 1.0054 38.633 275.700)"><text x="0" y="0" font-family="Liberation Serif" fill="#111" stroke="#fff" stroke-width="0.12" paint-order="fill" font-size="14" text-anchor="start" >0</text></g>
<g transform="matrix(1.1604 0 0 1.0844 64.127 298.700)"><text x="0" y="0" font-family="Liberation Serif" fill="#111" stroke="#fff" stroke-width="0.12" paint-order="fill" font-size="14" text-anchor="start" >10<tspan font-size="9.5" dy="-5">&#8722;6</tspan></text></g>
<g transform="matrix(1.1604 0 0 1.0844 125.683 298.700)"><text x="0" y="0" font-family="Liberation Serif" fill="#111" stroke="#fff" stroke-width="0.12" paint-order="fill" font-size="14" text-anchor="start" >10<tspan font-size="9.5" dy="-5">&#8722;4</tspan></text></g>
<g transform="matrix(1.1733 0 0 1.0844 187.222 298.700)"><text x="0" y="0" font-family="Liberation Serif" fill="#111" stroke="#fff" stroke-width="0.12" paint-order="fill" font-size="14" text-anchor="start" >10<tspan font-size="9.5" dy="-5">&#8722;2</tspan></text></g>
<g transform="matrix(1.0783 0 0 1.0844 252.597 298.700)"><text x="0" y="0" font-family="Liberation Serif" fill="#111" stroke="#fff" stroke-width="0.12" paint-order="fill" font-size="14" text-anchor="start" >10<tspan font-size="9.5" dy="-5">0</tspan></text></g>
<g transform="matrix(1.0941 0 0 1.0844 314.132 298.700)"><text x="0" y="0" font-family="Liberation Serif" fill="#111" stroke="#fff" stroke-width="0.12" paint-order="fill" font-size="14" text-anchor="start" >10<tspan font-size="9.5" dy="-5">2</tspan></text></g>
<g transform="matrix(1.1855 0 0 1.1592 175.311 320.912)"><text x="0" y="0" font-family="Liberation Serif" fill="#111" stroke="#fff" stroke-width="0.12" paint-order="fill" font-size="14" text-anchor="start" ><tspan font-style="italic">t</tspan> (s)</text></g>
<g transform="matrix(1.0226 0 0 0.9895 79.577 20.753)"><text x="0" y="0" font-family="Liberation Serif" fill="#111" stroke="#fff" stroke-width="0.12" paint-order="fill" font-size="14" text-anchor="start" ><tspan font-style="italic">T</tspan><tspan x="29.5">293</tspan><tspan x="55.3">K</tspan></text></g>
<g transform="matrix(1.0272 0 0 0.9895 79.373 160.253)"><text x="0" y="0" font-family="Liberation Serif" fill="#111" stroke="#fff" stroke-width="0.12" paint-order="fill" font-size="14" text-anchor="start" ><tspan font-style="italic">T</tspan><tspan x="29.5">198</tspan><tspan x="55.3">K</tspan></text></g>
<g transform="matrix(1.0966 0 0 1.1184 179.552 19.824)"><text x="0" y="0" font-family="Liberation Serif" fill="#111" stroke="#fff" stroke-width="0.12" paint-order="fill" font-size="14" text-anchor="start" >(a)</text></g>
<g transform="matrix(1.0623 0 0 1.1120 179.269 159.842)"><text x="0" y="0" font-family="Liberation Serif" fill="#111" stroke="#fff" stroke-width="0.12" paint-order="fill" font-size="14" text-anchor="start" >(b)</text></g>
<g transform="matrix(1.0210 0 0 1.0211 273.990 17.445)"><text x="0" y="0" font-family="Liberation Serif" fill="#111" stroke="#fff" stroke-width="0.12" paint-order="fill" font-size="14" text-anchor="start" >Fe:LN</text></g>
<g transform="matrix(1.0690 0 0 0.9895 266.233 35.353)"><text x="0" y="0" font-family="Liberation Serif" fill="#111" stroke="#fff" stroke-width="0.12" paint-order="fill" font-size="14" text-anchor="start" >445 nm</text></g>
<g transform="matrix(1.0690 0 0 0.9895 266.233 47.953)"><text x="0" y="0" font-family="Liberation Serif" fill="#111" stroke="#fff" stroke-width="0.12" paint-order="fill" font-size="14" text-anchor="start" >488 nm</text></g>
<g transform="matrix(1.0754 0 0 0.9895 265.962 61.353)"><text x="0" y="0" font-family="Liberation Serif" fill="#111" stroke="#fff" stroke-width="0.12" paint-order="fill" font-size="14" text-anchor="start" >633 nm</text></g>
<g transform="matrix(1.0885 0 0 0.9895 265.412 73.953)"><text x="0" y="0" font-family="Liberation Serif" fill="#111" stroke="#fff" stroke-width="0.12" paint-order="fill" font-size="14" text-anchor="start" >785 nm</text></g>
<g transform="matrix(0.9125 0 0 1.0220 1.600 -1.701)"><g transform="rotate(-90)"><text font-family="Liberation Serif" fill="#111" stroke="#fff" stroke-width="0.12" paint-order="fill" font-size="14"><tspan x="-98.2" y="12.9" font-style="italic">&#945;</tspan><tspan x="-91.2" y="14.6" font-size="10">li</tspan><tspan x="-78.6" y="13.2">(</tspan><tspan x="-74.0" y="13.2">m</tspan><tspan x="-61.2" y="6.6" font-size="10">&#8722;1</tspan><tspan x="-49.6" y="13.2">)</tspan></text></g></g>
<g transform="matrix(0.9125 0 0 1.0220 1.600 137.799)"><g transform="rotate(-90)"><text font-family="Liberation Serif" fill="#111" stroke="#fff" stroke-width="0.12" paint-order="fill" font-size="14"><tspan x="-98.2" y="12.9" font-style="italic">&#945;</tspan><tspan x="-91.2" y="14.6" font-size="10">li</tspan><tspan x="-78.6" y="13.2">(</tspan><tspan x="-74.0" y="13.2">m</tspan><tspan x="-61.2" y="6.6" font-size="10">&#8722;1</tspan><tspan x="-49.6" y="13.2">)</tspan></text></g></g>
</g>
<line x1="95.9" y1="16.10" x2="104.8" y2="16.10" stroke="#1a1a1a" stroke-width="0.85"/>
<line x1="95.9" y1="18.60" x2="104.8" y2="18.60" stroke="#1a1a1a" stroke-width="0.85"/>
<line x1="95.9" y1="155.60" x2="104.8" y2="155.60" stroke="#1a1a1a" stroke-width="0.85"/>
<line x1="95.9" y1="158.10" x2="104.8" y2="158.10" stroke="#1a1a1a" stroke-width="0.85"/>
<line x1="242" y1="33.0" x2="262.2" y2="33.0" stroke="#2b1b8f" stroke-width="1.8"/>
<line x1="242" y1="43.6" x2="262.2" y2="43.6" stroke="#1c9bb4" stroke-width="1.8"/>
<line x1="242" y1="56.8" x2="262.2" y2="56.8" stroke="#56987c" stroke-width="1.8"/>
<line x1="242" y1="69.6" x2="262.2" y2="69.6" stroke="#f0913f" stroke-width="1.8"/>
</svg>
</body></html>
